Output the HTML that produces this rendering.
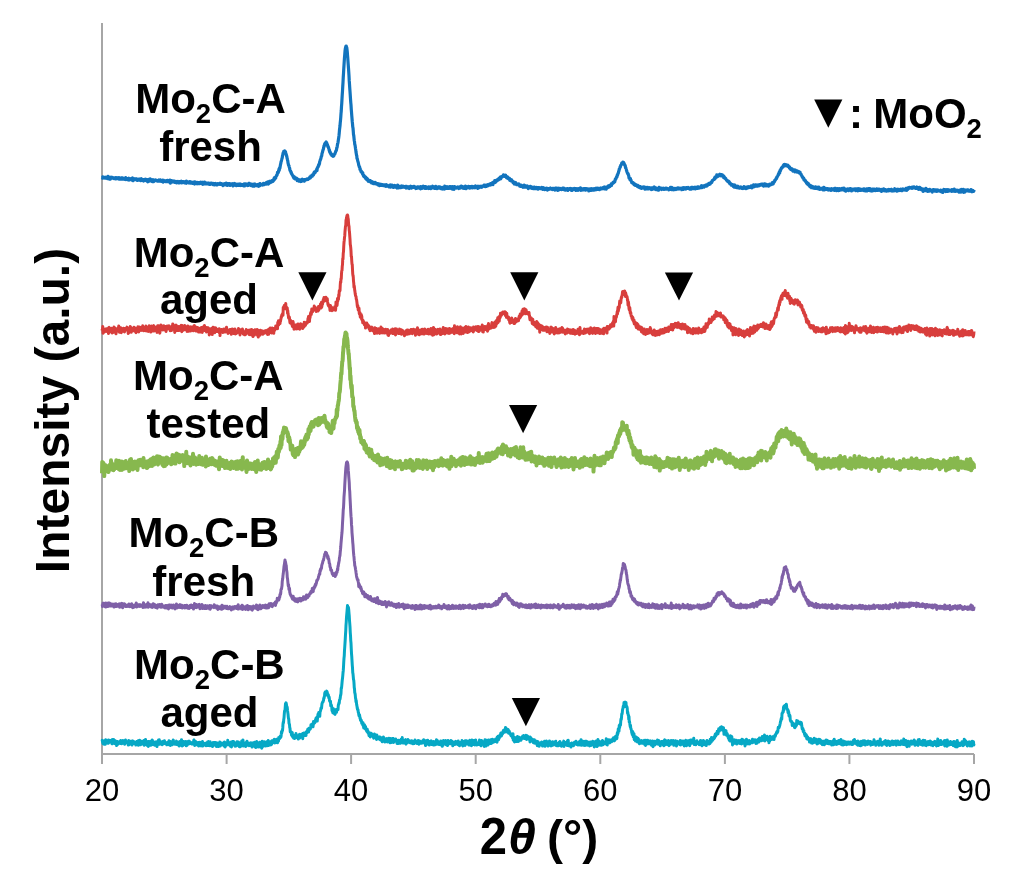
<!DOCTYPE html>
<html><head><meta charset="utf-8"><style>html,body{margin:0;padding:0;background:#fff;width:1024px;height:876px;overflow:hidden}svg text{font-family:'Liberation Sans',sans-serif;fill:#000} svg{will-change:transform}</style></head>
<body><svg width="1024" height="876" viewBox="0 0 1024 876" style="display:block;font-family:'Liberation Sans',sans-serif"><path d="M102,23 V754 H974" fill="none" stroke="#a6a6a6" stroke-width="2"/><line x1="102.0" y1="754" x2="102.0" y2="764" stroke="#a6a6a6" stroke-width="2"/><text x="102.0" y="801" text-anchor="middle" font-size="31">20</text><line x1="226.6" y1="754" x2="226.6" y2="764" stroke="#a6a6a6" stroke-width="2"/><text x="226.6" y="801" text-anchor="middle" font-size="31">30</text><line x1="351.1" y1="754" x2="351.1" y2="764" stroke="#a6a6a6" stroke-width="2"/><text x="351.1" y="801" text-anchor="middle" font-size="31">40</text><line x1="475.7" y1="754" x2="475.7" y2="764" stroke="#a6a6a6" stroke-width="2"/><text x="475.7" y="801" text-anchor="middle" font-size="31">50</text><line x1="600.3" y1="754" x2="600.3" y2="764" stroke="#a6a6a6" stroke-width="2"/><text x="600.3" y="801" text-anchor="middle" font-size="31">60</text><line x1="724.9" y1="754" x2="724.9" y2="764" stroke="#a6a6a6" stroke-width="2"/><text x="724.9" y="801" text-anchor="middle" font-size="31">70</text><line x1="849.4" y1="754" x2="849.4" y2="764" stroke="#a6a6a6" stroke-width="2"/><text x="849.4" y="801" text-anchor="middle" font-size="31">80</text><line x1="974.0" y1="754" x2="974.0" y2="764" stroke="#a6a6a6" stroke-width="2"/><text x="974.0" y="801" text-anchor="middle" font-size="31">90</text><polyline points="102.00,177.7 102.25,178.0 102.50,177.7 102.75,176.9 103.00,178.1 103.25,177.8 103.50,177.3 103.75,177.9 104.00,177.8 104.25,177.8 104.50,177.7 104.75,178.0 105.00,177.3 105.25,177.6 105.50,177.5 105.75,178.1 106.00,177.8 106.25,177.6 106.50,177.4 106.75,177.7 107.00,177.8 107.25,177.7 107.50,178.6 107.75,178.4 108.00,176.4 108.25,176.9 108.50,177.8 108.75,177.7 109.00,178.1 109.25,178.1 109.50,179.1 109.75,177.4 110.00,177.8 110.25,179.1 110.50,178.4 110.75,178.4 111.00,177.8 111.25,177.2 111.50,178.2 111.75,178.2 112.00,177.4 112.25,177.8 112.50,178.1 112.75,177.6 113.00,178.1 113.25,178.2 113.50,178.2 113.75,177.9 114.00,178.6 114.25,178.7 114.50,178.4 114.75,177.8 115.00,178.7 115.25,178.0 115.50,178.8 115.75,177.7 116.00,178.9 116.25,178.4 116.50,177.7 116.75,178.2 117.00,178.4 117.25,178.6 117.50,177.9 117.75,177.8 118.00,178.6 118.25,178.2 118.50,178.6 118.75,178.9 119.00,177.6 119.25,178.7 119.50,179.2 119.75,178.4 120.00,178.1 120.25,179.0 120.50,178.8 120.75,179.1 121.00,178.5 121.25,177.8 121.50,178.6 121.75,178.4 122.00,179.1 122.25,178.8 122.50,177.8 122.75,178.1 123.00,179.2 123.25,179.2 123.50,178.4 123.75,178.8 124.00,179.1 124.25,179.1 124.50,179.3 124.75,179.0 125.00,178.8 125.25,178.8 125.50,179.5 125.75,177.7 126.00,178.9 126.25,179.0 126.50,178.2 126.75,179.2 127.00,178.6 127.25,179.5 127.50,179.0 127.75,179.4 128.00,179.7 128.25,179.3 128.50,178.6 128.75,178.3 129.00,180.1 129.25,179.1 129.50,178.8 129.75,179.2 130.00,179.1 130.25,179.7 130.50,179.2 130.75,179.2 131.00,178.8 131.25,179.5 131.50,178.7 131.75,179.6 132.00,180.1 132.25,178.5 132.50,178.0 132.75,179.7 133.00,180.7 133.25,178.8 133.50,178.7 133.75,179.7 134.00,178.9 134.25,179.1 134.50,179.2 134.75,179.7 135.00,179.2 135.25,179.6 135.50,179.4 135.75,179.0 136.00,179.3 136.25,179.0 136.50,179.6 136.75,179.0 137.00,179.0 137.25,180.4 137.50,179.6 137.75,179.6 138.00,179.9 138.25,179.4 138.50,179.5 138.75,179.9 139.00,179.9 139.25,179.1 139.50,180.2 139.75,179.4 140.00,179.2 140.25,179.3 140.50,179.6 140.75,180.7 141.00,179.2 141.25,179.9 141.50,178.7 141.75,179.9 142.00,180.4 142.25,179.8 142.50,179.6 142.75,180.0 143.00,180.3 143.25,180.3 143.50,181.0 143.75,180.1 144.00,179.7 144.25,179.9 144.50,180.0 144.75,180.1 145.00,180.0 145.25,180.2 145.50,179.2 145.75,180.5 146.00,179.8 146.25,179.5 146.50,180.5 146.75,180.9 147.00,180.4 147.25,180.3 147.50,179.7 147.75,181.8 148.00,180.7 148.25,179.6 148.50,179.8 148.75,180.3 149.00,179.4 149.25,180.4 149.50,180.1 149.75,181.0 150.00,180.9 150.25,178.9 150.50,180.4 150.75,179.5 151.00,181.0 151.25,180.5 151.50,180.7 151.75,179.9 152.00,181.5 152.25,181.6 152.50,179.9 152.75,180.7 153.00,180.1 153.25,180.5 153.50,179.8 153.75,181.6 154.00,180.0 154.25,180.4 154.50,180.9 154.75,180.3 155.00,180.5 155.25,180.3 155.50,180.6 155.75,180.0 156.00,180.4 156.25,180.6 156.50,180.5 156.75,180.8 157.00,180.6 157.25,181.2 157.50,180.6 157.75,180.7 158.00,180.4 158.25,180.5 158.50,180.1 158.75,181.1 159.00,180.2 159.25,180.5 159.50,181.1 159.75,181.1 160.00,180.7 160.25,179.8 160.50,181.2 160.75,181.1 161.00,180.2 161.25,181.4 161.50,180.6 161.75,180.4 162.00,181.1 162.25,180.9 162.50,181.2 162.75,180.2 163.00,182.1 163.25,180.8 163.50,180.3 163.75,181.5 164.00,181.0 164.25,181.3 164.50,181.0 164.75,181.2 165.00,181.3 165.25,180.8 165.50,181.6 165.75,181.0 166.00,180.8 166.25,181.3 166.50,181.5 166.75,181.2 167.00,180.8 167.25,181.7 167.50,180.4 167.75,180.8 168.00,181.4 168.25,180.6 168.50,181.4 168.75,181.4 169.00,181.9 169.25,180.9 169.50,181.1 169.75,181.7 170.00,180.1 170.25,183.2 170.50,181.1 170.75,181.1 171.00,182.0 171.25,181.5 171.50,180.6 171.75,181.9 172.00,182.1 172.25,181.4 172.50,181.5 172.75,181.9 173.00,181.2 173.25,181.9 173.50,181.8 173.75,181.3 174.00,181.0 174.25,181.6 174.50,181.3 174.75,182.3 175.00,181.9 175.25,182.2 175.50,181.9 175.75,182.0 176.00,181.4 176.25,182.2 176.50,182.8 176.75,181.7 177.00,181.6 177.25,181.8 177.50,181.6 177.75,181.5 178.00,182.0 178.25,181.8 178.50,182.8 178.75,182.0 179.00,182.2 179.25,182.5 179.50,181.9 179.75,182.8 180.00,181.7 180.25,181.6 180.50,181.9 180.75,182.0 181.00,181.3 181.25,182.1 181.50,181.2 181.75,182.9 182.00,182.1 182.25,181.8 182.50,181.7 182.75,182.0 183.00,182.1 183.25,181.7 183.50,181.7 183.75,182.1 184.00,182.0 184.25,182.8 184.50,182.9 184.75,182.3 185.00,182.6 185.25,181.6 185.50,182.7 185.75,182.3 186.00,182.6 186.25,183.3 186.50,181.1 186.75,182.5 187.00,181.8 187.25,182.8 187.50,181.7 187.75,182.2 188.00,182.6 188.25,182.8 188.50,182.5 188.75,182.1 189.00,182.2 189.25,183.0 189.50,182.5 189.75,181.6 190.00,183.0 190.25,182.8 190.50,183.1 190.75,182.4 191.00,183.1 191.25,182.1 191.50,183.0 191.75,182.4 192.00,183.0 192.25,183.2 192.50,182.3 192.75,182.7 193.00,182.7 193.25,183.4 193.50,183.1 193.75,182.1 194.00,183.0 194.25,183.2 194.50,184.0 194.75,181.9 195.00,182.5 195.25,183.6 195.50,182.1 195.75,182.2 196.00,183.2 196.25,183.5 196.50,182.5 196.75,183.2 197.00,183.0 197.25,183.8 197.50,183.0 197.75,183.5 198.00,182.5 198.25,182.9 198.50,183.0 198.75,183.6 199.00,183.4 199.25,182.6 199.50,183.4 199.75,183.5 200.00,183.0 200.25,183.0 200.50,183.0 200.75,182.2 201.00,183.2 201.25,183.3 201.50,182.7 201.75,183.6 202.00,182.4 202.25,182.9 202.50,182.9 202.75,184.3 203.00,182.4 203.25,183.6 203.50,183.8 203.75,183.5 204.00,183.9 204.25,182.7 204.50,182.1 204.75,183.7 205.00,182.7 205.25,183.2 205.50,182.7 205.75,183.9 206.00,183.9 206.25,183.0 206.50,183.9 206.75,183.5 207.00,183.4 207.25,183.5 207.50,183.3 207.75,183.8 208.00,183.6 208.25,183.3 208.50,184.1 208.75,183.2 209.00,183.7 209.25,183.8 209.50,184.4 209.75,183.3 210.00,184.5 210.25,183.7 210.50,183.5 210.75,183.2 211.00,183.9 211.25,183.7 211.50,183.0 211.75,183.0 212.00,183.4 212.25,183.3 212.50,184.3 212.75,184.5 213.00,184.2 213.25,183.9 213.50,183.5 213.75,183.8 214.00,184.2 214.25,184.9 214.50,184.3 214.75,183.6 215.00,183.8 215.25,183.6 215.50,183.4 215.75,183.7 216.00,184.0 216.25,184.9 216.50,183.9 216.75,184.6 217.00,184.9 217.25,184.0 217.50,184.8 217.75,184.3 218.00,183.7 218.25,184.1 218.50,184.0 218.75,183.9 219.00,183.9 219.25,184.1 219.50,184.3 219.75,183.5 220.00,184.0 220.25,183.2 220.50,184.2 220.75,184.4 221.00,184.2 221.25,184.2 221.50,184.4 221.75,183.7 222.00,184.0 222.25,184.4 222.50,184.7 222.75,184.4 223.00,185.6 223.25,184.1 223.50,184.7 223.75,184.9 224.00,184.1 224.25,183.8 224.50,183.6 224.75,184.3 225.00,184.9 225.25,184.4 225.50,184.4 225.75,184.1 226.00,184.6 226.25,183.1 226.50,184.4 226.75,184.3 227.00,183.6 227.25,185.5 227.50,183.6 227.75,183.8 228.00,183.7 228.25,185.0 228.50,183.9 228.75,184.8 229.00,184.7 229.25,184.6 229.50,183.7 229.75,184.1 230.00,185.4 230.25,183.8 230.50,184.0 230.75,184.4 231.00,184.9 231.25,184.6 231.50,184.9 231.75,183.9 232.00,185.0 232.25,184.9 232.50,183.7 232.75,185.4 233.00,185.8 233.25,184.2 233.50,184.6 233.75,185.4 234.00,183.8 234.25,183.5 234.50,183.9 234.75,184.3 235.00,184.3 235.25,185.0 235.50,184.8 235.75,184.0 236.00,185.0 236.25,185.7 236.50,185.3 236.75,185.2 237.00,184.7 237.25,185.3 237.50,184.2 237.75,185.1 238.00,184.7 238.25,185.4 238.50,185.0 238.75,184.2 239.00,184.8 239.25,185.4 239.50,184.2 239.75,184.5 240.00,184.4 240.25,184.0 240.50,185.3 240.75,185.5 241.00,185.3 241.25,185.0 241.50,184.8 241.75,185.0 242.00,184.4 242.25,185.3 242.50,185.4 242.75,185.4 243.00,184.6 243.25,184.9 243.50,184.8 243.75,185.9 244.00,185.0 244.25,183.9 244.50,185.1 244.75,185.9 245.00,185.3 245.25,185.4 245.50,184.9 245.75,183.8 246.00,183.9 246.25,184.3 246.50,184.9 246.75,185.1 247.00,185.3 247.25,184.8 247.50,185.5 247.75,184.8 248.00,184.6 248.25,185.4 248.50,184.5 248.75,183.5 249.00,184.4 249.25,185.0 249.50,183.3 249.75,184.8 250.00,184.8 250.25,184.2 250.50,184.2 250.75,184.7 251.00,184.7 251.25,185.7 251.50,185.2 251.75,184.1 252.00,184.5 252.25,185.4 252.50,186.0 252.75,185.2 253.00,185.1 253.25,186.0 253.50,184.9 253.75,184.8 254.00,184.2 254.25,184.7 254.50,186.1 254.75,184.2 255.00,184.9 255.25,184.2 255.50,185.0 255.75,185.4 256.00,184.8 256.25,185.3 256.50,185.3 256.75,185.1 257.00,185.8 257.25,185.3 257.50,184.7 257.75,184.5 258.00,184.4 258.25,185.1 258.50,184.6 258.75,186.3 259.00,185.8 259.25,184.7 259.50,184.6 259.75,185.7 260.00,183.7 260.25,184.4 260.50,185.2 260.75,184.1 261.00,184.3 261.25,184.4 261.50,184.9 261.75,184.6 262.00,184.7 262.25,184.8 262.50,184.4 262.75,185.0 263.00,183.9 263.25,183.5 263.50,183.3 263.75,183.3 264.00,183.8 264.25,184.7 264.50,184.1 264.75,183.7 265.00,183.4 265.25,183.6 265.50,183.6 265.75,183.5 266.00,182.9 266.25,183.4 266.50,184.1 266.75,182.3 267.00,183.3 267.25,182.2 267.50,183.4 267.75,182.8 268.00,182.0 268.25,183.1 268.50,184.0 268.75,182.9 269.00,183.4 269.25,182.6 269.50,181.4 269.75,182.7 270.00,182.1 270.25,181.5 270.50,182.5 270.75,182.1 271.00,181.6 271.25,182.2 271.50,181.1 271.75,181.8 272.00,180.7 272.25,181.4 272.50,180.3 272.75,181.5 273.00,180.6 273.25,181.1 273.50,179.6 273.75,179.6 274.00,180.1 274.25,177.9 274.50,178.5 274.75,179.3 275.00,178.7 275.25,178.7 275.50,177.7 275.75,177.8 276.00,176.7 276.25,176.0 276.50,175.4 276.75,175.5 277.00,175.0 277.25,174.5 277.50,172.4 277.75,172.6 278.00,172.8 278.25,172.6 278.50,171.4 278.75,170.5 279.00,169.1 279.25,170.4 279.50,168.0 279.75,168.5 280.00,167.5 280.25,165.9 280.50,164.4 280.75,163.7 281.00,162.0 281.25,161.5 281.50,160.3 281.75,159.4 282.00,158.4 282.25,157.7 282.50,155.6 282.75,155.3 283.00,153.5 283.25,152.6 283.50,152.0 283.75,151.3 284.00,151.8 284.25,151.5 284.50,151.5 284.75,151.0 285.00,151.4 285.25,151.5 285.50,151.8 285.75,153.2 286.00,154.0 286.25,154.3 286.50,156.1 286.75,156.0 287.00,157.8 287.25,158.7 287.50,159.9 287.75,160.7 288.00,162.8 288.25,163.7 288.50,165.0 288.75,165.5 289.00,165.8 289.25,167.1 289.50,167.6 289.75,169.2 290.00,170.4 290.25,170.7 290.50,170.9 290.75,171.6 291.00,172.6 291.25,172.3 291.50,173.6 291.75,174.2 292.00,174.3 292.25,174.8 292.50,175.5 292.75,175.4 293.00,175.7 293.25,176.9 293.50,176.9 293.75,178.0 294.00,176.9 294.25,176.7 294.50,178.4 294.75,178.7 295.00,178.0 295.25,177.8 295.50,178.7 295.75,178.0 296.00,178.9 296.25,178.1 296.50,179.3 296.75,178.4 297.00,179.5 297.25,180.6 297.50,179.7 297.75,180.4 298.00,179.7 298.25,179.7 298.50,179.4 298.75,180.8 299.00,180.3 299.25,181.2 299.50,179.8 299.75,180.3 300.00,180.5 300.25,181.3 300.50,181.5 300.75,180.2 301.00,180.0 301.25,179.7 301.50,181.3 301.75,180.5 302.00,180.2 302.25,180.5 302.50,179.2 302.75,179.6 303.00,181.0 303.25,180.7 303.50,180.5 303.75,179.8 304.00,180.6 304.25,181.2 304.50,179.6 304.75,180.2 305.00,179.8 305.25,180.2 305.50,179.9 305.75,179.8 306.00,179.3 306.25,179.6 306.50,179.2 306.75,179.4 307.00,179.3 307.25,179.6 307.50,178.8 307.75,178.8 308.00,179.4 308.25,178.6 308.50,178.4 308.75,178.9 309.00,178.4 309.25,178.1 309.50,178.0 309.75,177.1 310.00,177.8 310.25,178.1 310.50,177.5 310.75,176.2 311.00,176.9 311.25,176.1 311.50,176.2 311.75,176.2 312.00,175.2 312.25,176.3 312.50,175.3 312.75,175.5 313.00,175.1 313.25,175.2 313.50,174.8 313.75,173.2 314.00,173.6 314.25,172.2 314.50,172.7 314.75,172.9 315.00,172.7 315.25,172.5 315.50,171.3 315.75,171.2 316.00,170.7 316.25,170.8 316.50,170.6 316.75,169.1 317.00,170.7 317.25,168.3 317.50,167.6 317.75,167.5 318.00,167.1 318.25,166.4 318.50,165.2 318.75,165.6 319.00,164.2 319.25,164.3 319.50,163.5 319.75,161.4 320.00,160.8 320.25,160.0 320.50,159.7 320.75,158.8 321.00,158.0 321.25,156.5 321.50,156.2 321.75,155.7 322.00,153.4 322.25,152.9 322.50,152.1 322.75,150.9 323.00,149.8 323.25,149.7 323.50,148.5 323.75,147.4 324.00,145.8 324.25,146.3 324.50,144.8 324.75,143.7 325.00,143.4 325.25,142.9 325.50,143.8 325.75,142.9 326.00,142.8 326.25,142.0 326.50,143.5 326.75,143.1 327.00,143.5 327.25,144.9 327.50,144.8 327.75,146.3 328.00,147.1 328.25,146.5 328.50,148.0 328.75,148.1 329.00,149.5 329.25,150.6 329.50,150.2 329.75,152.3 330.00,151.9 330.25,152.1 330.50,153.1 330.75,154.0 331.00,153.4 331.25,154.4 331.50,154.1 331.75,155.5 332.00,155.3 332.25,155.1 332.50,155.9 332.75,154.9 333.00,155.3 333.25,156.3 333.50,155.3 333.75,155.9 334.00,155.1 334.25,154.4 334.50,154.3 334.75,154.1 335.00,153.4 335.25,152.7 335.50,152.1 335.75,151.1 336.00,151.1 336.25,150.5 336.50,149.7 336.75,147.6 337.00,147.7 337.25,146.2 337.50,144.3 337.75,143.6 338.00,142.5 338.25,140.8 338.50,139.1 338.75,137.4 339.00,135.4 339.25,132.9 339.50,129.8 339.75,127.9 340.00,125.8 340.25,122.7 340.50,120.3 340.75,117.3 341.00,113.7 341.25,111.0 341.50,106.3 341.75,103.3 342.00,98.8 342.25,94.7 342.50,91.0 342.75,86.3 343.00,82.5 343.25,77.4 343.50,73.5 343.75,69.0 344.00,65.1 344.25,61.2 344.50,57.4 344.75,54.7 345.00,51.3 345.25,49.1 345.50,47.9 345.75,46.8 346.00,46.1 346.25,46.1 346.50,47.4 346.75,47.5 347.00,49.5 347.25,51.7 347.50,55.0 347.75,57.9 348.00,61.5 348.25,65.0 348.50,68.4 348.75,72.0 349.00,75.8 349.25,80.9 349.50,84.3 349.75,88.1 350.00,91.5 350.25,95.2 350.50,98.8 350.75,102.3 351.00,104.9 351.25,109.1 351.50,112.2 351.75,115.5 352.00,118.4 352.25,121.5 352.50,123.9 352.75,126.9 353.00,128.0 353.25,131.0 353.50,134.5 353.75,135.5 354.00,138.0 354.25,140.5 354.50,141.7 354.75,144.3 355.00,145.1 355.25,146.6 355.50,148.5 355.75,149.9 356.00,152.1 356.25,153.4 356.50,155.1 356.75,155.7 357.00,158.7 357.25,158.6 357.50,159.7 357.75,161.0 358.00,161.7 358.25,162.5 358.50,163.8 358.75,165.1 359.00,165.8 359.25,166.7 359.50,166.8 359.75,167.4 360.00,169.5 360.25,169.0 360.50,170.0 360.75,170.7 361.00,171.7 361.25,170.8 361.50,171.8 361.75,172.3 362.00,172.9 362.25,172.2 362.50,173.9 362.75,172.8 363.00,174.9 363.25,175.4 363.50,175.8 363.75,175.2 364.00,176.6 364.25,176.0 364.50,176.1 364.75,176.6 365.00,176.9 365.25,177.7 365.50,178.3 365.75,177.0 366.00,178.1 366.25,179.1 366.50,178.9 366.75,179.3 367.00,178.4 367.25,179.9 367.50,178.8 367.75,179.9 368.00,180.7 368.25,181.2 368.50,180.6 368.75,181.0 369.00,180.3 369.25,180.5 369.50,181.6 369.75,181.1 370.00,181.2 370.25,180.6 370.50,181.6 370.75,181.9 371.00,181.3 371.25,181.6 371.50,182.8 371.75,182.2 372.00,182.0 372.25,181.7 372.50,182.1 372.75,182.4 373.00,183.3 373.25,182.4 373.50,183.7 373.75,182.4 374.00,182.8 374.25,183.5 374.50,183.0 374.75,182.8 375.00,183.2 375.25,183.6 375.50,182.5 375.75,183.4 376.00,183.5 376.25,183.4 376.50,184.1 376.75,183.5 377.00,183.7 377.25,183.9 377.50,184.4 377.75,183.9 378.00,184.9 378.25,183.7 378.50,184.9 378.75,183.8 379.00,184.3 379.25,184.6 379.50,185.6 379.75,185.0 380.00,184.3 380.25,185.3 380.50,184.5 380.75,184.3 381.00,185.0 381.25,184.9 381.50,185.4 381.75,184.6 382.00,185.1 382.25,185.3 382.50,185.2 382.75,185.0 383.00,184.7 383.25,185.6 383.50,185.3 383.75,185.5 384.00,185.1 384.25,185.3 384.50,184.8 384.75,185.4 385.00,185.8 385.25,185.5 385.50,185.9 385.75,185.7 386.00,186.3 386.25,185.5 386.50,184.7 386.75,185.9 387.00,185.6 387.25,185.2 387.50,186.1 387.75,185.9 388.00,186.0 388.25,185.6 388.50,185.9 388.75,186.0 389.00,186.9 389.25,185.6 389.50,185.9 389.75,186.2 390.00,185.1 390.25,185.2 390.50,187.2 390.75,185.1 391.00,186.4 391.25,185.7 391.50,185.7 391.75,185.1 392.00,185.7 392.25,186.6 392.50,185.5 392.75,186.6 393.00,186.5 393.25,187.4 393.50,186.1 393.75,187.0 394.00,186.8 394.25,186.2 394.50,185.5 394.75,187.2 395.00,185.7 395.25,186.2 395.50,187.0 395.75,187.1 396.00,186.1 396.25,186.5 396.50,186.4 396.75,187.2 397.00,188.0 397.25,185.6 397.50,187.1 397.75,185.1 398.00,186.7 398.25,186.1 398.50,187.8 398.75,186.8 399.00,186.3 399.25,186.5 399.50,186.4 399.75,186.9 400.00,186.7 400.25,187.2 400.50,187.7 400.75,187.2 401.00,186.2 401.25,186.0 401.50,186.4 401.75,187.4 402.00,186.7 402.25,186.5 402.50,187.0 402.75,186.1 403.00,186.3 403.25,187.2 403.50,186.8 403.75,186.7 404.00,187.1 404.25,186.7 404.50,186.6 404.75,186.8 405.00,187.3 405.25,187.1 405.50,186.4 405.75,186.9 406.00,187.4 406.25,188.1 406.50,186.4 406.75,187.3 407.00,186.9 407.25,187.5 407.50,187.4 407.75,187.9 408.00,187.4 408.25,186.8 408.50,186.8 408.75,187.4 409.00,187.4 409.25,188.5 409.50,188.1 409.75,186.5 410.00,187.4 410.25,186.5 410.50,186.3 410.75,187.6 411.00,187.5 411.25,186.7 411.50,188.1 411.75,186.7 412.00,186.6 412.25,187.6 412.50,187.4 412.75,187.2 413.00,187.2 413.25,187.4 413.50,187.2 413.75,187.2 414.00,186.3 414.25,186.6 414.50,187.7 414.75,186.9 415.00,187.6 415.25,188.0 415.50,187.1 415.75,187.5 416.00,188.5 416.25,187.7 416.50,188.4 416.75,188.2 417.00,187.8 417.25,187.3 417.50,186.9 417.75,186.8 418.00,187.7 418.25,187.7 418.50,187.3 418.75,187.9 419.00,187.1 419.25,188.0 419.50,187.5 419.75,187.4 420.00,187.4 420.25,187.4 420.50,188.8 420.75,186.6 421.00,187.6 421.25,188.1 421.50,187.9 421.75,187.3 422.00,188.4 422.25,186.9 422.50,186.8 422.75,187.8 423.00,186.7 423.25,186.2 423.50,188.0 423.75,187.9 424.00,187.9 424.25,187.2 424.50,187.6 424.75,187.0 425.00,188.5 425.25,188.0 425.50,187.9 425.75,186.5 426.00,188.0 426.25,188.4 426.50,188.2 426.75,188.0 427.00,187.6 427.25,187.4 427.50,187.9 427.75,187.8 428.00,187.7 428.25,187.4 428.50,188.5 428.75,186.9 429.00,187.6 429.25,187.3 429.50,188.2 429.75,188.4 430.00,188.3 430.25,188.0 430.50,186.8 430.75,188.7 431.00,187.9 431.25,187.5 431.50,187.6 431.75,187.4 432.00,187.8 432.25,187.8 432.50,187.4 432.75,186.2 433.00,187.6 433.25,187.9 433.50,187.9 433.75,187.5 434.00,187.9 434.25,188.2 434.50,187.4 434.75,188.4 435.00,186.6 435.25,187.0 435.50,187.1 435.75,186.3 436.00,187.1 436.25,188.3 436.50,188.3 436.75,187.7 437.00,188.6 437.25,187.8 437.50,187.4 437.75,187.8 438.00,187.6 438.25,188.1 438.50,186.8 438.75,188.2 439.00,187.4 439.25,188.1 439.50,186.8 439.75,187.4 440.00,187.7 440.25,188.2 440.50,187.0 440.75,188.6 441.00,187.9 441.25,187.4 441.50,188.3 441.75,187.7 442.00,188.3 442.25,189.0 442.50,188.1 442.75,187.4 443.00,187.4 443.25,188.0 443.50,187.8 443.75,187.2 444.00,187.3 444.25,188.0 444.50,189.0 444.75,186.2 445.00,188.1 445.25,187.6 445.50,188.1 445.75,188.2 446.00,187.7 446.25,187.1 446.50,186.9 446.75,186.7 447.00,188.4 447.25,187.6 447.50,187.4 447.75,187.5 448.00,187.0 448.25,187.9 448.50,188.4 448.75,188.3 449.00,186.8 449.25,188.4 449.50,187.3 449.75,186.6 450.00,187.0 450.25,187.1 450.50,187.7 450.75,187.1 451.00,186.8 451.25,187.5 451.50,188.7 451.75,187.3 452.00,187.9 452.25,187.7 452.50,189.1 452.75,186.6 453.00,188.3 453.25,187.0 453.50,187.3 453.75,187.6 454.00,189.4 454.25,187.2 454.50,186.6 454.75,188.4 455.00,187.2 455.25,187.5 455.50,187.6 455.75,187.7 456.00,187.5 456.25,187.8 456.50,187.8 456.75,188.1 457.00,187.4 457.25,187.2 457.50,187.0 457.75,187.9 458.00,187.6 458.25,187.9 458.50,187.9 458.75,188.5 459.00,187.7 459.25,188.0 459.50,186.9 459.75,187.0 460.00,187.4 460.25,186.9 460.50,188.0 460.75,186.8 461.00,187.6 461.25,186.2 461.50,187.0 461.75,187.4 462.00,187.4 462.25,186.6 462.50,187.6 462.75,188.1 463.00,187.9 463.25,187.2 463.50,187.2 463.75,186.9 464.00,187.9 464.25,188.3 464.50,187.2 464.75,186.6 465.00,187.6 465.25,187.9 465.50,186.0 465.75,187.5 466.00,188.6 466.25,187.9 466.50,187.7 466.75,187.7 467.00,188.0 467.25,186.9 467.50,187.0 467.75,187.6 468.00,187.0 468.25,187.5 468.50,186.3 468.75,187.8 469.00,187.8 469.25,187.4 469.50,187.4 469.75,188.2 470.00,186.7 470.25,186.8 470.50,186.7 470.75,187.1 471.00,186.7 471.25,187.3 471.50,186.9 471.75,186.4 472.00,186.4 472.25,187.9 472.50,187.2 472.75,187.1 473.00,187.2 473.25,187.1 473.50,187.6 473.75,187.4 474.00,186.8 474.25,186.6 474.50,186.5 474.75,186.4 475.00,187.8 475.25,186.5 475.50,185.9 475.75,186.5 476.00,186.5 476.25,187.1 476.50,186.5 476.75,187.2 477.00,187.1 477.25,187.6 477.50,188.0 477.75,188.4 478.00,187.5 478.25,186.2 478.50,186.5 478.75,186.9 479.00,187.8 479.25,187.1 479.50,187.3 479.75,186.5 480.00,186.9 480.25,187.0 480.50,186.3 480.75,186.9 481.00,187.1 481.25,186.4 481.50,187.0 481.75,187.3 482.00,186.4 482.25,186.3 482.50,186.1 482.75,185.9 483.00,186.3 483.25,185.9 483.50,185.9 483.75,185.7 484.00,185.2 484.25,185.5 484.50,186.1 484.75,185.2 485.00,185.5 485.25,186.7 485.50,186.3 485.75,185.3 486.00,186.0 486.25,185.2 486.50,186.4 486.75,185.1 487.00,185.4 487.25,186.1 487.50,184.8 487.75,185.9 488.00,184.7 488.25,185.2 488.50,184.8 488.75,184.8 489.00,184.9 489.25,184.7 489.50,184.1 489.75,185.0 490.00,184.9 490.25,185.1 490.50,185.0 490.75,183.5 491.00,184.8 491.25,184.7 491.50,183.6 491.75,184.3 492.00,184.4 492.25,183.2 492.50,182.6 492.75,183.1 493.00,184.6 493.25,183.1 493.50,182.2 493.75,182.6 494.00,182.0 494.25,182.2 494.50,182.3 494.75,180.7 495.00,182.1 495.25,182.5 495.50,181.5 495.75,181.2 496.00,181.8 496.25,180.4 496.50,180.2 496.75,179.9 497.00,180.4 497.25,180.5 497.50,180.0 497.75,180.2 498.00,180.1 498.25,179.7 498.50,178.8 498.75,178.9 499.00,179.5 499.25,178.1 499.50,178.3 499.75,178.0 500.00,177.9 500.25,177.3 500.50,176.9 500.75,178.8 501.00,177.8 501.25,176.7 501.50,176.9 501.75,177.1 502.00,176.5 502.25,176.9 502.50,176.1 502.75,176.1 503.00,176.2 503.25,175.9 503.50,174.8 503.75,176.1 504.00,176.2 504.25,176.3 504.50,175.6 504.75,176.3 505.00,176.3 505.25,175.3 505.50,175.1 505.75,176.6 506.00,176.0 506.25,177.1 506.50,177.8 506.75,176.6 507.00,176.7 507.25,177.2 507.50,177.7 507.75,177.0 508.00,178.4 508.25,178.5 508.50,178.5 508.75,178.1 509.00,179.1 509.25,179.2 509.50,178.4 509.75,180.3 510.00,179.3 510.25,179.8 510.50,179.6 510.75,180.3 511.00,180.9 511.25,180.1 511.50,179.8 511.75,180.7 512.00,180.4 512.25,180.9 512.50,181.4 512.75,181.6 513.00,182.5 513.25,181.5 513.50,182.4 513.75,182.1 514.00,183.3 514.25,184.0 514.50,183.0 514.75,183.9 515.00,182.9 515.25,182.5 515.50,182.8 515.75,182.7 516.00,183.2 516.25,183.7 516.50,184.6 516.75,184.5 517.00,184.5 517.25,184.1 517.50,184.1 517.75,184.6 518.00,184.7 518.25,184.9 518.50,185.1 518.75,184.9 519.00,184.0 519.25,184.5 519.50,184.8 519.75,186.2 520.00,185.2 520.25,185.8 520.50,186.4 520.75,185.8 521.00,185.5 521.25,185.6 521.50,185.3 521.75,186.1 522.00,186.6 522.25,186.4 522.50,186.5 522.75,186.6 523.00,187.3 523.25,186.0 523.50,186.4 523.75,186.8 524.00,187.1 524.25,185.2 524.50,186.3 524.75,186.5 525.00,186.1 525.25,187.2 525.50,186.9 525.75,186.6 526.00,186.0 526.25,186.2 526.50,186.4 526.75,187.2 527.00,186.4 527.25,185.9 527.50,186.3 527.75,186.8 528.00,188.1 528.25,188.6 528.50,187.0 528.75,187.8 529.00,188.1 529.25,188.0 529.50,187.3 529.75,186.7 530.00,187.2 530.25,186.4 530.50,187.6 530.75,187.9 531.00,186.5 531.25,187.5 531.50,187.8 531.75,188.3 532.00,188.4 532.25,188.1 532.50,187.3 532.75,187.5 533.00,188.4 533.25,187.4 533.50,187.8 533.75,188.7 534.00,187.9 534.25,187.1 534.50,187.7 534.75,188.3 535.00,187.8 535.25,188.6 535.50,188.7 535.75,187.6 536.00,187.7 536.25,188.0 536.50,187.4 536.75,188.3 537.00,188.0 537.25,188.5 537.50,187.8 537.75,187.7 538.00,189.2 538.25,187.7 538.50,187.9 538.75,187.8 539.00,188.1 539.25,187.7 539.50,188.2 539.75,187.9 540.00,188.1 540.25,188.5 540.50,188.7 540.75,188.6 541.00,187.9 541.25,188.6 541.50,188.3 541.75,188.3 542.00,187.5 542.25,188.8 542.50,188.4 542.75,189.4 543.00,188.8 543.25,187.9 543.50,187.7 543.75,189.1 544.00,188.0 544.25,188.9 544.50,188.4 544.75,189.7 545.00,188.6 545.25,189.4 545.50,189.3 545.75,188.3 546.00,188.4 546.25,189.4 546.50,188.6 546.75,188.2 547.00,189.3 547.25,190.1 547.50,188.6 547.75,189.4 548.00,188.6 548.25,189.4 548.50,188.6 548.75,189.5 549.00,189.0 549.25,188.6 549.50,188.9 549.75,188.5 550.00,188.2 550.25,188.2 550.50,188.8 550.75,188.2 551.00,189.1 551.25,189.1 551.50,189.1 551.75,188.6 552.00,188.9 552.25,188.9 552.50,189.6 552.75,188.4 553.00,188.7 553.25,188.8 553.50,188.8 553.75,188.5 554.00,188.6 554.25,189.5 554.50,188.6 554.75,189.5 555.00,190.1 555.25,189.7 555.50,188.0 555.75,189.4 556.00,189.3 556.25,189.3 556.50,188.1 556.75,189.4 557.00,188.4 557.25,189.7 557.50,189.6 557.75,190.4 558.00,188.8 558.25,188.2 558.50,189.6 558.75,189.5 559.00,188.9 559.25,189.8 559.50,189.5 559.75,188.4 560.00,188.9 560.25,188.9 560.50,189.0 560.75,189.2 561.00,188.7 561.25,189.0 561.50,189.5 561.75,189.1 562.00,189.0 562.25,189.0 562.50,189.1 562.75,188.1 563.00,189.3 563.25,188.6 563.50,189.2 563.75,188.4 564.00,189.7 564.25,189.3 564.50,188.5 564.75,189.3 565.00,188.8 565.25,190.2 565.50,189.5 565.75,188.8 566.00,189.3 566.25,189.2 566.50,189.9 566.75,189.4 567.00,189.5 567.25,188.6 567.50,189.7 567.75,190.4 568.00,189.6 568.25,189.2 568.50,189.4 568.75,188.8 569.00,189.4 569.25,188.7 569.50,189.3 569.75,189.1 570.00,188.8 570.25,189.6 570.50,188.5 570.75,189.3 571.00,188.6 571.25,190.3 571.50,190.4 571.75,189.8 572.00,190.4 572.25,189.7 572.50,189.6 572.75,189.1 573.00,188.8 573.25,189.4 573.50,189.1 573.75,189.1 574.00,189.7 574.25,189.3 574.50,188.5 574.75,189.2 575.00,188.9 575.25,189.2 575.50,188.8 575.75,190.0 576.00,190.4 576.25,188.8 576.50,189.7 576.75,189.7 577.00,188.8 577.25,189.4 577.50,190.2 577.75,189.8 578.00,190.3 578.25,188.7 578.50,189.0 578.75,189.5 579.00,189.6 579.25,189.4 579.50,189.2 579.75,189.2 580.00,189.1 580.25,189.6 580.50,187.9 580.75,190.3 581.00,189.1 581.25,188.6 581.50,189.7 581.75,188.6 582.00,189.6 582.25,189.2 582.50,189.7 582.75,189.8 583.00,190.1 583.25,189.1 583.50,189.2 583.75,189.4 584.00,188.6 584.25,189.7 584.50,189.4 584.75,188.6 585.00,190.0 585.25,190.1 585.50,188.6 585.75,189.7 586.00,190.0 586.25,189.8 586.50,188.8 586.75,188.6 587.00,189.3 587.25,189.1 587.50,189.3 587.75,189.3 588.00,189.6 588.25,189.0 588.50,189.2 588.75,190.9 589.00,189.2 589.25,189.7 589.50,189.5 589.75,189.4 590.00,188.8 590.25,189.6 590.50,189.2 590.75,189.7 591.00,190.4 591.25,189.4 591.50,189.7 591.75,188.7 592.00,189.3 592.25,190.1 592.50,189.2 592.75,188.9 593.00,189.3 593.25,189.1 593.50,189.0 593.75,189.0 594.00,190.2 594.25,188.7 594.50,188.9 594.75,188.8 595.00,189.8 595.25,188.9 595.50,189.8 595.75,189.2 596.00,189.0 596.25,188.2 596.50,189.7 596.75,189.3 597.00,189.2 597.25,188.9 597.50,188.7 597.75,188.2 598.00,189.4 598.25,189.0 598.50,188.7 598.75,188.5 599.00,188.9 599.25,188.7 599.50,189.7 599.75,189.2 600.00,188.4 600.25,188.1 600.50,188.5 600.75,188.1 601.00,188.6 601.25,188.8 601.50,188.8 601.75,188.7 602.00,188.3 602.25,188.7 602.50,187.8 602.75,188.2 603.00,188.7 603.25,188.3 603.50,187.4 603.75,187.4 604.00,187.1 604.25,188.9 604.50,187.1 604.75,187.8 605.00,188.8 605.25,188.3 605.50,188.4 605.75,187.3 606.00,187.9 606.25,189.1 606.50,187.3 606.75,187.5 607.00,187.0 607.25,187.1 607.50,187.2 607.75,187.6 608.00,186.3 608.25,185.9 608.50,186.6 608.75,186.5 609.00,187.1 609.25,186.6 609.50,185.7 609.75,186.2 610.00,186.4 610.25,185.8 610.50,185.2 610.75,185.6 611.00,184.9 611.25,183.9 611.50,185.4 611.75,183.8 612.00,184.1 612.25,183.8 612.50,183.6 612.75,183.3 613.00,182.5 613.25,183.2 613.50,182.6 613.75,182.3 614.00,182.5 614.25,182.2 614.50,181.9 614.75,181.8 615.00,180.7 615.25,179.2 615.50,179.6 615.75,179.1 616.00,178.6 616.25,177.7 616.50,177.0 616.75,177.3 617.00,176.8 617.25,175.1 617.50,175.3 617.75,174.3 618.00,173.5 618.25,173.3 618.50,172.2 618.75,171.2 619.00,170.8 619.25,169.0 619.50,168.9 619.75,168.2 620.00,167.0 620.25,167.1 620.50,166.4 620.75,165.3 621.00,164.9 621.25,164.7 621.50,164.4 621.75,163.1 622.00,163.2 622.25,163.3 622.50,162.6 622.75,162.1 623.00,162.1 623.25,162.4 623.50,162.3 623.75,164.0 624.00,163.1 624.25,164.0 624.50,164.4 624.75,165.2 625.00,165.4 625.25,165.6 625.50,167.7 625.75,167.6 626.00,168.5 626.25,169.2 626.50,170.5 626.75,171.0 627.00,172.0 627.25,172.6 627.50,172.9 627.75,173.7 628.00,173.9 628.25,173.9 628.50,175.4 628.75,175.6 629.00,178.1 629.25,178.1 629.50,178.5 629.75,178.1 630.00,179.9 630.25,178.4 630.50,179.2 630.75,179.8 631.00,180.1 631.25,181.1 631.50,181.5 631.75,182.7 632.00,182.6 632.25,183.0 632.50,182.9 632.75,182.9 633.00,182.9 633.25,182.7 633.50,183.3 633.75,183.7 634.00,184.6 634.25,183.5 634.50,183.8 634.75,184.9 635.00,184.4 635.25,185.3 635.50,185.0 635.75,185.0 636.00,184.8 636.25,185.6 636.50,185.4 636.75,185.6 637.00,185.7 637.25,186.3 637.50,186.3 637.75,185.4 638.00,186.4 638.25,186.8 638.50,187.2 638.75,187.1 639.00,186.9 639.25,186.3 639.50,186.5 639.75,187.5 640.00,186.7 640.25,187.7 640.50,187.9 640.75,186.7 641.00,187.6 641.25,187.3 641.50,188.5 641.75,187.9 642.00,187.3 642.25,187.8 642.50,187.1 642.75,187.6 643.00,187.8 643.25,187.8 643.50,188.0 643.75,187.3 644.00,186.9 644.25,187.7 644.50,187.5 644.75,187.6 645.00,189.2 645.25,188.7 645.50,188.0 645.75,187.3 646.00,187.4 646.25,188.3 646.50,188.8 646.75,188.0 647.00,188.3 647.25,188.4 647.50,188.9 647.75,187.3 648.00,188.4 648.25,188.6 648.50,188.9 648.75,188.6 649.00,187.8 649.25,188.1 649.50,187.6 649.75,188.5 650.00,188.6 650.25,188.7 650.50,188.0 650.75,187.9 651.00,189.3 651.25,188.6 651.50,189.5 651.75,188.8 652.00,187.8 652.25,189.0 652.50,189.3 652.75,188.4 653.00,187.6 653.25,189.0 653.50,188.6 653.75,188.8 654.00,187.2 654.25,188.9 654.50,187.2 654.75,188.2 655.00,189.2 655.25,187.7 655.50,187.7 655.75,188.5 656.00,189.6 656.25,189.6 656.50,188.4 656.75,189.3 657.00,189.1 657.25,188.9 657.50,188.9 657.75,188.4 658.00,189.2 658.25,189.3 658.50,190.2 658.75,189.3 659.00,187.4 659.25,188.1 659.50,189.0 659.75,188.8 660.00,187.8 660.25,188.7 660.50,188.6 660.75,188.8 661.00,188.7 661.25,189.3 661.50,189.6 661.75,189.2 662.00,188.2 662.25,188.3 662.50,188.4 662.75,188.8 663.00,188.6 663.25,188.6 663.50,188.3 663.75,189.3 664.00,189.3 664.25,189.3 664.50,188.8 664.75,189.1 665.00,188.3 665.25,188.3 665.50,188.5 665.75,189.1 666.00,188.7 666.25,188.2 666.50,188.9 666.75,189.1 667.00,188.9 667.25,188.5 667.50,188.9 667.75,188.6 668.00,188.6 668.25,188.8 668.50,189.2 668.75,189.8 669.00,189.7 669.25,189.2 669.50,188.6 669.75,188.6 670.00,188.7 670.25,189.4 670.50,187.3 670.75,188.9 671.00,187.7 671.25,188.8 671.50,189.5 671.75,188.3 672.00,187.5 672.25,189.5 672.50,189.6 672.75,189.1 673.00,189.5 673.25,188.3 673.50,189.4 673.75,189.7 674.00,189.1 674.25,188.9 674.50,189.5 674.75,189.4 675.00,188.3 675.25,189.5 675.50,189.2 675.75,188.8 676.00,189.5 676.25,189.2 676.50,189.1 676.75,188.4 677.00,189.2 677.25,188.1 677.50,188.6 677.75,187.8 678.00,187.8 678.25,188.9 678.50,188.6 678.75,188.7 679.00,189.0 679.25,188.9 679.50,188.2 679.75,188.7 680.00,188.6 680.25,188.4 680.50,188.6 680.75,188.4 681.00,188.3 681.25,188.4 681.50,188.8 681.75,189.7 682.00,188.2 682.25,188.9 682.50,187.8 682.75,189.5 683.00,188.4 683.25,188.7 683.50,189.3 683.75,189.1 684.00,187.7 684.25,188.9 684.50,188.4 684.75,188.9 685.00,188.6 685.25,188.9 685.50,188.7 685.75,188.4 686.00,189.1 686.25,187.6 686.50,188.2 686.75,187.9 687.00,188.4 687.25,188.2 687.50,188.3 687.75,188.2 688.00,188.2 688.25,187.5 688.50,188.4 688.75,188.5 689.00,188.0 689.25,188.0 689.50,188.0 689.75,189.2 690.00,188.4 690.25,188.5 690.50,188.1 690.75,188.0 691.00,187.8 691.25,189.1 691.50,187.3 691.75,188.4 692.00,188.2 692.25,188.1 692.50,187.3 692.75,187.5 693.00,188.7 693.25,187.8 693.50,188.6 693.75,188.5 694.00,188.4 694.25,188.5 694.50,187.4 694.75,187.8 695.00,188.4 695.25,187.3 695.50,188.9 695.75,187.6 696.00,187.9 696.25,187.3 696.50,188.1 696.75,187.4 697.00,187.7 697.25,187.2 697.50,188.4 697.75,186.8 698.00,187.9 698.25,187.8 698.50,187.9 698.75,187.0 699.00,188.1 699.25,188.0 699.50,187.6 699.75,187.6 700.00,187.3 700.25,187.7 700.50,186.9 700.75,187.6 701.00,187.5 701.25,186.4 701.50,185.7 701.75,187.0 702.00,186.9 702.25,187.6 702.50,186.9 702.75,186.6 703.00,186.0 703.25,186.7 703.50,186.3 703.75,186.0 704.00,186.4 704.25,187.0 704.50,186.4 704.75,185.7 705.00,186.3 705.25,185.4 705.50,185.1 705.75,186.1 706.00,185.4 706.25,186.2 706.50,185.6 706.75,184.9 707.00,185.3 707.25,185.8 707.50,184.8 707.75,184.2 708.00,184.3 708.25,184.0 708.50,183.7 708.75,183.4 709.00,184.2 709.25,184.4 709.50,183.4 709.75,183.8 710.00,183.7 710.25,183.9 710.50,182.7 710.75,182.4 711.00,182.6 711.25,182.2 711.50,182.1 711.75,182.4 712.00,181.2 712.25,181.3 712.50,180.4 712.75,180.6 713.00,180.1 713.25,179.8 713.50,179.8 713.75,179.4 714.00,179.6 714.25,179.5 714.50,178.1 714.75,179.1 715.00,177.2 715.25,178.2 715.50,178.2 715.75,177.2 716.00,177.2 716.25,176.6 716.50,177.3 716.75,174.9 717.00,175.9 717.25,175.2 717.50,176.1 717.75,176.4 718.00,176.2 718.25,175.8 718.50,175.4 718.75,174.8 719.00,175.7 719.25,175.3 719.50,174.5 719.75,174.3 720.00,174.6 720.25,175.5 720.50,175.6 720.75,175.8 721.00,174.6 721.25,174.9 721.50,175.9 721.75,175.4 722.00,175.9 722.25,174.9 722.50,175.6 722.75,176.0 723.00,176.0 723.25,176.2 723.50,175.8 723.75,177.7 724.00,177.1 724.25,176.6 724.50,178.1 724.75,177.9 725.00,178.5 725.25,178.2 725.50,178.2 725.75,178.5 726.00,179.3 726.25,179.8 726.50,179.9 726.75,180.3 727.00,180.9 727.25,180.6 727.50,181.3 727.75,181.6 728.00,181.4 728.25,181.5 728.50,181.5 728.75,181.3 729.00,181.4 729.25,183.1 729.50,182.7 729.75,182.6 730.00,183.9 730.25,183.8 730.50,183.5 730.75,184.2 731.00,183.8 731.25,184.3 731.50,185.2 731.75,185.0 732.00,184.4 732.25,185.1 732.50,185.5 732.75,185.0 733.00,185.0 733.25,186.4 733.50,185.3 733.75,184.9 734.00,185.8 734.25,187.1 734.50,186.3 734.75,186.6 735.00,185.0 735.25,186.0 735.50,187.1 735.75,186.3 736.00,187.3 736.25,186.9 736.50,187.0 736.75,187.7 737.00,186.6 737.25,186.7 737.50,187.1 737.75,187.2 738.00,186.2 738.25,187.9 738.50,187.4 738.75,187.2 739.00,187.7 739.25,187.2 739.50,188.1 739.75,187.5 740.00,187.9 740.25,187.1 740.50,187.5 740.75,187.8 741.00,187.1 741.25,187.3 741.50,187.7 741.75,188.3 742.00,188.2 742.25,188.3 742.50,187.9 742.75,188.3 743.00,188.6 743.25,187.9 743.50,188.0 743.75,188.1 744.00,186.7 744.25,187.8 744.50,188.0 744.75,188.2 745.00,187.6 745.25,188.3 745.50,187.4 745.75,187.7 746.00,188.7 746.25,187.0 746.50,187.7 746.75,187.6 747.00,187.6 747.25,187.4 747.50,188.0 747.75,187.0 748.00,186.8 748.25,187.8 748.50,186.8 748.75,187.6 749.00,187.4 749.25,187.0 749.50,187.1 749.75,187.2 750.00,187.4 750.25,186.8 750.50,187.0 750.75,186.3 751.00,186.8 751.25,185.9 751.50,186.8 751.75,186.6 752.00,187.9 752.25,187.4 752.50,186.5 752.75,187.1 753.00,186.6 753.25,185.8 753.50,185.0 753.75,186.9 754.00,186.4 754.25,185.1 754.50,186.4 754.75,186.5 755.00,185.6 755.25,186.3 755.50,184.9 755.75,185.6 756.00,185.7 756.25,186.0 756.50,185.7 756.75,185.6 757.00,185.7 757.25,185.0 757.50,186.1 757.75,185.1 758.00,185.6 758.25,185.2 758.50,185.0 758.75,185.4 759.00,185.3 759.25,185.7 759.50,185.5 759.75,184.6 760.00,185.2 760.25,184.9 760.50,184.4 760.75,184.3 761.00,185.0 761.25,184.5 761.50,184.1 761.75,184.8 762.00,184.9 762.25,184.9 762.50,184.2 762.75,184.5 763.00,185.6 763.25,184.4 763.50,184.7 763.75,186.1 764.00,185.1 764.25,184.7 764.50,183.9 764.75,185.2 765.00,184.3 765.25,185.0 765.50,184.6 765.75,184.2 766.00,186.0 766.25,185.1 766.50,185.6 766.75,185.6 767.00,184.8 767.25,185.2 767.50,185.0 767.75,185.7 768.00,185.4 768.25,185.0 768.50,186.1 768.75,185.4 769.00,185.4 769.25,184.6 769.50,185.2 769.75,184.2 770.00,185.1 770.25,184.3 770.50,184.8 770.75,184.5 771.00,184.6 771.25,184.6 771.50,184.2 771.75,184.1 772.00,183.1 772.25,182.7 772.50,184.2 772.75,183.6 773.00,182.3 773.25,183.8 773.50,182.2 773.75,182.5 774.00,182.2 774.25,181.7 774.50,181.6 774.75,180.3 775.00,180.6 775.25,180.1 775.50,179.9 775.75,179.3 776.00,178.7 776.25,178.2 776.50,178.6 776.75,177.2 777.00,177.4 777.25,176.9 777.50,176.2 777.75,175.9 778.00,175.5 778.25,174.4 778.50,174.4 778.75,174.6 779.00,172.6 779.25,172.5 779.50,171.8 779.75,172.7 780.00,170.5 780.25,170.7 780.50,170.7 780.75,169.3 781.00,169.2 781.25,168.5 781.50,167.8 781.75,168.0 782.00,167.9 782.25,167.1 782.50,167.1 782.75,167.0 783.00,167.0 783.25,165.5 783.50,166.2 783.75,165.4 784.00,164.6 784.25,165.0 784.50,165.6 784.75,165.3 785.00,164.5 785.25,165.8 785.50,165.2 785.75,165.0 786.00,164.8 786.25,165.3 786.50,165.0 786.75,165.9 787.00,165.6 787.25,165.9 787.50,165.6 787.75,165.2 788.00,166.4 788.25,165.8 788.50,166.5 788.75,166.7 789.00,166.6 789.25,167.7 789.50,166.8 789.75,168.5 790.00,167.7 790.25,168.7 790.50,169.1 790.75,168.3 791.00,168.6 791.25,169.6 791.50,169.4 791.75,169.6 792.00,168.8 792.25,169.1 792.50,170.4 792.75,171.0 793.00,170.1 793.25,170.1 793.50,170.8 793.75,171.0 794.00,171.1 794.25,170.7 794.50,170.0 794.75,171.8 795.00,170.8 795.25,171.8 795.50,170.2 795.75,171.4 796.00,171.0 796.25,170.7 796.50,171.8 796.75,172.0 797.00,171.1 797.25,171.8 797.50,171.0 797.75,171.3 798.00,171.6 798.25,171.7 798.50,172.3 798.75,171.6 799.00,172.8 799.25,173.1 799.50,172.7 799.75,172.5 800.00,172.1 800.25,173.6 800.50,173.6 800.75,174.3 801.00,174.1 801.25,175.0 801.50,175.3 801.75,175.7 802.00,176.3 802.25,176.7 802.50,177.4 802.75,176.9 803.00,178.1 803.25,178.2 803.50,178.3 803.75,178.3 804.00,180.0 804.25,179.7 804.50,179.7 804.75,180.4 805.00,180.7 805.25,180.8 805.50,180.7 805.75,181.8 806.00,181.9 806.25,182.2 806.50,183.1 806.75,182.2 807.00,182.7 807.25,183.5 807.50,184.2 807.75,184.3 808.00,184.6 808.25,183.3 808.50,184.9 808.75,185.1 809.00,185.4 809.25,184.9 809.50,185.7 809.75,186.2 810.00,186.7 810.25,186.1 810.50,185.4 810.75,186.3 811.00,186.7 811.25,186.8 811.50,187.7 811.75,186.7 812.00,186.3 812.25,186.6 812.50,187.4 812.75,186.8 813.00,186.7 813.25,186.9 813.50,188.1 813.75,187.6 814.00,187.4 814.25,188.1 814.50,188.1 814.75,187.3 815.00,188.3 815.25,188.0 815.50,186.8 815.75,187.4 816.00,188.2 816.25,188.4 816.50,188.0 816.75,187.7 817.00,188.4 817.25,187.3 817.50,188.6 817.75,188.3 818.00,188.4 818.25,188.0 818.50,188.9 818.75,187.2 819.00,188.0 819.25,188.8 819.50,188.2 819.75,189.4 820.00,188.8 820.25,188.2 820.50,189.2 820.75,188.6 821.00,189.0 821.25,188.4 821.50,188.4 821.75,189.1 822.00,188.8 822.25,188.4 822.50,188.3 822.75,189.2 823.00,189.8 823.25,188.4 823.50,189.2 823.75,187.3 824.00,188.1 824.25,189.3 824.50,189.8 824.75,189.0 825.00,189.3 825.25,189.1 825.50,189.5 825.75,188.4 826.00,189.4 826.25,188.8 826.50,188.8 826.75,189.0 827.00,188.9 827.25,188.6 827.50,188.9 827.75,188.6 828.00,189.9 828.25,189.5 828.50,188.9 828.75,190.0 829.00,189.8 829.25,189.4 829.50,188.9 829.75,189.3 830.00,189.5 830.25,189.9 830.50,189.1 830.75,188.9 831.00,190.4 831.25,190.0 831.50,189.4 831.75,188.7 832.00,189.5 832.25,189.8 832.50,189.7 832.75,189.7 833.00,189.3 833.25,189.9 833.50,188.9 833.75,189.0 834.00,189.0 834.25,188.9 834.50,190.4 834.75,188.4 835.00,189.4 835.25,188.8 835.50,188.6 835.75,189.4 836.00,188.5 836.25,189.3 836.50,190.6 836.75,189.3 837.00,189.6 837.25,188.9 837.50,189.6 837.75,188.6 838.00,189.5 838.25,189.3 838.50,190.6 838.75,189.3 839.00,189.2 839.25,189.1 839.50,188.7 839.75,189.8 840.00,190.2 840.25,189.2 840.50,189.8 840.75,189.2 841.00,189.6 841.25,189.7 841.50,188.6 841.75,189.0 842.00,189.9 842.25,188.4 842.50,189.4 842.75,189.3 843.00,188.9 843.25,189.5 843.50,189.6 843.75,189.8 844.00,188.0 844.25,190.4 844.50,189.2 844.75,190.0 845.00,189.4 845.25,189.2 845.50,189.5 845.75,191.2 846.00,190.4 846.25,189.3 846.50,189.6 846.75,190.1 847.00,189.8 847.25,189.6 847.50,189.4 847.75,188.9 848.00,189.9 848.25,190.1 848.50,190.7 848.75,189.2 849.00,189.9 849.25,189.5 849.50,190.2 849.75,189.5 850.00,189.2 850.25,188.6 850.50,189.9 850.75,189.6 851.00,190.2 851.25,189.3 851.50,191.0 851.75,189.2 852.00,189.9 852.25,189.8 852.50,190.2 852.75,189.5 853.00,189.1 853.25,189.1 853.50,190.0 853.75,189.7 854.00,189.8 854.25,189.2 854.50,189.7 854.75,189.7 855.00,190.0 855.25,188.8 855.50,189.2 855.75,190.6 856.00,189.4 856.25,189.6 856.50,189.4 856.75,188.8 857.00,189.1 857.25,189.9 857.50,189.3 857.75,190.8 858.00,188.8 858.25,188.6 858.50,189.5 858.75,189.0 859.00,190.4 859.25,189.4 859.50,190.0 859.75,188.9 860.00,190.1 860.25,190.0 860.50,190.4 860.75,189.8 861.00,190.0 861.25,189.8 861.50,190.2 861.75,189.5 862.00,190.0 862.25,189.4 862.50,190.1 862.75,189.6 863.00,189.4 863.25,189.4 863.50,190.5 863.75,188.9 864.00,188.9 864.25,190.1 864.50,189.2 864.75,189.5 865.00,189.5 865.25,191.0 865.50,189.4 865.75,189.4 866.00,189.6 866.25,189.9 866.50,190.0 866.75,189.0 867.00,190.0 867.25,190.9 867.50,188.8 867.75,190.1 868.00,190.2 868.25,189.9 868.50,189.7 868.75,188.5 869.00,190.5 869.25,189.6 869.50,189.7 869.75,190.5 870.00,188.5 870.25,189.8 870.50,190.2 870.75,190.2 871.00,190.2 871.25,191.0 871.50,190.0 871.75,190.4 872.00,190.3 872.25,189.0 872.50,189.4 872.75,191.0 873.00,189.7 873.25,189.8 873.50,189.1 873.75,189.7 874.00,189.1 874.25,189.5 874.50,190.2 874.75,189.4 875.00,189.5 875.25,190.6 875.50,190.1 875.75,190.2 876.00,190.4 876.25,189.6 876.50,189.7 876.75,188.8 877.00,190.3 877.25,189.8 877.50,189.9 877.75,189.3 878.00,190.3 878.25,190.3 878.50,190.0 878.75,189.1 879.00,189.5 879.25,189.9 879.50,189.5 879.75,190.1 880.00,190.5 880.25,189.5 880.50,189.8 880.75,189.6 881.00,190.5 881.25,190.4 881.50,191.4 881.75,190.0 882.00,189.4 882.25,190.2 882.50,189.8 882.75,190.1 883.00,190.7 883.25,189.8 883.50,190.4 883.75,188.8 884.00,190.6 884.25,190.1 884.50,189.9 884.75,189.7 885.00,190.8 885.25,189.7 885.50,190.7 885.75,189.7 886.00,190.0 886.25,190.2 886.50,191.1 886.75,190.2 887.00,190.2 887.25,190.0 887.50,189.9 887.75,189.7 888.00,191.0 888.25,190.8 888.50,189.7 888.75,190.1 889.00,189.4 889.25,190.6 889.50,190.4 889.75,190.1 890.00,189.6 890.25,190.5 890.50,190.4 890.75,190.0 891.00,190.5 891.25,189.3 891.50,189.7 891.75,189.5 892.00,190.1 892.25,191.0 892.50,190.1 892.75,190.7 893.00,190.1 893.25,189.9 893.50,190.6 893.75,190.4 894.00,190.9 894.25,190.6 894.50,189.6 894.75,188.7 895.00,190.2 895.25,189.4 895.50,189.3 895.75,189.3 896.00,189.7 896.25,190.0 896.50,190.1 896.75,191.2 897.00,189.4 897.25,190.0 897.50,189.4 897.75,189.5 898.00,190.1 898.25,190.2 898.50,189.3 898.75,190.6 899.00,189.5 899.25,190.5 899.50,189.9 899.75,190.4 900.00,190.2 900.25,189.7 900.50,190.1 900.75,189.1 901.00,189.1 901.25,189.6 901.50,190.5 901.75,189.3 902.00,189.4 902.25,190.6 902.50,189.7 902.75,189.6 903.00,189.0 903.25,189.6 903.50,189.8 903.75,189.4 904.00,189.8 904.25,189.6 904.50,189.9 904.75,189.7 905.00,189.2 905.25,189.7 905.50,190.1 905.75,189.2 906.00,188.4 906.25,189.1 906.50,188.8 906.75,190.3 907.00,189.2 907.25,188.1 907.50,188.6 907.75,189.4 908.00,187.9 908.25,188.2 908.50,188.4 908.75,188.3 909.00,188.0 909.25,188.3 909.50,187.4 909.75,187.8 910.00,187.8 910.25,187.9 910.50,187.8 910.75,188.0 911.00,187.7 911.25,187.7 911.50,188.0 911.75,188.3 912.00,188.3 912.25,187.1 912.50,187.9 912.75,188.1 913.00,187.6 913.25,187.9 913.50,187.6 913.75,187.9 914.00,186.9 914.25,187.9 914.50,187.4 914.75,187.3 915.00,187.6 915.25,188.3 915.50,188.3 915.75,187.9 916.00,188.3 916.25,187.6 916.50,187.2 916.75,186.9 917.00,188.0 917.25,187.9 917.50,188.1 917.75,188.2 918.00,188.8 918.25,187.7 918.50,187.9 918.75,189.4 919.00,188.8 919.25,188.3 919.50,187.4 919.75,188.1 920.00,188.5 920.25,188.7 920.50,188.9 920.75,188.7 921.00,189.5 921.25,188.3 921.50,188.9 921.75,188.7 922.00,189.6 922.25,189.3 922.50,189.7 922.75,189.4 923.00,191.4 923.25,189.8 923.50,189.1 923.75,189.5 924.00,189.4 924.25,190.1 924.50,190.2 924.75,190.0 925.00,189.7 925.25,189.5 925.50,190.7 925.75,190.5 926.00,188.3 926.25,190.0 926.50,189.6 926.75,189.8 927.00,191.0 927.25,189.5 927.50,189.6 927.75,191.5 928.00,189.9 928.25,190.1 928.50,190.9 928.75,190.0 929.00,190.3 929.25,190.4 929.50,191.1 929.75,189.4 930.00,189.9 930.25,190.3 930.50,190.9 930.75,190.0 931.00,190.6 931.25,190.1 931.50,190.2 931.75,191.1 932.00,190.3 932.25,192.1 932.50,190.6 932.75,191.1 933.00,190.9 933.25,189.6 933.50,189.6 933.75,190.7 934.00,189.9 934.25,190.2 934.50,190.3 934.75,190.0 935.00,191.1 935.25,190.9 935.50,190.6 935.75,190.8 936.00,190.0 936.25,191.0 936.50,190.0 936.75,191.4 937.00,190.1 937.25,190.2 937.50,191.2 937.75,190.9 938.00,190.0 938.25,190.9 938.50,190.5 938.75,190.5 939.00,190.9 939.25,190.9 939.50,191.1 939.75,190.8 940.00,190.7 940.25,190.5 940.50,191.4 940.75,190.1 941.00,191.6 941.25,191.8 941.50,191.8 941.75,190.5 942.00,191.7 942.25,191.2 942.50,191.2 942.75,192.4 943.00,190.7 943.25,190.9 943.50,189.9 943.75,189.4 944.00,190.8 944.25,190.8 944.50,191.0 944.75,190.8 945.00,189.5 945.25,190.8 945.50,191.2 945.75,191.5 946.00,190.1 946.25,190.1 946.50,190.2 946.75,190.3 947.00,189.7 947.25,190.2 947.50,191.5 947.75,190.0 948.00,189.6 948.25,190.5 948.50,190.4 948.75,191.0 949.00,190.2 949.25,190.5 949.50,190.2 949.75,190.1 950.00,190.8 950.25,190.7 950.50,190.6 950.75,190.9 951.00,190.2 951.25,190.7 951.50,190.8 951.75,191.3 952.00,189.6 952.25,190.5 952.50,190.9 952.75,190.4 953.00,190.7 953.25,191.1 953.50,190.9 953.75,189.7 954.00,190.0 954.25,189.1 954.50,191.0 954.75,190.8 955.00,191.4 955.25,190.7 955.50,190.1 955.75,191.3 956.00,190.0 956.25,190.7 956.50,190.6 956.75,191.1 957.00,191.2 957.25,190.5 957.50,190.3 957.75,190.7 958.00,190.4 958.25,191.2 958.50,190.9 958.75,191.5 959.00,192.2 959.25,190.3 959.50,190.4 959.75,191.0 960.00,191.0 960.25,190.5 960.50,189.8 960.75,192.1 961.00,190.8 961.25,190.1 961.50,189.4 961.75,191.5 962.00,190.9 962.25,190.8 962.50,190.2 962.75,190.7 963.00,190.6 963.25,189.4 963.50,192.3 963.75,191.0 964.00,190.6 964.25,190.2 964.50,190.4 964.75,192.1 965.00,191.0 965.25,190.0 965.50,191.3 965.75,191.1 966.00,191.1 966.25,190.7 966.50,190.7 966.75,190.9 967.00,190.7 967.25,190.0 967.50,190.3 967.75,190.8 968.00,189.9 968.25,190.7 968.50,190.6 968.75,191.2 969.00,190.9 969.25,190.7 969.50,190.7 969.75,191.1 970.00,191.3 970.25,190.2 970.50,190.0 970.75,190.4 971.00,189.6 971.25,190.4 971.50,191.3 971.75,191.4 972.00,191.7 972.25,190.9 972.50,190.9 972.75,190.5 973.00,190.6 973.25,191.0 973.50,191.4 973.75,191.1 974.00,189.7" fill="none" stroke="#1274be" stroke-width="3.2" stroke-linejoin="round"/><polyline points="102.00,330.7 102.25,329.6 102.50,329.7 102.75,326.5 103.00,333.3 103.25,332.2 103.50,329.8 103.75,331.6 104.00,330.8 104.25,329.5 104.50,331.9 104.75,329.8 105.00,329.8 105.25,329.0 105.50,331.0 105.75,330.1 106.00,331.2 106.25,329.3 106.50,330.5 106.75,328.8 107.00,331.6 107.25,330.6 107.50,330.8 107.75,330.9 108.00,328.6 108.25,331.5 108.50,333.5 108.75,327.6 109.00,327.4 109.25,327.8 109.50,331.5 109.75,330.4 110.00,331.9 110.25,331.3 110.50,330.5 110.75,330.6 111.00,329.9 111.25,331.5 111.50,328.3 111.75,329.4 112.00,330.5 112.25,333.0 112.50,328.9 112.75,328.4 113.00,329.2 113.25,331.6 113.50,329.7 113.75,332.2 114.00,327.1 114.25,331.8 114.50,331.7 114.75,327.8 115.00,330.3 115.25,332.0 115.50,330.1 115.75,331.6 116.00,333.8 116.25,330.4 116.50,329.5 116.75,328.7 117.00,331.0 117.25,329.6 117.50,329.7 117.75,329.8 118.00,331.0 118.25,328.2 118.50,327.5 118.75,326.0 119.00,331.8 119.25,330.0 119.50,332.3 119.75,329.9 120.00,328.7 120.25,330.6 120.50,329.7 120.75,327.8 121.00,328.4 121.25,332.7 121.50,330.4 121.75,330.5 122.00,329.4 122.25,328.7 122.50,331.2 122.75,329.6 123.00,328.6 123.25,329.6 123.50,328.3 123.75,330.1 124.00,331.6 124.25,328.4 124.50,332.0 124.75,328.7 125.00,330.0 125.25,328.4 125.50,329.3 125.75,329.8 126.00,329.0 126.25,328.6 126.50,328.6 126.75,328.3 127.00,327.1 127.25,329.2 127.50,330.3 127.75,331.1 128.00,330.7 128.25,333.5 128.50,330.1 128.75,328.9 129.00,332.6 129.25,327.9 129.50,331.1 129.75,328.0 130.00,330.1 130.25,326.4 130.50,331.0 130.75,329.3 131.00,328.0 131.25,332.2 131.50,330.7 131.75,329.6 132.00,328.3 132.25,329.4 132.50,329.2 132.75,330.6 133.00,330.7 133.25,328.4 133.50,328.6 133.75,328.6 134.00,327.3 134.25,328.5 134.50,329.3 134.75,330.5 135.00,331.5 135.25,328.1 135.50,330.3 135.75,328.7 136.00,332.7 136.25,329.3 136.50,330.2 136.75,327.9 137.00,328.1 137.25,329.7 137.50,328.7 137.75,329.9 138.00,326.8 138.25,330.4 138.50,327.9 138.75,332.0 139.00,328.8 139.25,331.0 139.50,327.0 139.75,330.0 140.00,327.8 140.25,328.5 140.50,329.3 140.75,328.7 141.00,329.6 141.25,330.4 141.50,330.3 141.75,329.1 142.00,327.0 142.25,327.9 142.50,328.9 142.75,325.8 143.00,330.4 143.25,328.8 143.50,328.7 143.75,330.7 144.00,330.2 144.25,329.5 144.50,327.5 144.75,329.6 145.00,329.7 145.25,327.7 145.50,330.8 145.75,329.9 146.00,325.9 146.25,329.3 146.50,327.0 146.75,330.9 147.00,330.3 147.25,327.3 147.50,327.6 147.75,329.2 148.00,328.6 148.25,331.4 148.50,330.2 148.75,328.5 149.00,329.9 149.25,325.7 149.50,329.5 149.75,330.3 150.00,328.7 150.25,327.8 150.50,329.8 150.75,332.1 151.00,329.2 151.25,327.1 151.50,331.2 151.75,325.9 152.00,329.7 152.25,327.9 152.50,330.4 152.75,327.5 153.00,331.0 153.25,329.3 153.50,326.1 153.75,325.7 154.00,328.3 154.25,330.9 154.50,329.0 154.75,328.9 155.00,328.4 155.25,330.0 155.50,329.4 155.75,329.2 156.00,327.2 156.25,330.7 156.50,330.9 156.75,326.7 157.00,332.4 157.25,329.9 157.50,327.9 157.75,325.7 158.00,329.7 158.25,329.6 158.50,327.7 158.75,325.8 159.00,330.5 159.25,327.7 159.50,327.9 159.75,333.2 160.00,332.0 160.25,330.2 160.50,327.9 160.75,329.7 161.00,325.0 161.25,328.8 161.50,327.4 161.75,326.5 162.00,326.0 162.25,329.4 162.50,328.7 162.75,328.8 163.00,329.9 163.25,327.2 163.50,326.6 163.75,325.7 164.00,328.0 164.25,329.7 164.50,328.3 164.75,329.5 165.00,326.6 165.25,327.7 165.50,327.2 165.75,326.5 166.00,331.4 166.25,329.8 166.50,327.2 166.75,327.2 167.00,328.3 167.25,326.1 167.50,329.1 167.75,326.3 168.00,327.8 168.25,326.7 168.50,327.6 168.75,326.2 169.00,325.8 169.25,326.8 169.50,327.3 169.75,327.9 170.00,328.4 170.25,330.8 170.50,329.6 170.75,327.9 171.00,329.4 171.25,327.2 171.50,330.6 171.75,329.1 172.00,326.1 172.25,329.5 172.50,329.5 172.75,323.9 173.00,327.0 173.25,327.5 173.50,325.1 173.75,326.5 174.00,326.7 174.25,329.0 174.50,328.7 174.75,332.4 175.00,327.5 175.25,330.0 175.50,328.3 175.75,328.6 176.00,326.3 176.25,325.1 176.50,326.9 176.75,329.3 177.00,330.6 177.25,329.1 177.50,328.9 177.75,326.7 178.00,330.5 178.25,330.2 178.50,327.2 178.75,328.0 179.00,326.4 179.25,330.4 179.50,328.7 179.75,327.9 180.00,328.7 180.25,328.7 180.50,327.4 180.75,326.1 181.00,326.0 181.25,325.3 181.50,328.8 181.75,331.7 182.00,325.4 182.25,328.4 182.50,328.8 182.75,326.6 183.00,328.5 183.25,326.5 183.50,330.2 183.75,327.3 184.00,328.4 184.25,329.4 184.50,327.6 184.75,325.5 185.00,327.5 185.25,329.6 185.50,328.2 185.75,328.8 186.00,326.7 186.25,328.7 186.50,329.6 186.75,328.5 187.00,331.5 187.25,328.2 187.50,326.9 187.75,326.0 188.00,330.4 188.25,328.5 188.50,330.2 188.75,329.3 189.00,331.2 189.25,330.7 189.50,328.1 189.75,329.1 190.00,330.4 190.25,326.7 190.50,331.0 190.75,330.7 191.00,330.3 191.25,328.5 191.50,329.3 191.75,327.0 192.00,328.9 192.25,327.9 192.50,329.0 192.75,328.1 193.00,329.4 193.25,330.8 193.50,326.8 193.75,330.4 194.00,325.8 194.25,325.5 194.50,328.8 194.75,329.0 195.00,329.7 195.25,326.4 195.50,329.0 195.75,329.3 196.00,331.1 196.25,329.0 196.50,330.0 196.75,327.6 197.00,328.9 197.25,328.5 197.50,330.3 197.75,327.6 198.00,327.9 198.25,330.2 198.50,332.1 198.75,329.9 199.00,329.8 199.25,328.8 199.50,331.1 199.75,330.2 200.00,332.1 200.25,329.9 200.50,327.9 200.75,328.5 201.00,327.9 201.25,327.5 201.50,331.5 201.75,330.8 202.00,327.5 202.25,332.4 202.50,329.9 202.75,328.0 203.00,330.2 203.25,329.5 203.50,328.4 203.75,326.5 204.00,329.7 204.25,330.1 204.50,325.6 204.75,330.6 205.00,330.7 205.25,329.0 205.50,329.9 205.75,329.3 206.00,328.4 206.25,329.2 206.50,332.0 206.75,327.5 207.00,330.2 207.25,330.2 207.50,328.7 207.75,329.2 208.00,327.7 208.25,328.6 208.50,330.0 208.75,330.5 209.00,328.5 209.25,334.9 209.50,329.1 209.75,330.2 210.00,329.7 210.25,329.4 210.50,332.2 210.75,329.3 211.00,332.2 211.25,332.0 211.50,328.5 211.75,331.8 212.00,329.1 212.25,334.6 212.50,329.6 212.75,328.7 213.00,327.2 213.25,328.2 213.50,329.3 213.75,328.7 214.00,328.3 214.25,329.2 214.50,330.0 214.75,332.7 215.00,327.7 215.25,329.5 215.50,328.9 215.75,328.0 216.00,328.4 216.25,329.0 216.50,331.6 216.75,330.2 217.00,329.6 217.25,331.5 217.50,331.0 217.75,330.2 218.00,331.2 218.25,329.3 218.50,331.6 218.75,331.4 219.00,330.0 219.25,328.7 219.50,333.1 219.75,330.8 220.00,335.6 220.25,329.7 220.50,332.1 220.75,330.1 221.00,331.2 221.25,332.1 221.50,329.5 221.75,330.6 222.00,331.1 222.25,331.0 222.50,331.8 222.75,332.5 223.00,332.2 223.25,331.3 223.50,330.4 223.75,329.1 224.00,329.8 224.25,330.1 224.50,332.1 224.75,330.4 225.00,329.0 225.25,332.0 225.50,329.8 225.75,329.8 226.00,330.7 226.25,331.8 226.50,327.3 226.75,329.3 227.00,331.4 227.25,330.6 227.50,329.8 227.75,330.3 228.00,333.4 228.25,330.5 228.50,332.4 228.75,332.5 229.00,330.5 229.25,332.0 229.50,330.6 229.75,330.3 230.00,329.5 230.25,332.7 230.50,330.7 230.75,330.5 231.00,329.6 231.25,334.3 231.50,332.6 231.75,331.2 232.00,330.3 232.25,329.0 232.50,331.9 232.75,331.9 233.00,329.2 233.25,333.4 233.50,332.8 233.75,330.0 234.00,330.7 234.25,330.9 234.50,331.8 234.75,331.4 235.00,329.0 235.25,334.0 235.50,332.1 235.75,333.7 236.00,333.7 236.25,331.3 236.50,332.2 236.75,332.9 237.00,332.9 237.25,331.5 237.50,330.8 237.75,331.8 238.00,330.5 238.25,330.9 238.50,328.6 238.75,332.0 239.00,330.2 239.25,331.0 239.50,331.8 239.75,332.4 240.00,334.9 240.25,332.2 240.50,329.7 240.75,332.1 241.00,331.0 241.25,332.6 241.50,330.9 241.75,330.8 242.00,331.2 242.25,331.0 242.50,329.1 242.75,331.0 243.00,332.0 243.25,334.0 243.50,331.6 243.75,331.5 244.00,333.0 244.25,333.0 244.50,334.7 244.75,333.1 245.00,332.1 245.25,334.3 245.50,334.6 245.75,331.4 246.00,332.4 246.25,329.5 246.50,331.6 246.75,330.8 247.00,331.9 247.25,331.5 247.50,332.0 247.75,332.1 248.00,333.0 248.25,332.6 248.50,331.4 248.75,330.2 249.00,334.3 249.25,334.6 249.50,331.6 249.75,333.2 250.00,329.9 250.25,329.9 250.50,331.9 250.75,334.7 251.00,330.7 251.25,331.1 251.50,335.0 251.75,329.4 252.00,333.4 252.25,333.2 252.50,332.1 252.75,332.7 253.00,336.6 253.25,330.7 253.50,332.0 253.75,332.1 254.00,331.4 254.25,330.3 254.50,335.0 254.75,332.8 255.00,329.7 255.25,331.4 255.50,333.1 255.75,333.1 256.00,330.2 256.25,332.4 256.50,332.9 256.75,333.1 257.00,333.2 257.25,329.6 257.50,335.5 257.75,332.9 258.00,335.4 258.25,337.1 258.50,332.3 258.75,330.6 259.00,333.9 259.25,332.3 259.50,331.8 259.75,330.9 260.00,335.2 260.25,331.8 260.50,330.3 260.75,331.8 261.00,330.6 261.25,332.7 261.50,331.7 261.75,330.7 262.00,333.3 262.25,331.3 262.50,333.5 262.75,334.3 263.00,331.7 263.25,331.2 263.50,332.5 263.75,333.6 264.00,332.1 264.25,332.3 264.50,332.0 264.75,332.5 265.00,333.0 265.25,330.8 265.50,331.2 265.75,332.0 266.00,330.8 266.25,332.0 266.50,332.6 266.75,331.7 267.00,330.7 267.25,330.4 267.50,334.4 267.75,332.9 268.00,329.7 268.25,330.1 268.50,334.3 268.75,333.7 269.00,331.5 269.25,333.0 269.50,328.8 269.75,331.1 270.00,332.2 270.25,328.0 270.50,329.6 270.75,332.0 271.00,332.5 271.25,329.7 271.50,331.0 271.75,333.0 272.00,329.7 272.25,328.1 272.50,330.0 272.75,329.4 273.00,331.9 273.25,330.0 273.50,328.4 273.75,333.3 274.00,328.6 274.25,330.0 274.50,330.1 274.75,330.1 275.00,329.0 275.25,329.4 275.50,328.2 275.75,325.9 276.00,327.6 276.25,327.4 276.50,327.1 276.75,327.4 277.00,325.9 277.25,328.6 277.50,328.7 277.75,322.5 278.00,325.6 278.25,324.1 278.50,320.7 278.75,324.9 279.00,322.9 279.25,322.7 279.50,321.8 279.75,323.8 280.00,323.5 280.25,321.4 280.50,321.3 280.75,319.3 281.00,318.9 281.25,316.8 281.50,317.1 281.75,315.1 282.00,315.8 282.25,315.5 282.50,313.8 282.75,314.1 283.00,315.3 283.25,307.4 283.50,309.6 283.75,307.9 284.00,307.4 284.25,305.5 284.50,307.0 284.75,306.2 285.00,305.5 285.25,306.0 285.50,305.6 285.75,303.5 286.00,308.8 286.25,307.4 286.50,307.2 286.75,309.7 287.00,309.2 287.25,307.9 287.50,313.2 287.75,310.4 288.00,313.5 288.25,314.9 288.50,317.6 288.75,318.2 289.00,317.5 289.25,316.9 289.50,318.1 289.75,321.0 290.00,322.7 290.25,321.5 290.50,320.2 290.75,323.3 291.00,321.7 291.25,322.1 291.50,322.7 291.75,324.4 292.00,324.3 292.25,325.7 292.50,326.5 292.75,325.6 293.00,321.5 293.25,322.7 293.50,325.7 293.75,325.6 294.00,329.2 294.25,326.0 294.50,326.0 294.75,327.8 295.00,328.1 295.25,326.2 295.50,327.4 295.75,325.1 296.00,325.4 296.25,328.9 296.50,324.9 296.75,328.5 297.00,328.2 297.25,328.4 297.50,328.6 297.75,328.1 298.00,323.9 298.25,325.7 298.50,326.3 298.75,328.7 299.00,325.5 299.25,326.1 299.50,326.6 299.75,329.2 300.00,324.9 300.25,325.0 300.50,328.0 300.75,323.7 301.00,327.4 301.25,326.1 301.50,324.3 301.75,326.0 302.00,325.0 302.25,326.7 302.50,326.8 302.75,328.4 303.00,326.0 303.25,326.0 303.50,324.8 303.75,325.5 304.00,327.0 304.25,322.2 304.50,326.0 304.75,323.9 305.00,324.6 305.25,324.8 305.50,325.3 305.75,324.1 306.00,322.9 306.25,323.6 306.50,322.8 306.75,322.1 307.00,322.4 307.25,323.0 307.50,321.5 307.75,321.1 308.00,318.4 308.25,319.7 308.50,316.6 308.75,319.9 309.00,316.9 309.25,319.6 309.50,321.5 309.75,315.9 310.00,317.8 310.25,315.7 310.50,313.7 310.75,312.6 311.00,314.0 311.25,314.5 311.50,312.4 311.75,309.1 312.00,309.2 312.25,309.9 312.50,311.7 312.75,309.8 313.00,309.6 313.25,310.6 313.50,308.4 313.75,308.5 314.00,308.3 314.25,306.0 314.50,309.3 314.75,309.3 315.00,310.2 315.25,307.3 315.50,308.0 315.75,310.6 316.00,309.9 316.25,311.5 316.50,308.4 316.75,310.0 317.00,308.7 317.25,310.1 317.50,309.0 317.75,310.3 318.00,311.0 318.25,310.2 318.50,306.5 318.75,310.2 319.00,309.2 319.25,306.8 319.50,306.6 319.75,307.5 320.00,307.9 320.25,306.0 320.50,303.9 320.75,306.1 321.00,305.4 321.25,308.0 321.50,302.3 321.75,307.1 322.00,305.5 322.25,302.9 322.50,304.3 322.75,301.7 323.00,302.4 323.25,299.7 323.50,300.4 323.75,298.6 324.00,297.5 324.25,299.1 324.50,298.4 324.75,300.0 325.00,300.9 325.25,298.9 325.50,299.3 325.75,299.7 326.00,297.3 326.25,300.2 326.50,300.2 326.75,300.5 327.00,299.4 327.25,298.6 327.50,301.5 327.75,302.7 328.00,304.7 328.25,304.9 328.50,305.8 328.75,304.8 329.00,306.4 329.25,305.0 329.50,306.6 329.75,307.5 330.00,310.4 330.25,307.3 330.50,305.5 330.75,309.6 331.00,306.8 331.25,308.1 331.50,308.1 331.75,307.4 332.00,310.7 332.25,309.8 332.50,308.2 332.75,309.2 333.00,308.5 333.25,310.0 333.50,308.5 333.75,307.9 334.00,307.9 334.25,308.0 334.50,308.8 334.75,306.8 335.00,307.7 335.25,308.1 335.50,310.3 335.75,307.8 336.00,301.9 336.25,304.8 336.50,304.3 336.75,304.6 337.00,305.6 337.25,303.6 337.50,298.5 337.75,301.1 338.00,299.8 338.25,299.0 338.50,299.1 338.75,294.5 339.00,296.0 339.25,290.8 339.50,291.5 339.75,290.2 340.00,290.8 340.25,285.0 340.50,281.7 340.75,282.6 341.00,278.6 341.25,279.0 341.50,273.7 341.75,270.8 342.00,270.7 342.25,266.4 342.50,264.5 342.75,258.6 343.00,259.1 343.25,253.3 343.50,251.6 343.75,246.2 344.00,242.3 344.25,240.4 344.50,237.6 344.75,235.9 345.00,231.5 345.25,228.9 345.50,226.1 345.75,226.2 346.00,220.0 346.25,220.3 346.50,217.5 346.75,216.9 347.00,215.5 347.25,217.1 347.50,215.1 347.75,215.8 348.00,218.2 348.25,218.9 348.50,222.8 348.75,225.3 349.00,226.2 349.25,230.6 349.50,232.1 349.75,235.8 350.00,239.1 350.25,244.4 350.50,245.6 350.75,247.9 351.00,251.1 351.25,256.7 351.50,256.5 351.75,261.0 352.00,264.1 352.25,264.4 352.50,269.6 352.75,274.1 353.00,275.7 353.25,276.8 353.50,281.1 353.75,283.2 354.00,287.3 354.25,285.8 354.50,288.2 354.75,290.6 355.00,292.1 355.25,294.1 355.50,295.5 355.75,296.2 356.00,296.4 356.25,299.2 356.50,299.3 356.75,301.0 357.00,302.9 357.25,305.5 357.50,307.0 357.75,305.4 358.00,308.3 358.25,309.9 358.50,309.6 358.75,308.1 359.00,308.2 359.25,313.2 359.50,314.2 359.75,314.0 360.00,312.7 360.25,317.0 360.50,317.3 360.75,316.1 361.00,316.4 361.25,314.4 361.50,319.0 361.75,316.0 362.00,319.9 362.25,320.5 362.50,320.1 362.75,322.8 363.00,320.3 363.25,322.2 363.50,322.9 363.75,322.5 364.00,321.9 364.25,324.7 364.50,323.9 364.75,323.3 365.00,323.7 365.25,324.4 365.50,328.1 365.75,325.0 366.00,324.8 366.25,323.8 366.50,323.8 366.75,323.0 367.00,326.6 367.25,326.5 367.50,325.1 367.75,324.6 368.00,326.6 368.25,326.5 368.50,325.4 368.75,328.2 369.00,328.1 369.25,328.0 369.50,329.4 369.75,327.4 370.00,330.7 370.25,327.1 370.50,329.6 370.75,329.9 371.00,328.7 371.25,329.7 371.50,327.3 371.75,327.1 372.00,329.2 372.25,328.5 372.50,330.7 372.75,329.9 373.00,330.9 373.25,330.5 373.50,330.4 373.75,330.3 374.00,329.6 374.25,329.6 374.50,333.6 374.75,327.7 375.00,330.2 375.25,332.1 375.50,331.3 375.75,332.9 376.00,331.6 376.25,328.8 376.50,330.3 376.75,328.7 377.00,332.5 377.25,333.2 377.50,330.3 377.75,331.9 378.00,330.4 378.25,328.9 378.50,330.5 378.75,328.7 379.00,330.3 379.25,331.6 379.50,332.4 379.75,333.4 380.00,330.8 380.25,331.8 380.50,332.1 380.75,332.3 381.00,327.0 381.25,330.3 381.50,332.8 381.75,329.8 382.00,332.0 382.25,332.9 382.50,328.6 382.75,331.3 383.00,332.0 383.25,331.7 383.50,329.3 383.75,332.3 384.00,330.8 384.25,333.0 384.50,332.4 384.75,330.9 385.00,332.1 385.25,330.7 385.50,330.7 385.75,329.3 386.00,331.5 386.25,333.1 386.50,332.1 386.75,331.9 387.00,330.9 387.25,331.1 387.50,333.1 387.75,329.6 388.00,335.2 388.25,331.9 388.50,335.4 388.75,333.8 389.00,331.3 389.25,333.2 389.50,332.4 389.75,332.8 390.00,333.3 390.25,331.2 390.50,331.1 390.75,331.4 391.00,329.9 391.25,331.7 391.50,332.4 391.75,332.5 392.00,332.4 392.25,331.5 392.50,333.4 392.75,328.9 393.00,331.5 393.25,331.6 393.50,333.6 393.75,333.2 394.00,333.4 394.25,332.2 394.50,333.7 394.75,330.6 395.00,332.3 395.25,328.8 395.50,334.9 395.75,334.7 396.00,331.2 396.25,330.8 396.50,328.9 396.75,329.8 397.00,332.4 397.25,332.0 397.50,329.9 397.75,331.4 398.00,331.2 398.25,333.0 398.50,333.4 398.75,331.9 399.00,332.5 399.25,332.3 399.50,329.0 399.75,332.6 400.00,332.2 400.25,333.5 400.50,329.4 400.75,333.5 401.00,331.3 401.25,332.7 401.50,334.2 401.75,329.9 402.00,330.2 402.25,333.9 402.50,330.5 402.75,330.7 403.00,333.2 403.25,331.9 403.50,333.5 403.75,332.7 404.00,332.2 404.25,333.8 404.50,335.7 404.75,332.1 405.00,334.6 405.25,334.0 405.50,332.4 405.75,333.0 406.00,330.7 406.25,331.2 406.50,332.7 406.75,332.1 407.00,334.3 407.25,330.1 407.50,331.7 407.75,331.2 408.00,331.9 408.25,334.0 408.50,330.3 408.75,333.5 409.00,331.2 409.25,331.6 409.50,333.8 409.75,331.7 410.00,333.2 410.25,332.3 410.50,331.9 410.75,331.6 411.00,329.4 411.25,330.9 411.50,332.4 411.75,332.4 412.00,329.7 412.25,333.7 412.50,333.0 412.75,330.0 413.00,330.4 413.25,332.9 413.50,329.3 413.75,330.9 414.00,332.0 414.25,331.9 414.50,332.0 414.75,332.7 415.00,330.8 415.25,331.3 415.50,335.3 415.75,329.8 416.00,331.3 416.25,332.2 416.50,331.0 416.75,334.0 417.00,332.1 417.25,333.2 417.50,327.8 417.75,333.9 418.00,333.8 418.25,330.8 418.50,334.1 418.75,332.4 419.00,333.4 419.25,334.8 419.50,332.1 419.75,330.3 420.00,331.9 420.25,329.9 420.50,330.6 420.75,330.7 421.00,330.8 421.25,333.8 421.50,333.2 421.75,330.5 422.00,333.7 422.25,329.2 422.50,330.8 422.75,331.7 423.00,333.8 423.25,333.0 423.50,332.6 423.75,333.9 424.00,333.0 424.25,334.0 424.50,330.6 424.75,329.1 425.00,331.2 425.25,333.1 425.50,332.2 425.75,333.2 426.00,332.9 426.25,332.6 426.50,333.1 426.75,330.6 427.00,333.5 427.25,330.2 427.50,331.6 427.75,329.5 428.00,332.5 428.25,329.2 428.50,334.0 428.75,329.6 429.00,332.1 429.25,331.5 429.50,330.3 429.75,333.7 430.00,331.0 430.25,334.0 430.50,330.0 430.75,330.4 431.00,328.4 431.25,332.5 431.50,333.1 431.75,332.0 432.00,331.3 432.25,330.1 432.50,335.3 432.75,332.8 433.00,328.6 433.25,331.1 433.50,327.4 433.75,334.1 434.00,334.7 434.25,333.8 434.50,331.4 434.75,330.6 435.00,329.2 435.25,332.3 435.50,330.3 435.75,330.9 436.00,330.4 436.25,330.9 436.50,332.9 436.75,334.1 437.00,331.7 437.25,331.4 437.50,329.6 437.75,329.4 438.00,329.7 438.25,332.8 438.50,331.8 438.75,332.9 439.00,332.0 439.25,330.7 439.50,329.3 439.75,330.7 440.00,329.0 440.25,334.5 440.50,331.7 440.75,330.7 441.00,334.5 441.25,330.6 441.50,332.1 441.75,331.0 442.00,331.8 442.25,330.6 442.50,332.0 442.75,333.5 443.00,329.2 443.25,327.6 443.50,333.3 443.75,331.4 444.00,332.6 444.25,330.7 444.50,333.6 444.75,334.0 445.00,329.2 445.25,332.2 445.50,330.1 445.75,328.5 446.00,330.6 446.25,332.0 446.50,328.8 446.75,329.0 447.00,333.0 447.25,331.0 447.50,331.6 447.75,329.1 448.00,329.9 448.25,331.1 448.50,331.2 448.75,331.1 449.00,333.4 449.25,331.1 449.50,328.4 449.75,329.4 450.00,330.7 450.25,332.9 450.50,329.7 450.75,330.1 451.00,330.7 451.25,329.6 451.50,329.4 451.75,330.3 452.00,332.3 452.25,331.5 452.50,330.2 452.75,331.3 453.00,328.6 453.25,332.2 453.50,331.8 453.75,331.1 454.00,327.9 454.25,333.8 454.50,325.8 454.75,328.9 455.00,329.0 455.25,331.6 455.50,328.1 455.75,330.9 456.00,330.2 456.25,330.0 456.50,331.8 456.75,332.7 457.00,331.1 457.25,330.0 457.50,326.7 457.75,332.8 458.00,329.9 458.25,327.4 458.50,330.6 458.75,332.7 459.00,330.1 459.25,328.4 459.50,333.9 459.75,331.3 460.00,330.8 460.25,331.9 460.50,326.8 460.75,330.1 461.00,330.0 461.25,333.9 461.50,329.3 461.75,329.3 462.00,327.9 462.25,328.8 462.50,329.8 462.75,330.6 463.00,329.8 463.25,333.4 463.50,330.9 463.75,331.1 464.00,332.3 464.25,331.1 464.50,329.2 464.75,327.5 465.00,330.6 465.25,328.7 465.50,332.1 465.75,328.7 466.00,326.4 466.25,330.0 466.50,331.7 466.75,329.6 467.00,330.2 467.25,330.1 467.50,332.6 467.75,330.3 468.00,329.8 468.25,328.8 468.50,327.1 468.75,332.0 469.00,331.6 469.25,328.2 469.50,330.7 469.75,330.2 470.00,329.1 470.25,329.2 470.50,330.9 470.75,327.7 471.00,328.8 471.25,329.5 471.50,329.6 471.75,329.2 472.00,329.9 472.25,330.4 472.50,328.0 472.75,329.6 473.00,328.6 473.25,331.9 473.50,327.1 473.75,329.0 474.00,330.5 474.25,328.9 474.50,328.8 474.75,328.4 475.00,329.8 475.25,327.4 475.50,329.1 475.75,329.0 476.00,326.8 476.25,329.6 476.50,328.4 476.75,329.6 477.00,330.5 477.25,329.6 477.50,327.1 477.75,329.5 478.00,326.4 478.25,327.7 478.50,331.6 478.75,328.9 479.00,331.4 479.25,328.6 479.50,328.8 479.75,327.0 480.00,330.3 480.25,328.4 480.50,329.7 480.75,329.4 481.00,329.5 481.25,329.1 481.50,328.5 481.75,328.6 482.00,327.4 482.25,325.1 482.50,329.2 482.75,331.8 483.00,330.1 483.25,332.1 483.50,329.1 483.75,326.7 484.00,326.7 484.25,329.4 484.50,328.7 484.75,327.8 485.00,329.2 485.25,326.6 485.50,328.8 485.75,327.5 486.00,328.1 486.25,329.7 486.50,327.5 486.75,329.9 487.00,329.8 487.25,326.4 487.50,331.2 487.75,325.5 488.00,327.2 488.25,328.5 488.50,323.6 488.75,328.8 489.00,328.9 489.25,326.8 489.50,327.3 489.75,327.2 490.00,326.4 490.25,328.3 490.50,325.9 490.75,326.3 491.00,326.9 491.25,327.5 491.50,327.8 491.75,323.6 492.00,322.6 492.25,325.5 492.50,325.5 492.75,323.7 493.00,325.7 493.25,326.1 493.50,325.5 493.75,327.4 494.00,323.0 494.25,324.4 494.50,327.2 494.75,325.1 495.00,322.0 495.25,323.9 495.50,325.2 495.75,326.3 496.00,323.9 496.25,324.4 496.50,320.5 496.75,321.6 497.00,323.5 497.25,319.8 497.50,320.9 497.75,317.8 498.00,322.6 498.25,319.7 498.50,320.4 498.75,316.8 499.00,316.7 499.25,321.1 499.50,317.3 499.75,316.6 500.00,317.8 500.25,317.4 500.50,313.2 500.75,314.3 501.00,315.4 501.25,315.0 501.50,315.1 501.75,313.6 502.00,313.5 502.25,314.0 502.50,312.4 502.75,312.0 503.00,312.3 503.25,313.0 503.50,312.8 503.75,312.3 504.00,312.7 504.25,313.1 504.50,313.8 504.75,314.1 505.00,311.8 505.25,315.5 505.50,311.9 505.75,315.5 506.00,313.9 506.25,316.2 506.50,317.3 506.75,313.2 507.00,317.3 507.25,317.2 507.50,316.4 507.75,318.1 508.00,317.1 508.25,318.3 508.50,316.9 508.75,320.0 509.00,320.0 509.25,320.5 509.50,318.6 509.75,322.6 510.00,323.1 510.25,320.1 510.50,319.8 510.75,320.0 511.00,321.8 511.25,322.5 511.50,319.9 511.75,318.0 512.00,322.0 512.25,321.3 512.50,321.7 512.75,322.3 513.00,319.8 513.25,321.6 513.50,321.1 513.75,322.1 514.00,323.4 514.25,321.5 514.50,320.2 514.75,323.4 515.00,322.5 515.25,321.0 515.50,318.4 515.75,319.8 516.00,321.2 516.25,321.7 516.50,319.9 516.75,321.2 517.00,319.4 517.25,319.5 517.50,320.8 517.75,319.4 518.00,319.7 518.25,320.6 518.50,320.7 518.75,317.8 519.00,318.1 519.25,316.1 519.50,315.8 519.75,317.9 520.00,316.3 520.25,314.0 520.50,317.2 520.75,314.7 521.00,315.1 521.25,315.8 521.50,315.4 521.75,314.3 522.00,311.0 522.25,314.4 522.50,312.3 522.75,310.7 523.00,309.2 523.25,314.0 523.50,312.0 523.75,311.7 524.00,312.2 524.25,311.0 524.50,308.8 524.75,311.8 525.00,312.2 525.25,311.5 525.50,313.0 525.75,313.6 526.00,309.8 526.25,310.5 526.50,312.7 526.75,312.0 527.00,312.3 527.25,313.7 527.50,313.8 527.75,312.5 528.00,313.8 528.25,313.0 528.50,314.2 528.75,313.3 529.00,312.5 529.25,315.2 529.50,315.5 529.75,318.2 530.00,319.7 530.25,317.8 530.50,319.0 530.75,317.7 531.00,317.7 531.25,319.1 531.50,319.5 531.75,320.8 532.00,320.9 532.25,323.6 532.50,321.1 532.75,319.2 533.00,322.3 533.25,321.4 533.50,323.0 533.75,324.7 534.00,322.3 534.25,323.4 534.50,324.6 534.75,322.6 535.00,324.6 535.25,325.3 535.50,326.0 535.75,326.6 536.00,326.0 536.25,325.9 536.50,323.3 536.75,321.5 537.00,324.3 537.25,328.2 537.50,326.3 537.75,322.8 538.00,325.8 538.25,327.2 538.50,323.8 538.75,327.8 539.00,325.2 539.25,328.7 539.50,327.3 539.75,332.2 540.00,325.4 540.25,328.0 540.50,325.3 540.75,329.6 541.00,328.0 541.25,329.4 541.50,328.2 541.75,326.3 542.00,327.2 542.25,326.3 542.50,326.7 542.75,328.7 543.00,330.2 543.25,329.9 543.50,329.4 543.75,327.8 544.00,329.6 544.25,327.5 544.50,329.2 544.75,330.3 545.00,328.7 545.25,328.3 545.50,328.4 545.75,330.1 546.00,328.7 546.25,327.0 546.50,328.7 546.75,327.7 547.00,331.8 547.25,329.5 547.50,327.2 547.75,330.0 548.00,330.7 548.25,330.2 548.50,329.1 548.75,330.0 549.00,330.2 549.25,331.4 549.50,330.4 549.75,333.5 550.00,329.6 550.25,332.4 550.50,330.0 550.75,327.3 551.00,328.2 551.25,327.2 551.50,327.4 551.75,332.0 552.00,329.1 552.25,331.2 552.50,328.8 552.75,330.2 553.00,328.6 553.25,331.7 553.50,329.9 553.75,329.7 554.00,330.1 554.25,333.9 554.50,331.2 554.75,331.8 555.00,328.5 555.25,329.5 555.50,331.0 555.75,327.6 556.00,332.7 556.25,331.0 556.50,330.6 556.75,330.3 557.00,330.3 557.25,329.9 557.50,332.9 557.75,331.8 558.00,332.7 558.25,330.3 558.50,329.4 558.75,333.0 559.00,328.9 559.25,329.9 559.50,332.0 559.75,332.6 560.00,328.8 560.25,330.5 560.50,331.0 560.75,330.8 561.00,329.6 561.25,332.1 561.50,330.2 561.75,330.7 562.00,327.5 562.25,330.9 562.50,328.0 562.75,332.2 563.00,331.9 563.25,330.3 563.50,331.4 563.75,331.3 564.00,330.9 564.25,331.8 564.50,331.0 564.75,330.5 565.00,330.0 565.25,333.9 565.50,331.6 565.75,331.2 566.00,332.4 566.25,330.7 566.50,330.7 566.75,332.4 567.00,333.0 567.25,332.4 567.50,329.0 567.75,331.5 568.00,331.4 568.25,332.1 568.50,330.0 568.75,329.8 569.00,331.3 569.25,330.0 569.50,329.8 569.75,331.4 570.00,332.9 570.25,331.7 570.50,333.3 570.75,329.9 571.00,332.6 571.25,331.5 571.50,330.2 571.75,330.9 572.00,330.2 572.25,331.2 572.50,330.4 572.75,333.6 573.00,331.0 573.25,329.4 573.50,331.3 573.75,332.2 574.00,331.1 574.25,333.0 574.50,330.2 574.75,330.3 575.00,334.2 575.25,331.7 575.50,332.5 575.75,332.5 576.00,332.6 576.25,331.8 576.50,331.4 576.75,333.4 577.00,330.9 577.25,331.9 577.50,332.8 577.75,331.1 578.00,329.3 578.25,332.5 578.50,333.4 578.75,332.1 579.00,329.1 579.25,332.8 579.50,334.8 579.75,329.4 580.00,327.5 580.25,331.4 580.50,331.9 580.75,333.0 581.00,333.1 581.25,331.9 581.50,332.6 581.75,332.3 582.00,332.0 582.25,331.7 582.50,331.6 582.75,332.9 583.00,332.4 583.25,331.1 583.50,333.5 583.75,330.7 584.00,331.5 584.25,332.0 584.50,328.9 584.75,331.2 585.00,333.1 585.25,333.1 585.50,330.0 585.75,330.5 586.00,330.1 586.25,331.4 586.50,331.7 586.75,329.3 587.00,332.3 587.25,331.9 587.50,331.7 587.75,330.7 588.00,331.5 588.25,329.0 588.50,332.1 588.75,332.1 589.00,331.6 589.25,329.9 589.50,333.7 589.75,333.5 590.00,328.8 590.25,332.4 590.50,331.9 590.75,327.7 591.00,332.5 591.25,332.7 591.50,332.8 591.75,331.9 592.00,330.6 592.25,330.8 592.50,332.4 592.75,333.4 593.00,330.8 593.25,331.2 593.50,332.6 593.75,328.2 594.00,332.2 594.25,331.2 594.50,328.1 594.75,332.7 595.00,330.1 595.25,332.7 595.50,333.5 595.75,329.5 596.00,329.5 596.25,331.3 596.50,328.6 596.75,332.4 597.00,331.6 597.25,332.8 597.50,328.4 597.75,331.5 598.00,331.9 598.25,328.4 598.50,332.5 598.75,329.0 599.00,331.3 599.25,329.0 599.50,332.2 599.75,333.5 600.00,331.0 600.25,330.9 600.50,332.8 600.75,330.1 601.00,330.8 601.25,331.9 601.50,331.3 601.75,333.0 602.00,332.4 602.25,333.4 602.50,330.4 602.75,332.1 603.00,329.1 603.25,331.6 603.50,332.9 603.75,333.7 604.00,328.2 604.25,329.7 604.50,331.0 604.75,328.5 605.00,330.6 605.25,330.5 605.50,328.8 605.75,328.7 606.00,328.0 606.25,329.7 606.50,331.1 606.75,329.5 607.00,333.1 607.25,326.5 607.50,327.8 607.75,329.5 608.00,326.6 608.25,328.7 608.50,329.3 608.75,328.1 609.00,327.4 609.25,328.9 609.50,327.9 609.75,328.2 610.00,327.7 610.25,325.7 610.50,324.8 610.75,325.6 611.00,326.2 611.25,325.4 611.50,326.8 611.75,325.4 612.00,326.2 612.25,324.6 612.50,323.0 612.75,324.9 613.00,324.0 613.25,321.6 613.50,321.9 613.75,326.1 614.00,316.6 614.25,322.7 614.50,320.6 614.75,319.9 615.00,319.0 615.25,318.1 615.50,321.7 615.75,317.0 616.00,316.5 616.25,317.4 616.50,316.1 616.75,314.6 617.00,313.7 617.25,311.4 617.50,314.0 617.75,310.1 618.00,307.3 618.25,311.3 618.50,309.9 618.75,308.4 619.00,306.3 619.25,307.6 619.50,303.5 619.75,301.0 620.00,303.2 620.25,303.1 620.50,301.8 620.75,302.8 621.00,300.2 621.25,297.8 621.50,296.9 621.75,297.5 622.00,295.5 622.25,294.6 622.50,291.8 622.75,293.2 623.00,291.4 623.25,293.0 623.50,292.6 623.75,293.1 624.00,294.5 624.25,291.9 624.50,294.2 624.75,291.1 625.00,293.1 625.25,294.6 625.50,296.5 625.75,293.1 626.00,294.9 626.25,296.2 626.50,296.7 626.75,296.4 627.00,296.5 627.25,298.0 627.50,300.5 627.75,299.8 628.00,305.0 628.25,305.3 628.50,302.0 628.75,305.0 629.00,308.5 629.25,309.7 629.50,310.2 629.75,307.5 630.00,310.0 630.25,313.2 630.50,312.4 630.75,312.5 631.00,314.7 631.25,316.2 631.50,315.7 631.75,316.6 632.00,318.5 632.25,316.8 632.50,317.0 632.75,320.1 633.00,317.8 633.25,320.8 633.50,319.6 633.75,322.4 634.00,319.9 634.25,323.9 634.50,323.1 634.75,322.7 635.00,322.2 635.25,323.7 635.50,322.9 635.75,322.9 636.00,326.7 636.25,326.3 636.50,327.6 636.75,324.0 637.00,323.3 637.25,324.2 637.50,327.8 637.75,328.3 638.00,324.5 638.25,329.1 638.50,327.1 638.75,326.2 639.00,328.1 639.25,329.3 639.50,328.2 639.75,328.5 640.00,327.6 640.25,326.9 640.50,328.6 640.75,326.9 641.00,330.4 641.25,328.3 641.50,331.8 641.75,327.4 642.00,332.2 642.25,328.8 642.50,328.9 642.75,330.8 643.00,331.8 643.25,330.5 643.50,330.1 643.75,333.8 644.00,331.6 644.25,329.0 644.50,330.6 644.75,333.7 645.00,331.6 645.25,332.5 645.50,334.4 645.75,330.4 646.00,332.0 646.25,330.4 646.50,331.5 646.75,332.4 647.00,329.5 647.25,331.9 647.50,331.9 647.75,333.4 648.00,330.8 648.25,329.8 648.50,332.5 648.75,330.1 649.00,332.2 649.25,332.9 649.50,330.6 649.75,331.8 650.00,330.4 650.25,327.6 650.50,329.8 650.75,328.8 651.00,332.2 651.25,330.5 651.50,331.9 651.75,332.1 652.00,333.9 652.25,331.7 652.50,331.6 652.75,333.0 653.00,334.8 653.25,332.1 653.50,332.8 653.75,332.0 654.00,331.2 654.25,329.9 654.50,332.2 654.75,331.9 655.00,331.9 655.25,335.4 655.50,331.7 655.75,332.8 656.00,331.7 656.25,334.1 656.50,331.8 656.75,335.1 657.00,331.8 657.25,333.4 657.50,333.8 657.75,331.8 658.00,333.5 658.25,332.2 658.50,330.9 658.75,331.0 659.00,332.6 659.25,334.8 659.50,331.2 659.75,332.8 660.00,330.7 660.25,332.3 660.50,329.8 660.75,330.6 661.00,331.7 661.25,330.5 661.50,331.2 661.75,333.2 662.00,331.4 662.25,330.4 662.50,329.5 662.75,330.6 663.00,333.1 663.25,331.2 663.50,331.0 663.75,332.3 664.00,332.4 664.25,332.6 664.50,330.4 664.75,329.4 665.00,328.2 665.25,329.6 665.50,330.1 665.75,331.7 666.00,331.0 666.25,329.5 666.50,331.6 666.75,328.2 667.00,328.5 667.25,328.2 667.50,328.2 667.75,329.4 668.00,328.3 668.25,328.4 668.50,331.5 668.75,327.1 669.00,327.6 669.25,328.7 669.50,329.6 669.75,329.6 670.00,328.3 670.25,328.0 670.50,328.0 670.75,329.4 671.00,326.8 671.25,324.4 671.50,328.2 671.75,326.0 672.00,327.5 672.25,329.6 672.50,327.5 672.75,330.0 673.00,324.6 673.25,327.3 673.50,327.4 673.75,327.9 674.00,325.4 674.25,326.6 674.50,326.4 674.75,326.3 675.00,323.9 675.25,323.3 675.50,326.6 675.75,326.2 676.00,325.6 676.25,326.5 676.50,327.0 676.75,323.6 677.00,326.4 677.25,327.4 677.50,326.7 677.75,326.0 678.00,326.1 678.25,322.8 678.50,324.2 678.75,326.5 679.00,327.2 679.25,325.7 679.50,324.3 679.75,324.8 680.00,326.3 680.25,328.1 680.50,326.3 680.75,324.4 681.00,326.2 681.25,326.0 681.50,329.0 681.75,326.4 682.00,325.7 682.25,325.6 682.50,324.0 682.75,324.4 683.00,325.3 683.25,325.0 683.50,326.6 683.75,326.6 684.00,328.0 684.25,329.0 684.50,327.1 684.75,326.7 685.00,324.4 685.25,327.9 685.50,328.5 685.75,326.5 686.00,327.2 686.25,326.9 686.50,329.7 686.75,329.2 687.00,330.2 687.25,326.7 687.50,332.7 687.75,327.5 688.00,327.4 688.25,329.4 688.50,328.4 688.75,332.2 689.00,328.9 689.25,328.6 689.50,331.3 689.75,331.8 690.00,328.7 690.25,329.4 690.50,329.7 690.75,330.1 691.00,333.1 691.25,332.5 691.50,332.3 691.75,332.7 692.00,330.9 692.25,332.3 692.50,330.9 692.75,329.9 693.00,333.8 693.25,328.5 693.50,331.3 693.75,330.5 694.00,328.9 694.25,330.9 694.50,331.7 694.75,332.3 695.00,330.4 695.25,332.8 695.50,332.2 695.75,333.0 696.00,328.8 696.25,331.1 696.50,330.8 696.75,332.7 697.00,330.6 697.25,331.0 697.50,330.0 697.75,329.9 698.00,330.3 698.25,333.2 698.50,330.0 698.75,327.9 699.00,332.0 699.25,330.8 699.50,332.3 699.75,332.2 700.00,330.9 700.25,330.6 700.50,330.3 700.75,331.0 701.00,329.7 701.25,331.1 701.50,332.7 701.75,329.5 702.00,329.4 702.25,329.2 702.50,330.9 702.75,330.8 703.00,331.9 703.25,330.6 703.50,329.5 703.75,329.8 704.00,326.9 704.25,329.5 704.50,328.7 704.75,331.4 705.00,330.1 705.25,326.5 705.50,326.6 705.75,328.6 706.00,323.8 706.25,325.3 706.50,327.0 706.75,327.1 707.00,326.1 707.25,327.3 707.50,324.8 707.75,325.1 708.00,324.3 708.25,322.7 708.50,324.1 708.75,322.8 709.00,323.5 709.25,319.1 709.50,322.8 709.75,321.5 710.00,321.1 710.25,321.7 710.50,320.6 710.75,322.3 711.00,322.4 711.25,321.6 711.50,321.3 711.75,320.1 712.00,319.3 712.25,317.0 712.50,318.0 712.75,320.0 713.00,319.0 713.25,316.9 713.50,317.5 713.75,318.5 714.00,316.5 714.25,318.8 714.50,315.1 714.75,317.0 715.00,316.7 715.25,315.7 715.50,315.7 715.75,315.8 716.00,311.6 716.25,315.4 716.50,316.2 716.75,315.0 717.00,315.9 717.25,312.5 717.50,314.0 717.75,314.6 718.00,313.7 718.25,315.8 718.50,314.8 718.75,313.4 719.00,315.3 719.25,315.4 719.50,313.7 719.75,315.4 720.00,315.1 720.25,315.3 720.50,313.1 720.75,316.9 721.00,316.2 721.25,315.5 721.50,316.3 721.75,316.5 722.00,315.8 722.25,315.7 722.50,317.0 722.75,316.3 723.00,316.7 723.25,316.0 723.50,317.6 723.75,319.8 724.00,319.0 724.25,319.1 724.50,318.9 724.75,319.1 725.00,317.8 725.25,322.8 725.50,319.7 725.75,318.9 726.00,322.0 726.25,322.1 726.50,321.3 726.75,320.2 727.00,320.7 727.25,325.4 727.50,323.3 727.75,322.8 728.00,326.9 728.25,323.6 728.50,323.3 728.75,325.9 729.00,325.9 729.25,328.0 729.50,323.6 729.75,326.7 730.00,323.9 730.25,327.5 730.50,326.1 730.75,326.6 731.00,326.5 731.25,329.1 731.50,330.6 731.75,328.2 732.00,328.2 732.25,328.0 732.50,329.8 732.75,327.6 733.00,334.9 733.25,329.3 733.50,332.5 733.75,330.2 734.00,328.1 734.25,327.9 734.50,329.9 734.75,329.6 735.00,330.5 735.25,329.2 735.50,334.8 735.75,334.6 736.00,328.6 736.25,332.3 736.50,333.5 736.75,331.3 737.00,331.5 737.25,333.7 737.50,333.0 737.75,330.3 738.00,334.2 738.25,331.6 738.50,335.4 738.75,331.0 739.00,329.0 739.25,332.8 739.50,334.7 739.75,333.6 740.00,333.1 740.25,331.5 740.50,334.4 740.75,330.1 741.00,334.3 741.25,331.2 741.50,332.2 741.75,331.1 742.00,331.7 742.25,335.6 742.50,331.4 742.75,333.6 743.00,332.0 743.25,334.9 743.50,331.1 743.75,333.3 744.00,334.7 744.25,336.9 744.50,331.4 744.75,331.9 745.00,333.2 745.25,335.6 745.50,331.6 745.75,334.5 746.00,332.2 746.25,331.5 746.50,330.6 746.75,333.3 747.00,334.6 747.25,332.8 747.50,329.5 747.75,331.9 748.00,334.3 748.25,334.1 748.50,333.0 748.75,334.9 749.00,330.4 749.25,330.3 749.50,336.0 749.75,333.2 750.00,331.6 750.25,331.1 750.50,327.6 750.75,332.9 751.00,328.1 751.25,328.2 751.50,331.1 751.75,333.4 752.00,330.2 752.25,331.2 752.50,329.8 752.75,330.9 753.00,327.5 753.25,333.2 753.50,328.2 753.75,330.4 754.00,326.1 754.25,331.9 754.50,329.6 754.75,331.9 755.00,327.5 755.25,330.0 755.50,327.9 755.75,327.9 756.00,329.8 756.25,326.2 756.50,328.6 756.75,330.3 757.00,329.8 757.25,328.6 757.50,327.3 757.75,325.1 758.00,328.7 758.25,325.3 758.50,328.1 758.75,325.6 759.00,326.0 759.25,325.9 759.50,326.8 759.75,325.1 760.00,326.0 760.25,324.9 760.50,326.5 760.75,326.0 761.00,326.3 761.25,324.3 761.50,326.1 761.75,325.7 762.00,326.5 762.25,325.7 762.50,324.2 762.75,326.9 763.00,324.8 763.25,326.3 763.50,322.7 763.75,326.8 764.00,327.1 764.25,324.7 764.50,327.2 764.75,325.8 765.00,328.6 765.25,327.6 765.50,324.6 765.75,326.4 766.00,324.0 766.25,326.3 766.50,327.7 766.75,328.2 767.00,326.8 767.25,326.6 767.50,327.3 767.75,326.1 768.00,327.5 768.25,328.7 768.50,327.3 768.75,328.2 769.00,325.6 769.25,326.0 769.50,327.1 769.75,329.6 770.00,327.9 770.25,328.8 770.50,326.0 770.75,327.7 771.00,322.9 771.25,326.0 771.50,321.7 771.75,326.5 772.00,324.9 772.25,325.6 772.50,324.0 772.75,322.2 773.00,321.3 773.25,322.3 773.50,323.7 773.75,321.9 774.00,319.5 774.25,318.9 774.50,318.0 774.75,318.1 775.00,317.6 775.25,316.3 775.50,316.3 775.75,313.2 776.00,317.1 776.25,314.4 776.50,315.4 776.75,312.8 777.00,311.2 777.25,310.8 777.50,310.1 777.75,308.0 778.00,307.6 778.25,310.0 778.50,307.7 778.75,304.8 779.00,305.4 779.25,302.6 779.50,304.9 779.75,300.7 780.00,302.5 780.25,300.5 780.50,299.8 780.75,297.9 781.00,298.0 781.25,296.6 781.50,295.8 781.75,297.1 782.00,299.3 782.25,294.9 782.50,296.3 782.75,294.5 783.00,293.2 783.25,295.7 783.50,294.5 783.75,295.0 784.00,293.5 784.25,293.5 784.50,292.2 784.75,292.9 785.00,295.6 785.25,290.4 785.50,294.2 785.75,295.8 786.00,295.1 786.25,295.5 786.50,294.3 786.75,296.4 787.00,296.8 787.25,295.5 787.50,298.2 787.75,295.6 788.00,293.3 788.25,297.0 788.50,297.3 788.75,296.6 789.00,297.5 789.25,297.7 789.50,296.3 789.75,300.8 790.00,299.4 790.25,303.4 790.50,299.9 790.75,300.7 791.00,298.3 791.25,302.0 791.50,299.3 791.75,301.7 792.00,302.4 792.25,302.3 792.50,300.2 792.75,300.3 793.00,302.6 793.25,303.2 793.50,303.7 793.75,301.6 794.00,301.6 794.25,304.2 794.50,300.9 794.75,302.8 795.00,301.3 795.25,299.8 795.50,300.3 795.75,302.5 796.00,302.2 796.25,302.6 796.50,301.4 796.75,301.3 797.00,302.5 797.25,301.9 797.50,300.0 797.75,301.8 798.00,304.9 798.25,301.6 798.50,303.7 798.75,303.0 799.00,304.4 799.25,302.4 799.50,302.1 799.75,304.8 800.00,303.6 800.25,304.9 800.50,304.9 800.75,307.1 801.00,306.5 801.25,306.8 801.50,305.7 801.75,305.4 802.00,306.9 802.25,309.8 802.50,310.2 802.75,310.6 803.00,309.8 803.25,309.4 803.50,313.2 803.75,312.4 804.00,313.5 804.25,312.0 804.50,313.0 804.75,315.5 805.00,316.3 805.25,314.4 805.50,316.9 805.75,315.3 806.00,319.5 806.25,319.2 806.50,322.2 806.75,321.7 807.00,319.0 807.25,320.8 807.50,320.3 807.75,321.8 808.00,323.3 808.25,322.6 808.50,323.1 808.75,321.5 809.00,324.8 809.25,324.3 809.50,325.7 809.75,326.8 810.00,325.6 810.25,327.0 810.50,325.3 810.75,328.0 811.00,326.8 811.25,326.2 811.50,327.0 811.75,325.4 812.00,326.9 812.25,327.5 812.50,328.4 812.75,328.4 813.00,327.7 813.25,328.6 813.50,325.7 813.75,329.3 814.00,330.2 814.25,330.7 814.50,331.3 814.75,329.3 815.00,329.6 815.25,329.1 815.50,329.2 815.75,330.2 816.00,332.2 816.25,327.4 816.50,329.4 816.75,330.7 817.00,328.7 817.25,331.0 817.50,328.2 817.75,329.8 818.00,327.8 818.25,330.8 818.50,329.2 818.75,331.5 819.00,330.0 819.25,328.9 819.50,329.8 819.75,330.7 820.00,330.5 820.25,330.1 820.50,329.9 820.75,330.5 821.00,331.8 821.25,329.6 821.50,331.2 821.75,328.4 822.00,331.9 822.25,331.0 822.50,329.9 822.75,329.9 823.00,327.8 823.25,330.6 823.50,330.0 823.75,328.2 824.00,329.7 824.25,331.3 824.50,330.7 824.75,330.8 825.00,329.5 825.25,331.7 825.50,330.3 825.75,331.7 826.00,333.8 826.25,327.2 826.50,329.5 826.75,330.3 827.00,329.1 827.25,331.9 827.50,329.7 827.75,332.9 828.00,331.5 828.25,330.9 828.50,330.2 828.75,331.6 829.00,331.0 829.25,332.5 829.50,330.9 829.75,331.8 830.00,330.8 830.25,330.7 830.50,327.7 830.75,330.2 831.00,330.8 831.25,328.3 831.50,327.9 831.75,329.6 832.00,330.6 832.25,327.4 832.50,330.6 832.75,331.6 833.00,329.7 833.25,330.4 833.50,330.8 833.75,329.0 834.00,331.0 834.25,330.7 834.50,328.0 834.75,330.8 835.00,331.3 835.25,328.2 835.50,331.3 835.75,329.5 836.00,327.8 836.25,328.2 836.50,328.5 836.75,330.7 837.00,329.1 837.25,329.2 837.50,327.8 837.75,329.8 838.00,327.8 838.25,328.7 838.50,330.7 838.75,330.8 839.00,328.9 839.25,329.6 839.50,330.5 839.75,329.7 840.00,331.6 840.25,331.8 840.50,329.5 840.75,327.7 841.00,329.4 841.25,331.7 841.50,331.4 841.75,331.5 842.00,331.3 842.25,328.7 842.50,330.0 842.75,331.2 843.00,329.9 843.25,330.9 843.50,327.9 843.75,327.5 844.00,332.7 844.25,330.7 844.50,330.4 844.75,331.8 845.00,333.0 845.25,334.0 845.50,325.6 845.75,330.0 846.00,331.0 846.25,326.3 846.50,326.5 846.75,329.0 847.00,332.3 847.25,330.8 847.50,332.7 847.75,329.7 848.00,331.0 848.25,331.7 848.50,330.0 848.75,329.2 849.00,329.4 849.25,323.3 849.50,329.7 849.75,326.2 850.00,327.8 850.25,330.3 850.50,329.8 850.75,326.0 851.00,330.0 851.25,330.4 851.50,329.5 851.75,330.3 852.00,330.1 852.25,326.5 852.50,328.9 852.75,328.7 853.00,327.3 853.25,329.1 853.50,327.9 853.75,329.1 854.00,327.9 854.25,330.9 854.50,332.8 854.75,328.4 855.00,329.3 855.25,329.4 855.50,330.0 855.75,329.0 856.00,325.7 856.25,329.9 856.50,329.1 856.75,327.6 857.00,329.0 857.25,328.5 857.50,329.7 857.75,328.9 858.00,328.9 858.25,329.5 858.50,329.8 858.75,329.4 859.00,331.3 859.25,329.8 859.50,328.2 859.75,332.2 860.00,329.6 860.25,331.9 860.50,327.7 860.75,330.4 861.00,332.2 861.25,331.5 861.50,329.6 861.75,328.6 862.00,328.5 862.25,329.2 862.50,328.0 862.75,328.3 863.00,327.9 863.25,327.9 863.50,329.9 863.75,326.7 864.00,329.8 864.25,330.7 864.50,328.1 864.75,328.1 865.00,329.6 865.25,329.5 865.50,331.1 865.75,326.4 866.00,329.5 866.25,331.9 866.50,329.8 866.75,332.5 867.00,333.2 867.25,328.8 867.50,332.1 867.75,330.5 868.00,329.7 868.25,329.3 868.50,329.4 868.75,328.3 869.00,329.5 869.25,331.3 869.50,331.8 869.75,329.2 870.00,330.6 870.25,330.5 870.50,326.0 870.75,330.9 871.00,327.8 871.25,328.0 871.50,331.2 871.75,332.5 872.00,328.1 872.25,328.4 872.50,328.3 872.75,329.0 873.00,329.2 873.25,328.5 873.50,327.3 873.75,332.7 874.00,329.1 874.25,328.7 874.50,331.3 874.75,329.3 875.00,331.6 875.25,331.2 875.50,331.5 875.75,329.3 876.00,331.0 876.25,327.5 876.50,327.8 876.75,330.1 877.00,329.5 877.25,332.1 877.50,329.5 877.75,327.2 878.00,330.1 878.25,329.5 878.50,330.3 878.75,328.2 879.00,328.8 879.25,330.1 879.50,331.2 879.75,330.7 880.00,331.3 880.25,327.7 880.50,329.7 880.75,330.4 881.00,331.6 881.25,330.5 881.50,329.7 881.75,329.9 882.00,330.0 882.25,327.8 882.50,330.2 882.75,331.4 883.00,331.3 883.25,327.2 883.50,330.2 883.75,327.8 884.00,331.9 884.25,331.0 884.50,331.3 884.75,329.1 885.00,327.1 885.25,328.5 885.50,329.6 885.75,327.8 886.00,328.6 886.25,333.0 886.50,328.1 886.75,331.1 887.00,327.3 887.25,330.6 887.50,331.6 887.75,331.0 888.00,332.2 888.25,333.1 888.50,328.1 888.75,330.7 889.00,331.1 889.25,331.0 889.50,332.8 889.75,330.7 890.00,332.2 890.25,332.1 890.50,330.5 890.75,331.2 891.00,329.1 891.25,330.8 891.50,330.6 891.75,330.1 892.00,329.6 892.25,331.9 892.50,330.2 892.75,334.0 893.00,332.4 893.25,331.6 893.50,329.4 893.75,331.8 894.00,330.6 894.25,330.5 894.50,328.6 894.75,331.3 895.00,330.7 895.25,329.6 895.50,329.3 895.75,329.9 896.00,328.2 896.25,329.4 896.50,332.5 896.75,329.3 897.00,334.0 897.25,328.2 897.50,332.0 897.75,332.0 898.00,332.1 898.25,331.2 898.50,327.7 898.75,332.1 899.00,331.9 899.25,330.3 899.50,326.4 899.75,331.9 900.00,328.7 900.25,329.7 900.50,332.1 900.75,332.2 901.00,330.7 901.25,329.2 901.50,332.7 901.75,331.8 902.00,329.7 902.25,328.4 902.50,330.3 902.75,327.7 903.00,332.6 903.25,330.6 903.50,329.2 903.75,330.3 904.00,327.0 904.25,329.5 904.50,328.5 904.75,327.0 905.00,328.4 905.25,329.9 905.50,327.0 905.75,328.9 906.00,326.8 906.25,329.4 906.50,326.2 906.75,330.0 907.00,329.9 907.25,330.1 907.50,331.5 907.75,328.8 908.00,328.6 908.25,329.3 908.50,327.5 908.75,325.1 909.00,326.1 909.25,326.0 909.50,328.1 909.75,326.7 910.00,327.0 910.25,328.4 910.50,327.7 910.75,330.4 911.00,327.1 911.25,325.6 911.50,329.0 911.75,326.3 912.00,326.7 912.25,328.4 912.50,327.0 912.75,327.8 913.00,325.8 913.25,326.3 913.50,327.8 913.75,325.9 914.00,326.2 914.25,326.8 914.50,329.5 914.75,329.4 915.00,327.5 915.25,327.4 915.50,326.3 915.75,329.6 916.00,328.3 916.25,329.2 916.50,325.7 916.75,329.3 917.00,328.4 917.25,329.5 917.50,330.0 917.75,328.5 918.00,328.1 918.25,329.9 918.50,327.0 918.75,331.3 919.00,329.7 919.25,327.5 919.50,331.4 919.75,331.0 920.00,332.0 920.25,331.2 920.50,330.5 920.75,329.8 921.00,328.3 921.25,331.2 921.50,331.0 921.75,329.5 922.00,331.2 922.25,328.9 922.50,332.1 922.75,330.7 923.00,330.9 923.25,329.4 923.50,332.1 923.75,330.9 924.00,329.8 924.25,331.4 924.50,330.5 924.75,332.5 925.00,328.5 925.25,329.1 925.50,334.2 925.75,330.2 926.00,331.8 926.25,330.4 926.50,331.5 926.75,335.3 927.00,328.0 927.25,332.1 927.50,331.3 927.75,331.3 928.00,330.0 928.25,329.8 928.50,333.5 928.75,332.2 929.00,329.5 929.25,331.4 929.50,329.3 929.75,336.1 930.00,332.1 930.25,328.6 930.50,333.0 930.75,332.6 931.00,332.1 931.25,331.9 931.50,330.7 931.75,331.3 932.00,328.4 932.25,333.8 932.50,334.9 932.75,332.5 933.00,332.7 933.25,329.6 933.50,331.1 933.75,329.5 934.00,329.7 934.25,332.7 934.50,334.1 934.75,331.7 935.00,335.8 935.25,333.2 935.50,328.3 935.75,331.3 936.00,334.0 936.25,332.2 936.50,333.6 936.75,329.3 937.00,334.0 937.25,330.1 937.50,332.5 937.75,335.4 938.00,332.1 938.25,331.7 938.50,333.3 938.75,330.7 939.00,330.5 939.25,333.7 939.50,329.7 939.75,330.1 940.00,334.9 940.25,330.1 940.50,332.9 940.75,333.9 941.00,332.1 941.25,330.5 941.50,333.5 941.75,330.7 942.00,335.6 942.25,335.8 942.50,330.6 942.75,333.2 943.00,331.1 943.25,332.9 943.50,331.9 943.75,330.7 944.00,333.1 944.25,329.7 944.50,332.8 944.75,332.1 945.00,331.1 945.25,333.8 945.50,332.4 945.75,331.8 946.00,332.1 946.25,332.0 946.50,333.9 946.75,331.9 947.00,327.8 947.25,327.4 947.50,330.7 947.75,330.4 948.00,332.0 948.25,330.3 948.50,331.2 948.75,334.6 949.00,330.3 949.25,333.9 949.50,332.3 949.75,334.6 950.00,334.0 950.25,332.6 950.50,334.3 950.75,332.9 951.00,330.8 951.25,333.4 951.50,333.4 951.75,332.4 952.00,333.1 952.25,332.0 952.50,333.2 952.75,332.2 953.00,330.2 953.25,332.3 953.50,335.3 953.75,334.1 954.00,335.2 954.25,332.8 954.50,332.1 954.75,331.1 955.00,333.0 955.25,334.4 955.50,334.1 955.75,334.0 956.00,332.0 956.25,333.0 956.50,331.6 956.75,334.2 957.00,333.8 957.25,331.8 957.50,333.1 957.75,329.2 958.00,334.0 958.25,331.6 958.50,332.3 958.75,333.9 959.00,334.0 959.25,331.8 959.50,335.5 959.75,336.2 960.00,335.3 960.25,335.1 960.50,333.1 960.75,335.2 961.00,331.6 961.25,331.2 961.50,333.3 961.75,333.4 962.00,331.6 962.25,335.9 962.50,330.7 962.75,329.7 963.00,332.4 963.25,335.7 963.50,334.3 963.75,333.6 964.00,333.3 964.25,334.0 964.50,333.6 964.75,333.3 965.00,332.9 965.25,330.6 965.50,334.7 965.75,332.4 966.00,333.8 966.25,333.9 966.50,334.8 966.75,331.9 967.00,334.5 967.25,334.6 967.50,333.0 967.75,333.1 968.00,333.4 968.25,331.6 968.50,332.5 968.75,331.4 969.00,335.1 969.25,332.0 969.50,331.5 969.75,333.5 970.00,334.1 970.25,332.7 970.50,331.8 970.75,334.0 971.00,334.7 971.25,330.7 971.50,334.8 971.75,330.5 972.00,334.4 972.25,332.6 972.50,332.9 972.75,334.5 973.00,335.7 973.25,336.7 973.50,335.6 973.75,334.5 974.00,331.3" fill="none" stroke="#d83e3c" stroke-width="3.0" stroke-linejoin="round"/><polyline points="102.00,473.2 102.25,461.9 102.50,469.2 102.75,466.7 103.00,467.0 103.25,467.5 103.50,463.1 103.75,467.4 104.00,465.8 104.25,476.1 104.50,468.4 104.75,467.0 105.00,467.1 105.25,466.2 105.50,465.2 105.75,466.8 106.00,468.9 106.25,467.1 106.50,470.0 106.75,467.1 107.00,467.6 107.25,471.3 107.50,468.9 107.75,466.3 108.00,467.0 108.25,468.8 108.50,472.1 108.75,466.7 109.00,466.7 109.25,469.8 109.50,465.1 109.75,466.5 110.00,469.4 110.25,468.6 110.50,467.4 110.75,468.8 111.00,460.2 111.25,469.6 111.50,464.7 111.75,462.9 112.00,467.6 112.25,468.7 112.50,465.8 112.75,464.2 113.00,466.9 113.25,466.7 113.50,470.2 113.75,468.6 114.00,467.2 114.25,469.4 114.50,466.2 114.75,464.4 115.00,468.0 115.25,468.0 115.50,466.0 115.75,464.6 116.00,467.0 116.25,460.3 116.50,468.1 116.75,467.6 117.00,462.3 117.25,466.5 117.50,463.9 117.75,468.1 118.00,461.3 118.25,464.0 118.50,467.9 118.75,469.0 119.00,460.8 119.25,464.9 119.50,466.9 119.75,464.5 120.00,469.9 120.25,463.0 120.50,466.8 120.75,463.3 121.00,469.3 121.25,465.8 121.50,464.9 121.75,461.6 122.00,469.9 122.25,467.6 122.50,467.5 122.75,468.4 123.00,466.5 123.25,464.0 123.50,463.6 123.75,463.6 124.00,468.8 124.25,461.9 124.50,464.0 124.75,464.6 125.00,465.9 125.25,466.7 125.50,462.3 125.75,461.0 126.00,465.2 126.25,468.2 126.50,467.0 126.75,465.7 127.00,464.3 127.25,465.8 127.50,464.5 127.75,467.0 128.00,463.1 128.25,465.3 128.50,464.7 128.75,466.2 129.00,465.4 129.25,471.1 129.50,468.5 129.75,468.4 130.00,459.8 130.25,463.9 130.50,463.2 130.75,466.0 131.00,459.1 131.25,467.5 131.50,467.2 131.75,461.4 132.00,462.1 132.25,462.5 132.50,464.6 132.75,466.0 133.00,469.4 133.25,463.9 133.50,466.2 133.75,464.7 134.00,468.6 134.25,466.0 134.50,467.5 134.75,461.5 135.00,463.7 135.25,462.1 135.50,467.8 135.75,465.7 136.00,463.3 136.25,462.9 136.50,465.1 136.75,462.2 137.00,461.6 137.25,465.0 137.50,469.9 137.75,463.2 138.00,462.4 138.25,460.9 138.50,460.4 138.75,465.0 139.00,465.7 139.25,463.6 139.50,464.4 139.75,463.8 140.00,463.9 140.25,459.8 140.50,462.3 140.75,463.7 141.00,461.5 141.25,462.2 141.50,461.3 141.75,462.5 142.00,465.4 142.25,462.2 142.50,462.8 142.75,465.2 143.00,464.7 143.25,467.3 143.50,458.0 143.75,465.1 144.00,461.8 144.25,463.3 144.50,465.0 144.75,465.6 145.00,465.4 145.25,463.2 145.50,466.8 145.75,462.1 146.00,462.4 146.25,464.7 146.50,461.4 146.75,468.0 147.00,465.1 147.25,467.9 147.50,462.5 147.75,461.6 148.00,462.9 148.25,464.3 148.50,461.0 148.75,463.4 149.00,462.4 149.25,466.3 149.50,460.7 149.75,464.9 150.00,460.7 150.25,459.9 150.50,460.5 150.75,459.3 151.00,462.5 151.25,464.6 151.50,462.5 151.75,463.6 152.00,466.0 152.25,462.7 152.50,462.4 152.75,461.3 153.00,458.0 153.25,463.7 153.50,457.5 153.75,463.4 154.00,461.7 154.25,464.5 154.50,461.6 154.75,459.7 155.00,462.5 155.25,460.3 155.50,461.1 155.75,461.7 156.00,461.2 156.25,461.0 156.50,459.4 156.75,461.0 157.00,456.2 157.25,461.0 157.50,458.4 157.75,464.1 158.00,464.4 158.25,456.5 158.50,461.6 158.75,460.9 159.00,458.6 159.25,462.4 159.50,460.0 159.75,456.7 160.00,460.4 160.25,460.6 160.50,461.2 160.75,457.9 161.00,462.4 161.25,462.7 161.50,458.0 161.75,459.2 162.00,460.6 162.25,459.4 162.50,465.0 162.75,461.2 163.00,458.2 163.25,458.7 163.50,460.5 163.75,466.2 164.00,460.1 164.25,460.8 164.50,461.7 164.75,460.3 165.00,466.0 165.25,459.1 165.50,462.2 165.75,460.7 166.00,461.8 166.25,457.4 166.50,464.5 166.75,459.9 167.00,460.2 167.25,457.8 167.50,458.3 167.75,461.4 168.00,462.4 168.25,461.8 168.50,462.9 168.75,461.7 169.00,460.0 169.25,461.9 169.50,461.3 169.75,459.6 170.00,461.5 170.25,462.9 170.50,460.3 170.75,458.8 171.00,461.4 171.25,464.3 171.50,459.1 171.75,459.3 172.00,459.2 172.25,462.5 172.50,455.0 172.75,460.3 173.00,462.3 173.25,457.4 173.50,463.0 173.75,460.6 174.00,457.9 174.25,459.7 174.50,455.5 174.75,457.8 175.00,463.6 175.25,456.9 175.50,463.6 175.75,458.8 176.00,461.4 176.25,459.1 176.50,453.5 176.75,457.5 177.00,459.4 177.25,456.0 177.50,455.5 177.75,459.7 178.00,457.2 178.25,454.6 178.50,457.0 178.75,460.8 179.00,457.5 179.25,460.9 179.50,462.3 179.75,458.6 180.00,455.7 180.25,455.4 180.50,458.5 180.75,460.8 181.00,459.3 181.25,460.0 181.50,457.6 181.75,459.5 182.00,457.6 182.25,458.0 182.50,455.6 182.75,455.0 183.00,457.7 183.25,456.2 183.50,456.6 183.75,460.6 184.00,458.7 184.25,466.1 184.50,461.3 184.75,457.5 185.00,461.0 185.25,460.0 185.50,457.5 185.75,461.9 186.00,457.3 186.25,451.8 186.50,461.2 186.75,457.8 187.00,463.0 187.25,457.8 187.50,456.5 187.75,463.2 188.00,456.8 188.25,460.0 188.50,463.1 188.75,459.8 189.00,459.4 189.25,459.9 189.50,461.7 189.75,457.7 190.00,461.2 190.25,461.1 190.50,465.5 190.75,459.0 191.00,457.6 191.25,461.6 191.50,458.9 191.75,460.6 192.00,460.3 192.25,462.8 192.50,458.4 192.75,459.8 193.00,453.8 193.25,457.9 193.50,463.9 193.75,458.5 194.00,458.4 194.25,457.2 194.50,461.6 194.75,460.7 195.00,457.4 195.25,461.9 195.50,461.0 195.75,462.2 196.00,458.8 196.25,464.7 196.50,461.5 196.75,460.2 197.00,459.2 197.25,459.9 197.50,462.7 197.75,459.9 198.00,463.3 198.25,462.1 198.50,464.0 198.75,462.7 199.00,460.6 199.25,456.1 199.50,461.5 199.75,462.8 200.00,461.3 200.25,462.2 200.50,459.8 200.75,460.0 201.00,458.7 201.25,464.3 201.50,461.4 201.75,459.9 202.00,457.8 202.25,460.7 202.50,464.7 202.75,462.3 203.00,459.4 203.25,464.7 203.50,464.7 203.75,463.7 204.00,463.2 204.25,464.2 204.50,462.7 204.75,463.3 205.00,459.5 205.25,465.1 205.50,462.1 205.75,466.5 206.00,456.6 206.25,463.3 206.50,464.0 206.75,460.8 207.00,462.8 207.25,463.5 207.50,463.1 207.75,460.4 208.00,461.4 208.25,464.3 208.50,464.9 208.75,462.1 209.00,462.1 209.25,462.4 209.50,464.5 209.75,459.4 210.00,458.8 210.25,462.3 210.50,459.4 210.75,460.6 211.00,462.3 211.25,463.3 211.50,459.5 211.75,464.2 212.00,457.9 212.25,463.6 212.50,458.4 212.75,459.2 213.00,463.9 213.25,461.4 213.50,460.4 213.75,461.3 214.00,463.6 214.25,462.3 214.50,462.4 214.75,465.1 215.00,460.8 215.25,461.4 215.50,461.3 215.75,465.5 216.00,465.1 216.25,465.8 216.50,462.6 216.75,462.4 217.00,464.9 217.25,461.8 217.50,464.9 217.75,464.6 218.00,461.2 218.25,462.7 218.50,462.6 218.75,467.2 219.00,469.3 219.25,462.8 219.50,463.1 219.75,457.5 220.00,463.6 220.25,463.1 220.50,460.5 220.75,465.1 221.00,459.4 221.25,462.7 221.50,463.6 221.75,460.2 222.00,465.4 222.25,465.9 222.50,460.0 222.75,460.0 223.00,464.9 223.25,463.4 223.50,460.5 223.75,462.8 224.00,463.3 224.25,463.2 224.50,465.6 224.75,464.5 225.00,468.0 225.25,467.0 225.50,465.3 225.75,466.3 226.00,467.0 226.25,465.5 226.50,460.8 226.75,465.9 227.00,464.0 227.25,467.8 227.50,464.1 227.75,465.2 228.00,464.8 228.25,468.1 228.50,464.4 228.75,463.4 229.00,464.8 229.25,463.0 229.50,464.5 229.75,464.1 230.00,464.8 230.25,468.9 230.50,463.2 230.75,464.3 231.00,463.8 231.25,465.9 231.50,461.4 231.75,462.6 232.00,464.3 232.25,465.7 232.50,464.3 232.75,463.2 233.00,462.3 233.25,465.7 233.50,468.0 233.75,465.3 234.00,465.0 234.25,465.7 234.50,462.3 234.75,463.9 235.00,464.0 235.25,465.4 235.50,464.6 235.75,461.8 236.00,467.5 236.25,468.9 236.50,464.1 236.75,465.8 237.00,465.5 237.25,466.8 237.50,461.3 237.75,468.8 238.00,463.8 238.25,468.0 238.50,465.2 238.75,464.0 239.00,464.7 239.25,467.2 239.50,463.0 239.75,464.2 240.00,463.9 240.25,461.0 240.50,468.3 240.75,466.6 241.00,465.1 241.25,468.0 241.50,462.9 241.75,465.1 242.00,469.5 242.25,467.7 242.50,459.9 242.75,457.2 243.00,462.8 243.25,468.0 243.50,464.3 243.75,464.9 244.00,466.9 244.25,463.3 244.50,466.0 244.75,467.4 245.00,466.7 245.25,466.5 245.50,464.1 245.75,466.8 246.00,464.6 246.25,468.8 246.50,471.9 246.75,463.9 247.00,460.4 247.25,464.7 247.50,466.6 247.75,468.3 248.00,468.4 248.25,463.9 248.50,463.9 248.75,468.9 249.00,463.2 249.25,468.5 249.50,465.3 249.75,467.7 250.00,467.6 250.25,467.8 250.50,467.9 250.75,463.5 251.00,466.7 251.25,466.0 251.50,466.7 251.75,469.0 252.00,465.3 252.25,464.3 252.50,464.3 252.75,465.3 253.00,467.9 253.25,464.1 253.50,468.9 253.75,466.8 254.00,465.5 254.25,462.9 254.50,466.7 254.75,467.8 255.00,461.9 255.25,469.0 255.50,470.1 255.75,467.0 256.00,467.4 256.25,472.0 256.50,469.2 256.75,464.0 257.00,466.1 257.25,465.8 257.50,465.8 257.75,460.5 258.00,468.0 258.25,464.7 258.50,466.6 258.75,465.9 259.00,468.3 259.25,465.5 259.50,464.3 259.75,467.5 260.00,469.6 260.25,465.4 260.50,469.5 260.75,466.7 261.00,464.8 261.25,469.7 261.50,464.0 261.75,468.4 262.00,464.7 262.25,466.9 262.50,462.8 262.75,463.8 263.00,468.3 263.25,466.1 263.50,465.7 263.75,464.5 264.00,466.6 264.25,462.1 264.50,462.7 264.75,465.0 265.00,463.3 265.25,463.6 265.50,465.0 265.75,464.8 266.00,464.5 266.25,469.0 266.50,467.4 266.75,467.8 267.00,464.7 267.25,463.5 267.50,461.1 267.75,463.7 268.00,459.5 268.25,463.0 268.50,466.1 268.75,468.1 269.00,466.4 269.25,462.0 269.50,465.1 269.75,461.9 270.00,465.7 270.25,463.3 270.50,465.5 270.75,469.5 271.00,465.4 271.25,468.6 271.50,463.3 271.75,462.0 272.00,465.7 272.25,466.5 272.50,460.9 272.75,462.2 273.00,458.4 273.25,461.1 273.50,463.5 273.75,460.9 274.00,459.5 274.25,457.3 274.50,461.2 274.75,461.9 275.00,461.1 275.25,459.9 275.50,456.0 275.75,462.7 276.00,458.0 276.25,457.3 276.50,458.9 276.75,451.7 277.00,456.0 277.25,455.3 277.50,455.9 277.75,457.5 278.00,454.8 278.25,448.9 278.50,451.5 278.75,452.0 279.00,451.0 279.25,447.0 279.50,445.2 279.75,449.2 280.00,447.8 280.25,446.0 280.50,441.2 280.75,447.8 281.00,436.5 281.25,440.9 281.50,445.1 281.75,439.1 282.00,438.8 282.25,434.7 282.50,438.9 282.75,432.2 283.00,434.4 283.25,433.2 283.50,429.8 283.75,433.0 284.00,427.5 284.25,428.4 284.50,429.3 284.75,428.2 285.00,429.8 285.25,430.7 285.50,428.3 285.75,428.0 286.00,428.5 286.25,429.3 286.50,432.3 286.75,430.9 287.00,433.0 287.25,432.9 287.50,432.2 287.75,436.8 288.00,433.8 288.25,437.0 288.50,441.1 288.75,436.7 289.00,439.9 289.25,437.5 289.50,440.8 289.75,439.6 290.00,442.9 290.25,443.3 290.50,445.6 290.75,449.5 291.00,447.4 291.25,448.9 291.50,448.0 291.75,448.1 292.00,447.3 292.25,445.7 292.50,450.3 292.75,454.2 293.00,452.0 293.25,450.1 293.50,455.3 293.75,450.8 294.00,450.6 294.25,449.5 294.50,450.2 294.75,452.0 295.00,457.1 295.25,452.2 295.50,450.4 295.75,451.3 296.00,452.2 296.25,448.8 296.50,452.9 296.75,454.1 297.00,453.1 297.25,453.6 297.50,449.2 297.75,448.1 298.00,454.6 298.25,454.0 298.50,447.8 298.75,451.5 299.00,450.8 299.25,451.7 299.50,450.6 299.75,448.7 300.00,449.9 300.25,449.5 300.50,448.6 300.75,444.3 301.00,441.3 301.25,445.8 301.50,443.5 301.75,447.3 302.00,447.9 302.25,446.4 302.50,444.5 302.75,445.0 303.00,446.9 303.25,442.3 303.50,445.4 303.75,444.4 304.00,442.9 304.25,444.9 304.50,439.7 304.75,442.7 305.00,438.2 305.25,438.0 305.50,436.8 305.75,439.4 306.00,435.9 306.25,437.4 306.50,434.4 306.75,438.4 307.00,439.5 307.25,435.5 307.50,437.9 307.75,435.1 308.00,437.8 308.25,433.0 308.50,428.9 308.75,434.7 309.00,430.8 309.25,428.4 309.50,428.7 309.75,426.2 310.00,428.7 310.25,426.3 310.50,431.0 310.75,428.9 311.00,423.7 311.25,423.6 311.50,425.1 311.75,422.0 312.00,425.3 312.25,425.0 312.50,423.2 312.75,423.4 313.00,425.2 313.25,426.7 313.50,426.6 313.75,423.5 314.00,424.9 314.25,421.6 314.50,423.7 314.75,420.8 315.00,424.1 315.25,420.1 315.50,420.5 315.75,422.4 316.00,423.5 316.25,419.5 316.50,421.3 316.75,422.6 317.00,422.8 317.25,420.7 317.50,422.6 317.75,421.8 318.00,425.2 318.25,423.5 318.50,419.7 318.75,417.9 319.00,422.4 319.25,424.5 319.50,422.4 319.75,423.7 320.00,420.8 320.25,418.9 320.50,422.9 320.75,421.4 321.00,422.3 321.25,418.0 321.50,420.8 321.75,419.0 322.00,421.6 322.25,418.6 322.50,418.3 322.75,418.2 323.00,421.7 323.25,419.1 323.50,417.5 323.75,417.0 324.00,417.0 324.25,422.0 324.50,415.8 324.75,417.9 325.00,421.2 325.25,422.6 325.50,420.4 325.75,422.7 326.00,423.2 326.25,424.2 326.50,422.9 326.75,426.7 327.00,424.5 327.25,427.7 327.50,423.0 327.75,427.7 328.00,423.8 328.25,423.8 328.50,428.3 328.75,426.1 329.00,429.0 329.25,426.2 329.50,432.0 329.75,428.9 330.00,426.7 330.25,429.5 330.50,430.9 330.75,427.5 331.00,430.0 331.25,433.0 331.50,430.4 331.75,428.3 332.00,426.9 332.25,428.9 332.50,424.2 332.75,420.7 333.00,425.0 333.25,423.6 333.50,428.7 333.75,424.8 334.00,421.8 334.25,420.8 334.50,423.3 334.75,419.8 335.00,419.4 335.25,419.4 335.50,418.8 335.75,417.7 336.00,416.6 336.25,417.7 336.50,417.2 336.75,409.5 337.00,416.2 337.25,410.0 337.50,410.6 337.75,405.3 338.00,405.5 338.25,403.6 338.50,401.5 338.75,400.9 339.00,398.4 339.25,393.3 339.50,392.7 339.75,391.8 340.00,389.3 340.25,385.0 340.50,382.4 340.75,379.9 341.00,375.5 341.25,372.3 341.50,374.1 341.75,367.9 342.00,365.6 342.25,361.2 342.50,361.4 342.75,359.0 343.00,352.9 343.25,351.1 343.50,346.4 343.75,347.6 344.00,343.8 344.25,338.9 344.50,340.1 344.75,337.1 345.00,335.8 345.25,334.7 345.50,332.6 345.75,332.6 346.00,334.4 346.25,334.0 346.50,333.6 346.75,339.3 347.00,337.6 347.25,339.0 347.50,340.9 347.75,345.5 348.00,348.5 348.25,350.2 348.50,354.1 348.75,353.4 349.00,358.3 349.25,361.2 349.50,365.1 349.75,369.0 350.00,367.9 350.25,379.5 350.50,375.7 350.75,380.7 351.00,384.3 351.25,387.1 351.50,388.6 351.75,385.6 352.00,391.3 352.25,396.9 352.50,396.1 352.75,398.0 353.00,397.7 353.25,406.3 353.50,406.9 353.75,406.1 354.00,409.3 354.25,411.0 354.50,410.7 354.75,413.8 355.00,416.4 355.25,418.4 355.50,421.1 355.75,420.0 356.00,420.3 356.25,423.2 356.50,422.3 356.75,422.2 357.00,428.1 357.25,426.0 357.50,428.1 357.75,430.1 358.00,427.4 358.25,431.9 358.50,432.4 358.75,432.1 359.00,433.9 359.25,432.3 359.50,430.0 359.75,434.8 360.00,434.2 360.25,438.6 360.50,438.0 360.75,437.0 361.00,438.9 361.25,442.3 361.50,442.4 361.75,441.3 362.00,442.0 362.25,441.1 362.50,441.9 362.75,444.0 363.00,442.9 363.25,444.4 363.50,441.7 363.75,441.0 364.00,441.4 364.25,444.6 364.50,448.9 364.75,449.0 365.00,444.6 365.25,443.8 365.50,449.4 365.75,449.0 366.00,445.3 366.25,451.1 366.50,449.5 366.75,452.4 367.00,450.6 367.25,452.2 367.50,451.2 367.75,448.7 368.00,450.6 368.25,449.9 368.50,453.6 368.75,449.8 369.00,448.8 369.25,454.1 369.50,455.5 369.75,456.4 370.00,455.9 370.25,450.2 370.50,452.3 370.75,452.9 371.00,454.4 371.25,449.7 371.50,454.9 371.75,455.8 372.00,453.1 372.25,455.8 372.50,458.5 372.75,456.1 373.00,458.6 373.25,458.7 373.50,457.5 373.75,457.7 374.00,456.1 374.25,460.0 374.50,456.2 374.75,455.9 375.00,459.3 375.25,456.2 375.50,459.0 375.75,460.7 376.00,458.5 376.25,458.8 376.50,460.8 376.75,460.6 377.00,455.4 377.25,456.0 377.50,462.4 377.75,460.3 378.00,454.6 378.25,456.5 378.50,459.8 378.75,457.6 379.00,461.1 379.25,460.4 379.50,461.4 379.75,457.6 380.00,462.0 380.25,465.3 380.50,458.9 380.75,464.0 381.00,463.3 381.25,462.6 381.50,461.0 381.75,458.5 382.00,459.3 382.25,463.3 382.50,463.9 382.75,464.5 383.00,464.0 383.25,463.9 383.50,460.8 383.75,459.1 384.00,462.5 384.25,463.3 384.50,462.4 384.75,458.6 385.00,461.1 385.25,458.9 385.50,462.8 385.75,460.0 386.00,462.2 386.25,463.5 386.50,463.1 386.75,466.1 387.00,460.2 387.25,457.7 387.50,465.3 387.75,466.4 388.00,466.5 388.25,463.8 388.50,464.5 388.75,463.6 389.00,460.2 389.25,462.0 389.50,464.6 389.75,462.1 390.00,468.1 390.25,459.9 390.50,462.6 390.75,466.3 391.00,462.2 391.25,461.0 391.50,460.5 391.75,462.1 392.00,467.5 392.25,464.9 392.50,465.2 392.75,462.7 393.00,466.1 393.25,464.3 393.50,461.9 393.75,463.0 394.00,464.7 394.25,467.0 394.50,464.1 394.75,465.5 395.00,469.2 395.25,462.4 395.50,461.4 395.75,466.8 396.00,465.5 396.25,464.2 396.50,465.1 396.75,463.7 397.00,465.8 397.25,463.7 397.50,466.5 397.75,461.8 398.00,462.7 398.25,464.9 398.50,463.5 398.75,466.4 399.00,464.6 399.25,463.4 399.50,465.3 399.75,463.5 400.00,461.1 400.25,462.1 400.50,462.9 400.75,463.7 401.00,465.1 401.25,467.0 401.50,466.2 401.75,469.2 402.00,467.9 402.25,464.4 402.50,468.9 402.75,467.7 403.00,463.8 403.25,465.6 403.50,467.5 403.75,465.5 404.00,467.4 404.25,465.9 404.50,466.6 404.75,464.1 405.00,465.8 405.25,464.0 405.50,466.5 405.75,460.8 406.00,465.7 406.25,467.9 406.50,466.3 406.75,464.8 407.00,466.2 407.25,462.9 407.50,462.9 407.75,464.0 408.00,464.5 408.25,467.2 408.50,462.7 408.75,467.3 409.00,461.1 409.25,463.0 409.50,464.8 409.75,467.7 410.00,463.4 410.25,459.7 410.50,465.9 410.75,464.8 411.00,462.2 411.25,462.3 411.50,463.2 411.75,465.1 412.00,466.4 412.25,461.2 412.50,470.4 412.75,464.7 413.00,463.9 413.25,466.4 413.50,465.1 413.75,470.5 414.00,467.4 414.25,463.9 414.50,463.8 414.75,463.6 415.00,463.9 415.25,466.4 415.50,463.2 415.75,468.6 416.00,464.5 416.25,464.4 416.50,467.0 416.75,459.9 417.00,462.4 417.25,466.1 417.50,464.7 417.75,464.6 418.00,465.6 418.25,463.2 418.50,464.2 418.75,461.3 419.00,460.1 419.25,467.7 419.50,462.3 419.75,462.9 420.00,468.0 420.25,467.1 420.50,463.3 420.75,463.3 421.00,464.3 421.25,462.2 421.50,465.9 421.75,464.9 422.00,464.8 422.25,466.3 422.50,466.2 422.75,468.9 423.00,468.1 423.25,460.3 423.50,466.6 423.75,461.7 424.00,460.9 424.25,466.1 424.50,462.7 424.75,463.6 425.00,467.0 425.25,462.7 425.50,462.2 425.75,465.1 426.00,467.3 426.25,465.6 426.50,460.5 426.75,462.7 427.00,463.9 427.25,469.0 427.50,466.4 427.75,466.3 428.00,467.2 428.25,463.5 428.50,465.4 428.75,465.4 429.00,461.8 429.25,464.1 429.50,465.5 429.75,461.5 430.00,466.1 430.25,466.0 430.50,466.6 430.75,462.2 431.00,464.3 431.25,467.6 431.50,466.0 431.75,462.1 432.00,464.6 432.25,467.5 432.50,463.8 432.75,464.9 433.00,470.2 433.25,463.9 433.50,463.7 433.75,461.5 434.00,462.3 434.25,467.5 434.50,463.5 434.75,461.0 435.00,461.6 435.25,463.8 435.50,465.7 435.75,462.0 436.00,465.5 436.25,462.6 436.50,464.6 436.75,465.0 437.00,465.2 437.25,462.6 437.50,463.3 437.75,464.9 438.00,460.5 438.25,464.0 438.50,464.9 438.75,466.1 439.00,463.5 439.25,463.1 439.50,463.9 439.75,461.7 440.00,463.0 440.25,464.5 440.50,464.1 440.75,460.9 441.00,462.6 441.25,458.3 441.50,465.3 441.75,462.1 442.00,463.9 442.25,460.6 442.50,463.1 442.75,464.4 443.00,465.6 443.25,459.9 443.50,465.3 443.75,462.8 444.00,461.3 444.25,464.3 444.50,462.4 444.75,462.4 445.00,461.4 445.25,463.6 445.50,463.2 445.75,462.6 446.00,460.7 446.25,461.8 446.50,464.0 446.75,466.1 447.00,462.9 447.25,466.4 447.50,462.9 447.75,460.2 448.00,464.4 448.25,460.5 448.50,463.8 448.75,465.4 449.00,462.1 449.25,462.6 449.50,468.8 449.75,463.3 450.00,463.4 450.25,464.6 450.50,462.5 450.75,462.5 451.00,463.6 451.25,456.8 451.50,466.1 451.75,460.0 452.00,460.0 452.25,463.9 452.50,462.6 452.75,459.5 453.00,463.0 453.25,459.7 453.50,460.8 453.75,458.8 454.00,460.4 454.25,463.4 454.50,462.7 454.75,463.1 455.00,464.6 455.25,462.2 455.50,460.7 455.75,461.6 456.00,466.2 456.25,462.3 456.50,463.0 456.75,461.9 457.00,462.8 457.25,463.2 457.50,462.1 457.75,461.7 458.00,460.2 458.25,460.0 458.50,463.0 458.75,463.8 459.00,464.2 459.25,462.1 459.50,459.9 459.75,463.4 460.00,463.4 460.25,458.2 460.50,463.8 460.75,463.2 461.00,465.8 461.25,459.0 461.50,458.6 461.75,463.6 462.00,457.3 462.25,459.9 462.50,459.0 462.75,459.2 463.00,457.0 463.25,461.0 463.50,463.9 463.75,462.6 464.00,462.6 464.25,460.6 464.50,464.9 464.75,462.7 465.00,463.9 465.25,457.6 465.50,462.2 465.75,458.5 466.00,462.1 466.25,461.7 466.50,458.5 466.75,461.6 467.00,464.0 467.25,462.4 467.50,462.5 467.75,459.0 468.00,459.4 468.25,458.3 468.50,461.3 468.75,463.8 469.00,462.0 469.25,460.9 469.50,458.2 469.75,461.9 470.00,460.2 470.25,456.2 470.50,456.6 470.75,459.9 471.00,458.5 471.25,464.6 471.50,460.7 471.75,458.1 472.00,459.4 472.25,464.3 472.50,458.2 472.75,462.3 473.00,461.5 473.25,463.9 473.50,461.6 473.75,459.3 474.00,461.5 474.25,460.4 474.50,462.5 474.75,460.0 475.00,464.9 475.25,459.8 475.50,461.1 475.75,458.4 476.00,460.2 476.25,460.0 476.50,460.3 476.75,462.0 477.00,458.5 477.25,457.7 477.50,462.3 477.75,458.9 478.00,458.0 478.25,462.3 478.50,461.4 478.75,453.1 479.00,458.5 479.25,461.2 479.50,461.3 479.75,458.0 480.00,463.0 480.25,457.2 480.50,458.5 480.75,459.3 481.00,459.0 481.25,460.9 481.50,461.3 481.75,458.7 482.00,462.1 482.25,457.1 482.50,458.1 482.75,462.7 483.00,458.8 483.25,461.0 483.50,457.4 483.75,457.7 484.00,458.0 484.25,458.6 484.50,457.3 484.75,458.1 485.00,459.6 485.25,460.8 485.50,458.1 485.75,459.3 486.00,459.9 486.25,455.1 486.50,453.8 486.75,461.3 487.00,460.5 487.25,457.4 487.50,458.1 487.75,454.9 488.00,453.8 488.25,457.7 488.50,453.3 488.75,459.0 489.00,455.1 489.25,457.3 489.50,461.1 489.75,460.9 490.00,455.7 490.25,458.7 490.50,453.7 490.75,454.6 491.00,456.8 491.25,459.1 491.50,454.3 491.75,456.8 492.00,455.7 492.25,452.4 492.50,454.9 492.75,458.7 493.00,454.8 493.25,456.1 493.50,456.7 493.75,452.9 494.00,457.4 494.25,457.9 494.50,458.0 494.75,457.2 495.00,452.9 495.25,452.5 495.50,451.9 495.75,451.5 496.00,451.6 496.25,455.7 496.50,456.6 496.75,451.5 497.00,454.8 497.25,449.8 497.50,451.9 497.75,450.2 498.00,448.6 498.25,452.4 498.50,452.3 498.75,451.0 499.00,450.6 499.25,449.4 499.50,451.2 499.75,450.0 500.00,451.9 500.25,448.4 500.50,451.6 500.75,452.2 501.00,453.8 501.25,453.3 501.50,451.2 501.75,449.1 502.00,446.3 502.25,450.5 502.50,453.7 502.75,454.2 503.00,444.4 503.25,448.5 503.50,449.4 503.75,447.8 504.00,450.6 504.25,450.2 504.50,448.9 504.75,450.0 505.00,446.3 505.25,447.8 505.50,447.9 505.75,452.1 506.00,446.3 506.25,449.5 506.50,451.9 506.75,450.0 507.00,452.0 507.25,448.6 507.50,451.2 507.75,452.3 508.00,455.4 508.25,452.0 508.50,453.7 508.75,450.5 509.00,450.7 509.25,454.2 509.50,452.0 509.75,454.0 510.00,452.4 510.25,455.8 510.50,456.5 510.75,449.1 511.00,455.4 511.25,452.2 511.50,452.3 511.75,451.0 512.00,453.1 512.25,448.9 512.50,449.9 512.75,449.8 513.00,452.4 513.25,453.9 513.50,453.6 513.75,452.8 514.00,450.6 514.25,447.9 514.50,453.0 514.75,452.5 515.00,453.1 515.25,455.6 515.50,451.9 515.75,451.9 516.00,447.0 516.25,453.8 516.50,452.4 516.75,450.8 517.00,453.5 517.25,450.2 517.50,451.4 517.75,457.3 518.00,454.5 518.25,454.9 518.50,454.5 518.75,454.3 519.00,453.3 519.25,458.2 519.50,452.8 519.75,454.7 520.00,452.5 520.25,452.2 520.50,447.3 520.75,448.6 521.00,456.8 521.25,456.7 521.50,452.2 521.75,453.2 522.00,454.8 522.25,451.1 522.50,457.6 522.75,451.1 523.00,451.9 523.25,447.2 523.50,457.3 523.75,453.9 524.00,457.7 524.25,451.6 524.50,454.9 524.75,454.3 525.00,454.7 525.25,459.2 525.50,459.8 525.75,457.8 526.00,453.7 526.25,456.9 526.50,458.1 526.75,456.4 527.00,456.5 527.25,456.4 527.50,453.3 527.75,456.1 528.00,459.5 528.25,453.5 528.50,456.1 528.75,458.1 529.00,453.0 529.25,456.0 529.50,452.5 529.75,455.2 530.00,453.4 530.25,454.8 530.50,455.9 530.75,456.5 531.00,456.8 531.25,451.7 531.50,461.4 531.75,457.1 532.00,455.2 532.25,456.5 532.50,458.8 532.75,455.8 533.00,457.3 533.25,457.3 533.50,459.9 533.75,456.9 534.00,459.9 534.25,459.7 534.50,458.6 534.75,462.1 535.00,459.2 535.25,456.4 535.50,460.1 535.75,459.8 536.00,459.4 536.25,460.2 536.50,465.4 536.75,460.3 537.00,461.0 537.25,459.3 537.50,463.2 537.75,459.9 538.00,458.2 538.25,457.2 538.50,461.5 538.75,462.1 539.00,456.5 539.25,458.7 539.50,462.0 539.75,463.0 540.00,457.4 540.25,459.6 540.50,462.7 540.75,459.4 541.00,459.7 541.25,459.5 541.50,457.7 541.75,461.0 542.00,461.6 542.25,457.5 542.50,461.2 542.75,463.7 543.00,461.5 543.25,463.4 543.50,459.8 543.75,464.5 544.00,459.3 544.25,465.8 544.50,460.1 544.75,459.5 545.00,459.1 545.25,460.3 545.50,460.1 545.75,459.7 546.00,460.6 546.25,463.0 546.50,463.6 546.75,460.6 547.00,464.5 547.25,459.1 547.50,459.0 547.75,458.8 548.00,463.0 548.25,457.8 548.50,458.2 548.75,464.7 549.00,465.8 549.25,464.9 549.50,458.1 549.75,461.7 550.00,463.7 550.25,462.0 550.50,457.8 550.75,461.0 551.00,457.7 551.25,458.8 551.50,467.1 551.75,463.5 552.00,458.3 552.25,458.3 552.50,463.0 552.75,460.4 553.00,463.4 553.25,460.4 553.50,461.5 553.75,462.6 554.00,459.5 554.25,457.4 554.50,459.1 554.75,460.4 555.00,461.6 555.25,462.0 555.50,461.9 555.75,463.4 556.00,460.0 556.25,465.5 556.50,467.0 556.75,463.1 557.00,462.7 557.25,465.2 557.50,463.8 557.75,462.7 558.00,461.9 558.25,460.5 558.50,459.4 558.75,463.9 559.00,465.2 559.25,459.8 559.50,462.2 559.75,462.9 560.00,461.3 560.25,460.5 560.50,461.4 560.75,457.6 561.00,462.3 561.25,461.7 561.50,467.6 561.75,464.7 562.00,461.6 562.25,462.5 562.50,466.7 562.75,466.4 563.00,463.0 563.25,462.2 563.50,459.0 563.75,461.8 564.00,462.2 564.25,460.8 564.50,466.8 564.75,458.0 565.00,462.3 565.25,463.6 565.50,463.7 565.75,466.7 566.00,459.3 566.25,460.8 566.50,462.9 566.75,463.0 567.00,461.8 567.25,460.8 567.50,465.3 567.75,460.2 568.00,461.3 568.25,466.2 568.50,467.0 568.75,464.9 569.00,460.7 569.25,460.7 569.50,460.6 569.75,460.0 570.00,461.8 570.25,465.9 570.50,463.3 570.75,461.0 571.00,460.9 571.25,460.0 571.50,465.8 571.75,457.9 572.00,463.5 572.25,459.3 572.50,460.3 572.75,459.2 573.00,465.2 573.25,462.7 573.50,469.5 573.75,460.3 574.00,460.2 574.25,464.3 574.50,464.2 574.75,462.2 575.00,458.0 575.25,466.4 575.50,464.3 575.75,463.8 576.00,461.4 576.25,464.4 576.50,461.5 576.75,463.0 577.00,462.4 577.25,465.9 577.50,461.7 577.75,462.0 578.00,465.6 578.25,463.4 578.50,462.8 578.75,462.3 579.00,465.2 579.25,461.3 579.50,464.0 579.75,467.8 580.00,463.8 580.25,461.0 580.50,459.9 580.75,463.2 581.00,459.9 581.25,459.0 581.50,461.0 581.75,460.2 582.00,464.9 582.25,459.3 582.50,466.6 582.75,461.0 583.00,463.1 583.25,464.4 583.50,463.3 583.75,464.5 584.00,460.4 584.25,457.3 584.50,462.3 584.75,458.7 585.00,461.3 585.25,465.0 585.50,462.2 585.75,461.3 586.00,459.9 586.25,462.0 586.50,462.2 586.75,458.8 587.00,463.3 587.25,460.0 587.50,463.1 587.75,461.5 588.00,465.0 588.25,464.6 588.50,462.6 588.75,462.3 589.00,463.6 589.25,465.8 589.50,465.1 589.75,462.9 590.00,463.2 590.25,466.3 590.50,458.5 590.75,463.7 591.00,460.2 591.25,465.7 591.50,461.2 591.75,462.1 592.00,459.7 592.25,462.4 592.50,464.2 592.75,466.3 593.00,459.2 593.25,461.2 593.50,471.6 593.75,464.5 594.00,462.1 594.25,463.4 594.50,455.7 594.75,466.0 595.00,462.4 595.25,458.6 595.50,464.8 595.75,460.4 596.00,459.4 596.25,463.1 596.50,462.8 596.75,460.7 597.00,461.5 597.25,458.4 597.50,458.1 597.75,463.7 598.00,464.7 598.25,462.5 598.50,462.3 598.75,460.4 599.00,460.9 599.25,459.0 599.50,465.3 599.75,459.7 600.00,462.0 600.25,460.9 600.50,457.5 600.75,465.3 601.00,459.7 601.25,458.7 601.50,460.7 601.75,458.2 602.00,460.3 602.25,457.8 602.50,461.3 602.75,460.0 603.00,456.5 603.25,462.1 603.50,459.9 603.75,456.7 604.00,460.1 604.25,460.1 604.50,463.3 604.75,456.7 605.00,460.7 605.25,458.2 605.50,459.8 605.75,457.5 606.00,457.8 606.25,459.0 606.50,454.8 606.75,452.5 607.00,457.2 607.25,456.0 607.50,457.0 607.75,458.1 608.00,455.9 608.25,458.9 608.50,455.8 608.75,455.9 609.00,457.4 609.25,456.5 609.50,454.7 609.75,454.9 610.00,452.6 610.25,452.6 610.50,454.0 610.75,455.3 611.00,452.1 611.25,454.7 611.50,456.8 611.75,456.9 612.00,451.7 612.25,453.6 612.50,452.2 612.75,452.2 613.00,451.9 613.25,450.7 613.50,450.9 613.75,449.0 614.00,447.5 614.25,448.2 614.50,448.2 614.75,449.3 615.00,446.8 615.25,447.0 615.50,448.0 615.75,442.1 616.00,443.0 616.25,444.1 616.50,442.3 616.75,439.4 617.00,443.1 617.25,440.1 617.50,437.4 617.75,442.9 618.00,435.3 618.25,437.3 618.50,435.2 618.75,436.1 619.00,436.4 619.25,432.7 619.50,433.5 619.75,432.7 620.00,430.2 620.25,434.1 620.50,431.4 620.75,429.8 621.00,428.4 621.25,428.5 621.50,429.0 621.75,427.3 622.00,430.4 622.25,422.2 622.50,422.7 622.75,426.3 623.00,422.8 623.25,426.3 623.50,425.1 623.75,427.6 624.00,427.3 624.25,429.2 624.50,428.6 624.75,429.5 625.00,428.4 625.25,429.8 625.50,429.1 625.75,427.3 626.00,426.4 626.25,427.0 626.50,431.1 626.75,425.7 627.00,431.7 627.25,430.4 627.50,434.2 627.75,433.8 628.00,432.5 628.25,434.9 628.50,430.7 628.75,436.9 629.00,438.0 629.25,433.8 629.50,440.3 629.75,438.9 630.00,440.2 630.25,437.5 630.50,442.6 630.75,443.2 631.00,442.5 631.25,441.0 631.50,445.5 631.75,447.2 632.00,445.9 632.25,447.9 632.50,444.9 632.75,447.1 633.00,448.1 633.25,448.1 633.50,454.7 633.75,449.7 634.00,448.0 634.25,451.6 634.50,447.7 634.75,451.4 635.00,452.8 635.25,450.3 635.50,451.1 635.75,450.0 636.00,452.8 636.25,451.3 636.50,457.2 636.75,455.0 637.00,453.3 637.25,450.9 637.50,459.2 637.75,457.8 638.00,456.1 638.25,455.8 638.50,456.0 638.75,454.7 639.00,460.4 639.25,456.7 639.50,453.1 639.75,455.2 640.00,450.9 640.25,458.7 640.50,459.1 640.75,461.7 641.00,462.6 641.25,456.0 641.50,459.1 641.75,460.6 642.00,460.2 642.25,457.3 642.50,460.6 642.75,460.0 643.00,462.2 643.25,459.0 643.50,458.7 643.75,458.1 644.00,458.6 644.25,457.8 644.50,458.9 644.75,461.0 645.00,461.0 645.25,463.2 645.50,462.8 645.75,461.7 646.00,457.6 646.25,461.8 646.50,463.3 646.75,457.5 647.00,458.0 647.25,458.5 647.50,458.4 647.75,460.2 648.00,458.8 648.25,462.0 648.50,458.2 648.75,460.9 649.00,460.1 649.25,459.0 649.50,463.9 649.75,461.6 650.00,462.9 650.25,460.8 650.50,463.4 650.75,463.2 651.00,461.4 651.25,457.6 651.50,463.9 651.75,463.6 652.00,462.5 652.25,462.7 652.50,462.4 652.75,462.6 653.00,459.8 653.25,462.1 653.50,463.1 653.75,460.9 654.00,460.1 654.25,466.9 654.50,463.9 654.75,461.8 655.00,461.4 655.25,456.2 655.50,459.2 655.75,462.1 656.00,465.8 656.25,457.8 656.50,461.1 656.75,467.4 657.00,464.5 657.25,463.9 657.50,465.8 657.75,462.7 658.00,462.5 658.25,464.7 658.50,465.1 658.75,460.5 659.00,466.8 659.25,458.9 659.50,461.5 659.75,470.6 660.00,462.0 660.25,464.8 660.50,460.8 660.75,462.5 661.00,461.6 661.25,462.4 661.50,464.9 661.75,467.6 662.00,465.5 662.25,467.2 662.50,462.2 662.75,467.0 663.00,464.8 663.25,466.8 663.50,462.5 663.75,463.0 664.00,466.9 664.25,465.0 664.50,463.8 664.75,461.9 665.00,463.4 665.25,464.8 665.50,465.4 665.75,462.3 666.00,462.8 666.25,464.7 666.50,461.0 666.75,465.9 667.00,463.7 667.25,463.3 667.50,457.8 667.75,459.8 668.00,461.2 668.25,462.3 668.50,461.0 668.75,464.6 669.00,464.0 669.25,463.1 669.50,458.8 669.75,467.1 670.00,463.1 670.25,465.2 670.50,462.1 670.75,463.8 671.00,465.5 671.25,464.3 671.50,466.1 671.75,463.4 672.00,468.6 672.25,459.2 672.50,462.5 672.75,466.2 673.00,463.2 673.25,462.8 673.50,459.5 673.75,466.8 674.00,459.2 674.25,465.1 674.50,464.3 674.75,466.0 675.00,467.4 675.25,462.2 675.50,461.9 675.75,463.1 676.00,459.7 676.25,465.9 676.50,462.9 676.75,464.3 677.00,461.1 677.25,463.9 677.50,462.4 677.75,463.7 678.00,461.2 678.25,466.4 678.50,462.3 678.75,457.7 679.00,465.5 679.25,463.2 679.50,461.8 679.75,470.0 680.00,463.8 680.25,460.6 680.50,462.4 680.75,464.8 681.00,463.4 681.25,466.9 681.50,466.5 681.75,462.0 682.00,464.0 682.25,465.5 682.50,462.9 682.75,462.8 683.00,466.1 683.25,465.0 683.50,460.5 683.75,462.6 684.00,462.9 684.25,463.6 684.50,462.2 684.75,467.2 685.00,461.6 685.25,461.3 685.50,464.4 685.75,458.4 686.00,461.4 686.25,465.4 686.50,460.7 686.75,461.8 687.00,466.5 687.25,465.0 687.50,464.0 687.75,464.5 688.00,462.2 688.25,464.6 688.50,463.4 688.75,470.0 689.00,465.2 689.25,463.0 689.50,463.7 689.75,464.0 690.00,460.5 690.25,461.8 690.50,467.5 690.75,460.4 691.00,462.4 691.25,466.2 691.50,467.4 691.75,461.2 692.00,467.3 692.25,462.8 692.50,467.7 692.75,464.8 693.00,462.9 693.25,465.3 693.50,464.9 693.75,461.6 694.00,468.7 694.25,462.6 694.50,466.2 694.75,462.2 695.00,458.9 695.25,460.6 695.50,463.0 695.75,464.8 696.00,467.4 696.25,463.3 696.50,462.3 696.75,460.0 697.00,462.8 697.25,463.6 697.50,457.4 697.75,465.9 698.00,465.4 698.25,468.1 698.50,460.3 698.75,462.5 699.00,462.3 699.25,459.0 699.50,460.1 699.75,459.7 700.00,463.2 700.25,462.9 700.50,465.0 700.75,460.7 701.00,458.1 701.25,462.5 701.50,462.2 701.75,462.8 702.00,464.0 702.25,459.5 702.50,462.7 702.75,458.2 703.00,460.9 703.25,462.0 703.50,460.0 703.75,460.6 704.00,456.6 704.25,458.2 704.50,460.0 704.75,456.6 705.00,457.3 705.25,465.0 705.50,459.6 705.75,456.9 706.00,456.2 706.25,461.8 706.50,451.7 706.75,457.3 707.00,459.4 707.25,456.4 707.50,458.8 707.75,454.9 708.00,457.1 708.25,457.1 708.50,456.8 708.75,457.0 709.00,456.6 709.25,458.9 709.50,455.5 709.75,454.6 710.00,455.2 710.25,454.9 710.50,451.9 710.75,450.9 711.00,452.0 711.25,455.7 711.50,453.3 711.75,453.8 712.00,461.3 712.25,457.1 712.50,453.9 712.75,452.8 713.00,457.4 713.25,452.2 713.50,456.9 713.75,455.3 714.00,457.0 714.25,452.0 714.50,455.8 714.75,449.4 715.00,453.1 715.25,456.0 715.50,455.1 715.75,449.2 716.00,455.0 716.25,454.4 716.50,453.2 716.75,451.7 717.00,452.7 717.25,452.1 717.50,455.6 717.75,454.5 718.00,456.0 718.25,455.2 718.50,450.6 718.75,454.0 719.00,458.7 719.25,451.3 719.50,454.6 719.75,452.2 720.00,452.0 720.25,454.7 720.50,456.5 720.75,456.2 721.00,455.7 721.25,456.9 721.50,451.0 721.75,456.9 722.00,456.1 722.25,454.8 722.50,455.4 722.75,453.5 723.00,458.4 723.25,454.1 723.50,452.5 723.75,456.2 724.00,455.0 724.25,456.3 724.50,460.2 724.75,456.5 725.00,457.3 725.25,462.5 725.50,454.0 725.75,458.4 726.00,460.4 726.25,461.4 726.50,463.3 726.75,456.6 727.00,459.8 727.25,458.3 727.50,457.6 727.75,457.1 728.00,455.5 728.25,459.9 728.50,461.1 728.75,456.9 729.00,461.4 729.25,458.4 729.50,457.4 729.75,453.7 730.00,462.8 730.25,462.0 730.50,459.6 730.75,459.6 731.00,457.5 731.25,462.0 731.50,460.7 731.75,462.3 732.00,461.5 732.25,457.8 732.50,457.5 732.75,462.4 733.00,457.4 733.25,462.3 733.50,463.9 733.75,458.7 734.00,463.6 734.25,462.1 734.50,463.4 734.75,460.6 735.00,462.2 735.25,463.4 735.50,466.9 735.75,464.3 736.00,463.8 736.25,459.5 736.50,463.5 736.75,461.1 737.00,462.7 737.25,463.5 737.50,465.3 737.75,464.5 738.00,463.5 738.25,463.0 738.50,466.5 738.75,461.0 739.00,463.3 739.25,466.6 739.50,462.8 739.75,465.4 740.00,465.5 740.25,468.2 740.50,466.2 740.75,459.4 741.00,463.5 741.25,464.2 741.50,465.5 741.75,464.5 742.00,468.2 742.25,466.2 742.50,460.6 742.75,462.0 743.00,458.5 743.25,467.8 743.50,463.2 743.75,463.2 744.00,459.6 744.25,462.4 744.50,464.6 744.75,462.5 745.00,462.5 745.25,461.9 745.50,468.3 745.75,462.1 746.00,459.8 746.25,462.1 746.50,462.5 746.75,463.1 747.00,462.7 747.25,460.5 747.50,462.8 747.75,464.2 748.00,459.8 748.25,468.1 748.50,467.4 748.75,458.6 749.00,462.2 749.25,465.5 749.50,466.3 749.75,467.4 750.00,458.3 750.25,460.1 750.50,461.5 750.75,464.1 751.00,460.0 751.25,463.6 751.50,463.6 751.75,464.1 752.00,459.1 752.25,462.6 752.50,462.2 752.75,460.9 753.00,465.0 753.25,460.9 753.50,465.0 753.75,459.8 754.00,465.3 754.25,465.0 754.50,458.7 754.75,461.4 755.00,461.1 755.25,457.7 755.50,461.8 755.75,461.1 756.00,457.3 756.25,459.5 756.50,461.1 756.75,458.3 757.00,456.8 757.25,462.2 757.50,455.6 757.75,458.6 758.00,460.2 758.25,459.2 758.50,452.6 758.75,456.0 759.00,456.3 759.25,455.9 759.50,457.7 759.75,457.3 760.00,456.2 760.25,456.3 760.50,458.0 760.75,458.4 761.00,450.8 761.25,460.4 761.50,453.8 761.75,456.9 762.00,451.1 762.25,453.7 762.50,451.9 762.75,457.4 763.00,457.0 763.25,454.9 763.50,454.5 763.75,455.8 764.00,452.7 764.25,453.5 764.50,453.2 764.75,457.0 765.00,455.2 765.25,452.1 765.50,456.1 765.75,456.5 766.00,458.6 766.25,454.0 766.50,456.4 766.75,460.4 767.00,454.7 767.25,454.6 767.50,456.6 767.75,454.2 768.00,455.3 768.25,454.0 768.50,453.3 768.75,457.1 769.00,454.0 769.25,452.4 769.50,453.9 769.75,454.0 770.00,454.8 770.25,456.1 770.50,457.8 770.75,450.4 771.00,452.4 771.25,448.3 771.50,452.8 771.75,453.1 772.00,449.9 772.25,448.8 772.50,448.2 772.75,446.6 773.00,451.0 773.25,453.4 773.50,445.9 773.75,451.7 774.00,447.1 774.25,443.6 774.50,447.5 774.75,447.4 775.00,446.0 775.25,443.9 775.50,447.7 775.75,442.7 776.00,444.1 776.25,443.6 776.50,439.5 776.75,436.8 777.00,436.6 777.25,439.0 777.50,440.1 777.75,434.8 778.00,436.7 778.25,441.1 778.50,433.3 778.75,437.8 779.00,437.1 779.25,437.7 779.50,432.3 779.75,435.9 780.00,431.8 780.25,437.4 780.50,432.3 780.75,434.7 781.00,431.9 781.25,433.7 781.50,429.9 781.75,433.6 782.00,434.2 782.25,432.7 782.50,436.1 782.75,433.3 783.00,434.2 783.25,433.5 783.50,436.5 783.75,431.0 784.00,431.9 784.25,432.0 784.50,433.9 784.75,433.2 785.00,434.5 785.25,433.5 785.50,431.9 785.75,433.0 786.00,434.2 786.25,428.5 786.50,436.6 786.75,432.5 787.00,433.2 787.25,434.7 787.50,433.8 787.75,431.3 788.00,434.2 788.25,437.9 788.50,437.3 788.75,437.9 789.00,434.2 789.25,435.1 789.50,438.1 789.75,439.2 790.00,436.2 790.25,434.2 790.50,432.3 790.75,439.8 791.00,433.5 791.25,437.9 791.50,439.1 791.75,444.5 792.00,437.8 792.25,437.3 792.50,438.7 792.75,439.0 793.00,441.0 793.25,439.6 793.50,436.5 793.75,433.7 794.00,439.2 794.25,437.1 794.50,441.9 794.75,435.9 795.00,439.5 795.25,437.5 795.50,437.3 795.75,443.2 796.00,440.0 796.25,439.3 796.50,441.6 796.75,438.3 797.00,439.4 797.25,439.0 797.50,445.1 797.75,441.6 798.00,442.4 798.25,443.8 798.50,441.0 798.75,441.3 799.00,438.2 799.25,443.3 799.50,443.0 799.75,441.7 800.00,445.7 800.25,439.1 800.50,444.5 800.75,440.7 801.00,441.5 801.25,444.0 801.50,447.9 801.75,442.4 802.00,443.1 802.25,443.0 802.50,450.9 802.75,447.7 803.00,447.8 803.25,452.1 803.50,448.2 803.75,443.0 804.00,447.2 804.25,445.9 804.50,453.9 804.75,446.1 805.00,450.6 805.25,449.0 805.50,449.6 805.75,451.1 806.00,451.1 806.25,450.1 806.50,449.2 806.75,450.9 807.00,450.3 807.25,451.0 807.50,453.9 807.75,453.6 808.00,455.4 808.25,454.0 808.50,459.6 808.75,453.5 809.00,453.1 809.25,458.4 809.50,454.5 809.75,456.8 810.00,459.2 810.25,456.8 810.50,456.5 810.75,460.0 811.00,458.7 811.25,456.8 811.50,455.4 811.75,457.7 812.00,454.7 812.25,456.9 812.50,456.6 812.75,460.2 813.00,461.6 813.25,458.2 813.50,459.0 813.75,457.5 814.00,456.9 814.25,459.5 814.50,462.1 814.75,462.0 815.00,462.5 815.25,460.4 815.50,454.4 815.75,463.7 816.00,464.8 816.25,463.9 816.50,464.0 816.75,464.6 817.00,468.7 817.25,462.8 817.50,466.0 817.75,464.2 818.00,464.0 818.25,462.0 818.50,461.5 818.75,459.6 819.00,464.0 819.25,461.8 819.50,459.5 819.75,460.7 820.00,459.7 820.25,466.8 820.50,462.1 820.75,463.1 821.00,459.7 821.25,460.2 821.50,465.5 821.75,462.3 822.00,463.5 822.25,467.6 822.50,468.3 822.75,464.7 823.00,464.2 823.25,463.6 823.50,462.3 823.75,468.2 824.00,460.0 824.25,462.8 824.50,458.2 824.75,459.9 825.00,464.1 825.25,464.3 825.50,464.0 825.75,462.3 826.00,461.3 826.25,461.7 826.50,462.1 826.75,465.9 827.00,466.8 827.25,464.3 827.50,461.8 827.75,460.7 828.00,463.9 828.25,462.5 828.50,458.5 828.75,466.6 829.00,463.1 829.25,462.3 829.50,460.9 829.75,460.9 830.00,465.4 830.25,460.7 830.50,463.4 830.75,464.7 831.00,467.8 831.25,464.7 831.50,463.0 831.75,462.0 832.00,465.3 832.25,465.7 832.50,462.0 832.75,464.6 833.00,462.7 833.25,459.0 833.50,460.5 833.75,465.1 834.00,466.8 834.25,464.8 834.50,462.6 834.75,461.3 835.00,464.4 835.25,463.9 835.50,459.0 835.75,464.7 836.00,461.3 836.25,464.8 836.50,464.4 836.75,464.9 837.00,465.8 837.25,464.8 837.50,460.4 837.75,460.4 838.00,465.7 838.25,464.2 838.50,459.0 838.75,457.9 839.00,465.3 839.25,468.7 839.50,465.1 839.75,462.4 840.00,463.7 840.25,456.1 840.50,460.5 840.75,465.6 841.00,465.2 841.25,457.6 841.50,466.0 841.75,464.4 842.00,465.4 842.25,462.5 842.50,463.0 842.75,460.2 843.00,463.8 843.25,465.3 843.50,460.6 843.75,463.9 844.00,461.6 844.25,465.6 844.50,465.5 844.75,457.0 845.00,464.1 845.25,465.5 845.50,461.5 845.75,462.4 846.00,462.6 846.25,460.0 846.50,462.6 846.75,466.9 847.00,464.1 847.25,466.8 847.50,465.5 847.75,466.0 848.00,463.2 848.25,464.9 848.50,468.0 848.75,466.7 849.00,463.7 849.25,461.1 849.50,460.6 849.75,463.5 850.00,464.0 850.25,458.2 850.50,463.5 850.75,463.8 851.00,463.7 851.25,461.5 851.50,468.8 851.75,465.1 852.00,459.4 852.25,461.1 852.50,465.0 852.75,464.2 853.00,463.3 853.25,462.9 853.50,462.4 853.75,461.8 854.00,460.3 854.25,464.4 854.50,455.9 854.75,461.1 855.00,466.1 855.25,460.9 855.50,459.9 855.75,467.7 856.00,465.6 856.25,462.5 856.50,461.4 856.75,462.3 857.00,462.0 857.25,462.3 857.50,461.0 857.75,464.3 858.00,461.5 858.25,458.3 858.50,459.6 858.75,462.9 859.00,460.3 859.25,456.6 859.50,466.7 859.75,464.2 860.00,461.7 860.25,461.6 860.50,464.2 860.75,466.4 861.00,461.3 861.25,463.9 861.50,461.3 861.75,463.7 862.00,460.0 862.25,458.3 862.50,463.1 862.75,462.7 863.00,464.7 863.25,461.2 863.50,466.4 863.75,463.2 864.00,466.8 864.25,462.1 864.50,466.8 864.75,462.8 865.00,463.3 865.25,465.4 865.50,458.5 865.75,460.2 866.00,467.6 866.25,459.1 866.50,461.7 866.75,464.3 867.00,466.7 867.25,461.7 867.50,463.3 867.75,460.1 868.00,462.0 868.25,465.6 868.50,463.8 868.75,462.9 869.00,464.1 869.25,463.4 869.50,463.5 869.75,462.1 870.00,460.6 870.25,464.8 870.50,460.1 870.75,465.6 871.00,468.5 871.25,466.9 871.50,469.0 871.75,460.5 872.00,463.7 872.25,461.0 872.50,461.2 872.75,458.8 873.00,460.1 873.25,465.3 873.50,464.9 873.75,466.2 874.00,466.0 874.25,465.2 874.50,461.1 874.75,462.9 875.00,465.1 875.25,466.4 875.50,462.3 875.75,462.0 876.00,462.1 876.25,467.3 876.50,464.7 876.75,462.5 877.00,461.3 877.25,464.4 877.50,459.0 877.75,462.7 878.00,461.9 878.25,461.8 878.50,463.8 878.75,464.4 879.00,471.0 879.25,463.6 879.50,465.1 879.75,461.3 880.00,459.2 880.25,466.2 880.50,468.3 880.75,460.9 881.00,463.2 881.25,466.2 881.50,463.6 881.75,457.4 882.00,466.0 882.25,463.1 882.50,465.2 882.75,461.0 883.00,465.7 883.25,466.1 883.50,461.6 883.75,464.7 884.00,461.8 884.25,462.2 884.50,461.2 884.75,462.4 885.00,461.8 885.25,466.4 885.50,462.9 885.75,460.6 886.00,466.9 886.25,464.8 886.50,466.0 886.75,463.3 887.00,465.3 887.25,463.3 887.50,461.1 887.75,463.8 888.00,463.9 888.25,463.9 888.50,465.7 888.75,459.2 889.00,464.3 889.25,461.5 889.50,462.9 889.75,464.7 890.00,463.7 890.25,461.9 890.50,465.5 890.75,463.5 891.00,466.0 891.25,466.7 891.50,462.7 891.75,460.9 892.00,463.8 892.25,465.7 892.50,464.5 892.75,460.7 893.00,459.4 893.25,461.3 893.50,461.3 893.75,465.2 894.00,463.8 894.25,465.9 894.50,463.5 894.75,467.9 895.00,463.7 895.25,465.1 895.50,462.7 895.75,464.9 896.00,466.5 896.25,465.7 896.50,467.0 896.75,462.2 897.00,464.9 897.25,468.0 897.50,464.4 897.75,463.4 898.00,463.2 898.25,462.5 898.50,464.2 898.75,467.3 899.00,464.9 899.25,463.7 899.50,461.8 899.75,461.0 900.00,469.8 900.25,462.7 900.50,464.1 900.75,462.6 901.00,464.2 901.25,462.8 901.50,464.1 901.75,467.4 902.00,462.0 902.25,465.1 902.50,463.7 902.75,465.6 903.00,462.1 903.25,464.8 903.50,461.4 903.75,459.3 904.00,460.5 904.25,461.4 904.50,461.0 904.75,463.0 905.00,466.5 905.25,460.9 905.50,464.9 905.75,464.1 906.00,462.0 906.25,461.4 906.50,464.8 906.75,465.0 907.00,462.9 907.25,463.4 907.50,463.7 907.75,460.5 908.00,464.0 908.25,464.5 908.50,468.1 908.75,460.6 909.00,461.6 909.25,464.0 909.50,462.3 909.75,462.8 910.00,463.8 910.25,463.1 910.50,463.7 910.75,464.9 911.00,459.8 911.25,465.2 911.50,458.3 911.75,468.0 912.00,466.1 912.25,462.3 912.50,466.4 912.75,463.5 913.00,464.9 913.25,465.7 913.50,464.7 913.75,463.9 914.00,465.4 914.25,463.4 914.50,463.0 914.75,461.6 915.00,459.5 915.25,467.8 915.50,465.8 915.75,460.5 916.00,464.9 916.25,464.4 916.50,458.5 916.75,461.9 917.00,463.7 917.25,468.2 917.50,466.6 917.75,467.1 918.00,464.7 918.25,466.4 918.50,461.1 918.75,465.5 919.00,465.8 919.25,460.9 919.50,464.6 919.75,467.7 920.00,468.7 920.25,467.5 920.50,462.3 920.75,463.8 921.00,462.8 921.25,467.1 921.50,462.0 921.75,461.5 922.00,460.1 922.25,464.6 922.50,465.1 922.75,462.6 923.00,462.2 923.25,463.6 923.50,467.4 923.75,460.8 924.00,464.0 924.25,464.6 924.50,465.0 924.75,467.2 925.00,466.2 925.25,464.8 925.50,467.7 925.75,467.0 926.00,464.9 926.25,464.7 926.50,461.3 926.75,464.5 927.00,462.3 927.25,461.4 927.50,463.5 927.75,459.9 928.00,462.0 928.25,462.9 928.50,465.0 928.75,463.4 929.00,465.1 929.25,468.1 929.50,466.2 929.75,461.3 930.00,459.8 930.25,461.9 930.50,462.0 930.75,459.3 931.00,459.9 931.25,459.9 931.50,462.6 931.75,467.6 932.00,468.3 932.25,461.6 932.50,463.0 932.75,460.7 933.00,460.1 933.25,463.9 933.50,464.1 933.75,462.5 934.00,465.5 934.25,463.2 934.50,466.7 934.75,462.7 935.00,466.1 935.25,463.5 935.50,464.3 935.75,465.5 936.00,460.7 936.25,462.2 936.50,463.8 936.75,463.3 937.00,464.6 937.25,462.0 937.50,460.7 937.75,463.7 938.00,464.7 938.25,462.0 938.50,467.0 938.75,465.7 939.00,466.1 939.25,465.9 939.50,461.9 939.75,469.3 940.00,462.3 940.25,465.0 940.50,465.9 940.75,465.0 941.00,464.6 941.25,462.2 941.50,463.2 941.75,464.3 942.00,467.5 942.25,462.7 942.50,466.0 942.75,465.4 943.00,464.6 943.25,463.0 943.50,464.0 943.75,460.2 944.00,464.7 944.25,465.2 944.50,463.2 944.75,465.8 945.00,465.3 945.25,462.7 945.50,466.6 945.75,463.2 946.00,470.4 946.25,462.0 946.50,462.6 946.75,463.0 947.00,465.1 947.25,467.4 947.50,464.8 947.75,463.6 948.00,469.2 948.25,467.1 948.50,463.9 948.75,464.3 949.00,460.8 949.25,464.7 949.50,468.8 949.75,461.7 950.00,461.1 950.25,464.9 950.50,458.7 950.75,468.0 951.00,460.9 951.25,462.8 951.50,464.2 951.75,467.5 952.00,465.5 952.25,459.9 952.50,460.4 952.75,465.0 953.00,459.4 953.25,463.8 953.50,462.5 953.75,466.4 954.00,467.4 954.25,458.3 954.50,465.5 954.75,466.0 955.00,462.6 955.25,463.0 955.50,461.5 955.75,463.6 956.00,465.4 956.25,467.7 956.50,467.9 956.75,463.7 957.00,462.4 957.25,466.9 957.50,457.7 957.75,461.0 958.00,466.0 958.25,469.9 958.50,462.5 958.75,464.7 959.00,461.7 959.25,464.3 959.50,464.3 959.75,462.6 960.00,465.4 960.25,464.0 960.50,465.7 960.75,464.0 961.00,461.5 961.25,464.8 961.50,466.6 961.75,462.6 962.00,467.8 962.25,465.6 962.50,463.6 962.75,464.6 963.00,463.5 963.25,462.3 963.50,466.8 963.75,466.8 964.00,463.5 964.25,464.1 964.50,464.1 964.75,466.3 965.00,468.2 965.25,463.0 965.50,465.4 965.75,464.6 966.00,466.0 966.25,468.2 966.50,462.5 966.75,459.6 967.00,464.2 967.25,460.7 967.50,468.8 967.75,463.0 968.00,464.0 968.25,465.3 968.50,465.2 968.75,463.7 969.00,464.7 969.25,467.0 969.50,464.0 969.75,469.3 970.00,465.6 970.25,459.0 970.50,466.9 970.75,460.4 971.00,465.6 971.25,470.3 971.50,467.4 971.75,462.0 972.00,462.8 972.25,464.8 972.50,468.3 972.75,463.0 973.00,467.5 973.25,465.6 973.50,464.6 973.75,464.4 974.00,468.9" fill="none" stroke="#87b84e" stroke-width="4.0" stroke-linejoin="round"/><polyline points="102.00,604.2 102.25,604.7 102.50,606.5 102.75,605.5 103.00,603.2 103.25,604.8 103.50,604.2 103.75,605.0 104.00,603.3 104.25,605.1 104.50,605.1 104.75,606.5 105.00,605.2 105.25,605.4 105.50,603.4 105.75,607.1 106.00,603.0 106.25,606.0 106.50,604.6 106.75,604.0 107.00,604.3 107.25,604.3 107.50,605.3 107.75,604.8 108.00,606.4 108.25,603.1 108.50,604.9 108.75,604.1 109.00,605.7 109.25,602.9 109.50,604.6 109.75,605.2 110.00,603.5 110.25,606.0 110.50,605.2 110.75,606.0 111.00,606.0 111.25,604.0 111.50,604.2 111.75,604.8 112.00,605.8 112.25,605.9 112.50,604.3 112.75,604.4 113.00,604.2 113.25,604.5 113.50,604.8 113.75,604.9 114.00,607.1 114.25,604.6 114.50,604.8 114.75,605.5 115.00,604.1 115.25,604.7 115.50,605.1 115.75,605.9 116.00,603.8 116.25,606.5 116.50,604.8 116.75,605.3 117.00,606.0 117.25,605.8 117.50,606.2 117.75,605.3 118.00,605.1 118.25,605.5 118.50,604.2 118.75,606.4 119.00,604.4 119.25,603.9 119.50,607.2 119.75,605.0 120.00,604.0 120.25,607.0 120.50,604.9 120.75,606.3 121.00,604.4 121.25,605.0 121.50,603.5 121.75,603.3 122.00,604.2 122.25,605.2 122.50,606.0 122.75,607.7 123.00,604.2 123.25,606.3 123.50,604.6 123.75,605.1 124.00,603.8 124.25,603.8 124.50,604.5 124.75,604.1 125.00,605.3 125.25,604.6 125.50,606.5 125.75,605.5 126.00,605.5 126.25,606.4 126.50,605.8 126.75,605.3 127.00,605.2 127.25,605.2 127.50,606.4 127.75,606.1 128.00,605.7 128.25,606.1 128.50,604.8 128.75,605.9 129.00,604.0 129.25,606.7 129.50,605.5 129.75,605.6 130.00,606.0 130.25,605.4 130.50,605.1 130.75,606.6 131.00,605.5 131.25,604.5 131.50,605.9 131.75,603.7 132.00,607.1 132.25,605.3 132.50,605.5 132.75,607.7 133.00,607.6 133.25,605.6 133.50,606.1 133.75,606.5 134.00,607.1 134.25,605.3 134.50,605.6 134.75,606.7 135.00,605.8 135.25,606.2 135.50,606.1 135.75,604.4 136.00,604.6 136.25,602.9 136.50,605.3 136.75,606.9 137.00,604.4 137.25,606.8 137.50,606.5 137.75,605.5 138.00,605.5 138.25,605.6 138.50,604.7 138.75,605.3 139.00,605.5 139.25,606.2 139.50,606.4 139.75,604.8 140.00,606.4 140.25,604.8 140.50,605.4 140.75,606.0 141.00,605.6 141.25,605.5 141.50,605.9 141.75,605.1 142.00,605.0 142.25,605.4 142.50,606.6 142.75,605.5 143.00,607.5 143.25,605.9 143.50,602.7 143.75,605.2 144.00,607.3 144.25,605.7 144.50,605.2 144.75,604.8 145.00,607.0 145.25,606.7 145.50,606.4 145.75,606.1 146.00,607.1 146.25,606.5 146.50,604.5 146.75,606.5 147.00,605.9 147.25,605.6 147.50,606.5 147.75,605.8 148.00,602.8 148.25,607.3 148.50,606.8 148.75,605.6 149.00,605.4 149.25,606.0 149.50,604.5 149.75,606.1 150.00,605.5 150.25,605.4 150.50,604.9 150.75,605.1 151.00,606.9 151.25,607.1 151.50,606.3 151.75,605.8 152.00,604.9 152.25,606.5 152.50,607.4 152.75,604.2 153.00,607.0 153.25,603.7 153.50,605.5 153.75,606.2 154.00,604.5 154.25,604.3 154.50,606.0 154.75,606.7 155.00,605.4 155.25,607.2 155.50,605.1 155.75,607.6 156.00,606.0 156.25,606.1 156.50,606.5 156.75,606.2 157.00,607.8 157.25,608.1 157.50,606.5 157.75,605.8 158.00,604.8 158.25,605.2 158.50,605.9 158.75,605.8 159.00,605.9 159.25,606.0 159.50,606.4 159.75,604.6 160.00,604.9 160.25,607.1 160.50,606.8 160.75,605.4 161.00,607.3 161.25,605.3 161.50,605.7 161.75,604.2 162.00,606.8 162.25,606.0 162.50,607.1 162.75,606.7 163.00,606.1 163.25,606.2 163.50,607.2 163.75,605.9 164.00,605.9 164.25,606.1 164.50,606.9 164.75,607.0 165.00,608.0 165.25,606.0 165.50,607.4 165.75,605.4 166.00,606.7 166.25,606.2 166.50,607.9 166.75,606.7 167.00,605.7 167.25,606.7 167.50,606.5 167.75,605.8 168.00,605.9 168.25,605.2 168.50,608.9 168.75,606.3 169.00,607.2 169.25,605.0 169.50,605.1 169.75,606.0 170.00,606.1 170.25,607.0 170.50,605.2 170.75,606.8 171.00,607.7 171.25,605.3 171.50,607.1 171.75,605.3 172.00,606.6 172.25,606.6 172.50,608.0 172.75,605.6 173.00,606.4 173.25,607.3 173.50,605.1 173.75,606.3 174.00,605.4 174.25,605.6 174.50,607.0 174.75,607.0 175.00,608.9 175.25,607.7 175.50,607.6 175.75,606.1 176.00,606.0 176.25,606.5 176.50,604.0 176.75,608.0 177.00,605.7 177.25,605.3 177.50,605.9 177.75,607.2 178.00,607.6 178.25,606.0 178.50,606.8 178.75,606.3 179.00,605.4 179.25,606.5 179.50,606.4 179.75,604.8 180.00,607.5 180.25,604.8 180.50,606.6 180.75,605.3 181.00,605.6 181.25,605.7 181.50,607.1 181.75,605.2 182.00,606.2 182.25,608.0 182.50,605.7 182.75,606.4 183.00,607.1 183.25,605.9 183.50,606.9 183.75,605.8 184.00,607.2 184.25,606.5 184.50,605.5 184.75,607.9 185.00,606.4 185.25,606.2 185.50,605.6 185.75,606.0 186.00,606.4 186.25,606.7 186.50,607.6 186.75,605.2 187.00,606.2 187.25,607.7 187.50,606.7 187.75,607.0 188.00,608.2 188.25,606.9 188.50,607.0 188.75,606.5 189.00,608.4 189.25,607.7 189.50,605.9 189.75,607.2 190.00,605.5 190.25,607.7 190.50,607.3 190.75,606.5 191.00,606.2 191.25,604.9 191.50,607.4 191.75,606.5 192.00,606.4 192.25,607.4 192.50,606.0 192.75,606.1 193.00,606.0 193.25,605.3 193.50,609.1 193.75,606.5 194.00,606.4 194.25,607.6 194.50,603.6 194.75,606.7 195.00,606.8 195.25,605.8 195.50,607.2 195.75,604.7 196.00,606.8 196.25,607.6 196.50,604.5 196.75,605.3 197.00,606.6 197.25,606.7 197.50,606.1 197.75,607.1 198.00,607.0 198.25,605.4 198.50,606.6 198.75,605.4 199.00,604.6 199.25,604.3 199.50,607.7 199.75,606.6 200.00,608.7 200.25,605.3 200.50,606.4 200.75,607.1 201.00,606.6 201.25,607.2 201.50,606.9 201.75,606.1 202.00,604.4 202.25,605.8 202.50,608.5 202.75,607.6 203.00,608.2 203.25,606.2 203.50,606.6 203.75,606.0 204.00,607.2 204.25,606.9 204.50,607.3 204.75,608.6 205.00,606.0 205.25,607.6 205.50,605.5 205.75,608.0 206.00,606.5 206.25,606.8 206.50,607.1 206.75,608.6 207.00,606.9 207.25,606.4 207.50,605.8 207.75,607.2 208.00,606.1 208.25,606.5 208.50,606.9 208.75,607.6 209.00,606.3 209.25,607.7 209.50,608.8 209.75,605.5 210.00,608.4 210.25,609.2 210.50,606.4 210.75,607.6 211.00,605.7 211.25,607.4 211.50,606.7 211.75,607.4 212.00,606.1 212.25,606.2 212.50,606.6 212.75,606.4 213.00,606.5 213.25,606.9 213.50,606.0 213.75,606.9 214.00,607.6 214.25,604.8 214.50,607.3 214.75,606.4 215.00,606.0 215.25,605.8 215.50,606.3 215.75,606.4 216.00,607.5 216.25,605.9 216.50,608.2 216.75,606.3 217.00,607.8 217.25,608.2 217.50,605.9 217.75,608.2 218.00,609.4 218.25,606.8 218.50,607.8 218.75,607.1 219.00,607.3 219.25,607.1 219.50,606.8 219.75,608.0 220.00,608.2 220.25,607.3 220.50,608.8 220.75,608.4 221.00,608.0 221.25,606.6 221.50,609.3 221.75,608.7 222.00,605.2 222.25,606.3 222.50,606.9 222.75,608.3 223.00,608.6 223.25,607.1 223.50,607.7 223.75,608.1 224.00,606.2 224.25,608.0 224.50,607.1 224.75,607.6 225.00,607.4 225.25,606.3 225.50,606.5 225.75,607.5 226.00,607.6 226.25,607.2 226.50,608.5 226.75,607.1 227.00,606.3 227.25,607.2 227.50,607.3 227.75,607.4 228.00,608.7 228.25,608.0 228.50,608.6 228.75,608.2 229.00,607.4 229.25,608.6 229.50,607.3 229.75,607.8 230.00,606.6 230.25,607.7 230.50,607.2 230.75,607.9 231.00,609.4 231.25,609.9 231.50,608.6 231.75,607.6 232.00,608.4 232.25,607.8 232.50,607.0 232.75,607.5 233.00,607.4 233.25,607.0 233.50,609.0 233.75,607.1 234.00,607.1 234.25,608.3 234.50,606.9 234.75,606.5 235.00,606.8 235.25,608.1 235.50,608.0 235.75,607.9 236.00,607.2 236.25,606.7 236.50,608.6 236.75,606.2 237.00,607.4 237.25,606.3 237.50,607.3 237.75,607.5 238.00,608.9 238.25,604.8 238.50,609.0 238.75,606.8 239.00,608.0 239.25,608.5 239.50,606.9 239.75,607.6 240.00,608.2 240.25,607.6 240.50,607.0 240.75,607.9 241.00,607.8 241.25,606.2 241.50,609.1 241.75,607.9 242.00,605.3 242.25,606.9 242.50,609.4 242.75,609.3 243.00,608.0 243.25,606.0 243.50,607.5 243.75,608.8 244.00,608.1 244.25,607.4 244.50,607.0 244.75,608.5 245.00,607.5 245.25,608.0 245.50,608.2 245.75,609.4 246.00,607.9 246.25,608.0 246.50,605.9 246.75,608.8 247.00,608.6 247.25,607.7 247.50,605.5 247.75,607.2 248.00,607.8 248.25,609.8 248.50,608.3 248.75,608.5 249.00,608.5 249.25,609.0 249.50,606.6 249.75,606.8 250.00,606.5 250.25,607.4 250.50,607.3 250.75,607.8 251.00,606.7 251.25,607.8 251.50,606.8 251.75,609.8 252.00,607.1 252.25,610.2 252.50,609.3 252.75,606.4 253.00,608.6 253.25,608.2 253.50,606.1 253.75,608.2 254.00,607.5 254.25,607.9 254.50,606.7 254.75,607.5 255.00,608.0 255.25,607.4 255.50,607.0 255.75,607.4 256.00,606.6 256.25,607.9 256.50,605.0 256.75,609.0 257.00,607.6 257.25,608.0 257.50,608.3 257.75,606.2 258.00,609.7 258.25,606.3 258.50,607.9 258.75,607.7 259.00,608.7 259.25,607.4 259.50,606.0 259.75,607.7 260.00,604.9 260.25,607.1 260.50,606.8 260.75,608.8 261.00,607.0 261.25,606.8 261.50,606.4 261.75,606.3 262.00,606.6 262.25,607.7 262.50,605.8 262.75,606.8 263.00,605.6 263.25,606.8 263.50,607.1 263.75,605.7 264.00,606.3 264.25,607.0 264.50,607.6 264.75,607.7 265.00,606.6 265.25,605.7 265.50,605.1 265.75,607.4 266.00,608.0 266.25,606.9 266.50,608.0 266.75,606.0 267.00,606.0 267.25,607.9 267.50,605.3 267.75,606.9 268.00,606.6 268.25,606.3 268.50,607.8 268.75,605.2 269.00,605.6 269.25,603.8 269.50,604.8 269.75,605.3 270.00,605.3 270.25,605.4 270.50,605.9 270.75,604.8 271.00,603.5 271.25,605.5 271.50,605.6 271.75,604.0 272.00,604.3 272.25,606.7 272.50,605.8 272.75,605.8 273.00,605.3 273.25,604.6 273.50,603.9 273.75,604.8 274.00,603.9 274.25,603.5 274.50,603.8 274.75,603.5 275.00,604.3 275.25,602.3 275.50,605.5 275.75,601.8 276.00,602.2 276.25,603.3 276.50,601.3 276.75,601.3 277.00,601.5 277.25,598.3 277.50,600.3 277.75,599.5 278.00,599.8 278.25,600.1 278.50,599.7 278.75,600.0 279.00,599.4 279.25,598.4 279.50,596.7 279.75,597.0 280.00,594.3 280.25,594.2 280.50,594.6 280.75,593.0 281.00,589.7 281.25,589.1 281.50,589.1 281.75,587.2 282.00,585.8 282.25,581.4 282.50,579.7 282.75,578.4 283.00,575.4 283.25,573.8 283.50,571.3 283.75,569.1 284.00,566.4 284.25,564.9 284.50,563.4 284.75,561.7 285.00,560.0 285.25,562.1 285.50,561.9 285.75,563.4 286.00,564.9 286.25,565.5 286.50,569.6 286.75,571.0 287.00,572.9 287.25,577.4 287.50,578.3 287.75,580.9 288.00,583.4 288.25,585.9 288.50,584.4 288.75,586.8 289.00,589.5 289.25,589.4 289.50,588.1 289.75,592.2 290.00,593.2 290.25,594.5 290.50,594.7 290.75,594.7 291.00,595.9 291.25,596.1 291.50,596.1 291.75,597.3 292.00,597.8 292.25,596.8 292.50,599.0 292.75,599.1 293.00,599.3 293.25,596.2 293.50,599.1 293.75,599.1 294.00,598.4 294.25,600.0 294.50,598.2 294.75,600.9 295.00,600.2 295.25,599.4 295.50,601.3 295.75,600.5 296.00,600.4 296.25,598.9 296.50,600.7 296.75,601.5 297.00,601.3 297.25,599.0 297.50,601.6 297.75,601.8 298.00,601.0 298.25,599.8 298.50,598.7 298.75,599.3 299.00,599.5 299.25,600.3 299.50,600.5 299.75,599.2 300.00,598.3 300.25,599.4 300.50,598.5 300.75,601.0 301.00,598.4 301.25,600.0 301.50,600.3 301.75,598.4 302.00,600.2 302.25,599.0 302.50,598.3 302.75,598.1 303.00,599.0 303.25,599.8 303.50,596.8 303.75,599.1 304.00,598.2 304.25,597.5 304.50,598.0 304.75,597.9 305.00,597.8 305.25,598.4 305.50,596.6 305.75,599.2 306.00,598.0 306.25,596.4 306.50,595.0 306.75,596.6 307.00,596.1 307.25,597.0 307.50,596.7 307.75,597.6 308.00,595.5 308.25,596.1 308.50,594.8 308.75,594.6 309.00,596.1 309.25,594.3 309.50,594.1 309.75,593.6 310.00,593.9 310.25,593.9 310.50,592.9 310.75,591.7 311.00,592.7 311.25,591.3 311.50,591.4 311.75,591.6 312.00,591.3 312.25,588.6 312.50,591.9 312.75,590.7 313.00,591.3 313.25,591.4 313.50,587.8 313.75,587.8 314.00,588.0 314.25,588.2 314.50,586.4 314.75,586.1 315.00,586.9 315.25,584.6 315.50,585.0 315.75,585.3 316.00,583.5 316.25,583.8 316.50,582.4 316.75,580.5 317.00,580.8 317.25,580.5 317.50,579.7 317.75,579.3 318.00,579.0 318.25,578.1 318.50,577.3 318.75,576.0 319.00,575.4 319.25,574.5 319.50,573.5 319.75,574.4 320.00,570.7 320.25,571.7 320.50,569.2 320.75,569.2 321.00,569.5 321.25,567.7 321.50,568.1 321.75,565.2 322.00,564.8 322.25,563.6 322.50,563.1 322.75,561.9 323.00,560.9 323.25,560.3 323.50,560.2 323.75,558.5 324.00,557.6 324.25,556.5 324.50,555.4 324.75,554.1 325.00,553.8 325.25,554.2 325.50,552.3 325.75,554.0 326.00,553.1 326.25,552.7 326.50,553.1 326.75,554.4 327.00,554.6 327.25,555.1 327.50,557.0 327.75,558.3 328.00,556.3 328.25,559.0 328.50,558.6 328.75,559.2 329.00,561.0 329.25,563.3 329.50,563.3 329.75,564.2 330.00,566.8 330.25,567.1 330.50,567.6 330.75,570.1 331.00,569.8 331.25,569.7 331.50,570.1 331.75,571.4 332.00,572.5 332.25,573.8 332.50,574.2 332.75,574.0 333.00,573.3 333.25,575.5 333.50,575.0 333.75,574.2 334.00,574.2 334.25,575.5 334.50,575.6 334.75,575.9 335.00,574.0 335.25,576.5 335.50,573.0 335.75,574.2 336.00,575.0 336.25,574.2 336.50,571.9 336.75,572.6 337.00,572.4 337.25,571.1 337.50,568.7 337.75,569.9 338.00,566.1 338.25,566.2 338.50,563.9 338.75,563.0 339.00,561.5 339.25,560.5 339.50,557.2 339.75,556.4 340.00,555.1 340.25,551.8 340.50,549.7 340.75,547.0 341.00,543.4 341.25,540.7 341.50,537.9 341.75,534.9 342.00,532.5 342.25,528.6 342.50,523.3 342.75,519.3 343.00,514.8 343.25,509.7 343.50,507.8 343.75,502.9 344.00,496.8 344.25,493.6 344.50,490.6 344.75,485.1 345.00,480.9 345.25,476.7 345.50,472.5 345.75,469.0 346.00,466.4 346.25,464.6 346.50,462.7 346.75,462.2 347.00,462.3 347.25,461.9 347.50,463.0 347.75,463.8 348.00,465.4 348.25,470.2 348.50,472.6 348.75,476.5 349.00,479.5 349.25,482.9 349.50,489.2 349.75,491.5 350.00,497.4 350.25,501.8 350.50,506.9 350.75,511.8 351.00,516.2 351.25,518.5 351.50,524.9 351.75,526.8 352.00,532.6 352.25,535.5 352.50,538.5 352.75,542.3 353.00,544.9 353.25,548.9 353.50,552.5 353.75,555.2 354.00,557.1 354.25,560.4 354.50,562.1 354.75,565.6 355.00,566.3 355.25,567.2 355.50,569.2 355.75,570.4 356.00,572.4 356.25,573.9 356.50,576.0 356.75,577.3 357.00,577.9 357.25,579.3 357.50,579.3 357.75,580.4 358.00,579.6 358.25,582.0 358.50,583.0 358.75,586.6 359.00,583.7 359.25,585.7 359.50,585.9 359.75,585.4 360.00,587.6 360.25,587.9 360.50,587.1 360.75,586.8 361.00,589.3 361.25,588.5 361.50,590.9 361.75,590.4 362.00,591.5 362.25,591.1 362.50,593.2 362.75,592.7 363.00,593.8 363.25,592.8 363.50,592.1 363.75,592.0 364.00,593.1 364.25,594.1 364.50,593.5 364.75,596.7 365.00,594.6 365.25,595.3 365.50,595.2 365.75,594.1 366.00,596.5 366.25,596.4 366.50,596.8 366.75,595.2 367.00,596.3 367.25,596.5 367.50,597.8 367.75,595.5 368.00,597.7 368.25,598.4 368.50,597.0 368.75,596.7 369.00,599.0 369.25,598.1 369.50,599.1 369.75,598.9 370.00,599.3 370.25,598.2 370.50,596.5 370.75,599.2 371.00,598.1 371.25,599.5 371.50,598.5 371.75,600.8 372.00,599.0 372.25,600.2 372.50,600.6 372.75,599.5 373.00,600.1 373.25,599.8 373.50,599.0 373.75,601.5 374.00,599.2 374.25,598.7 374.50,599.8 374.75,600.6 375.00,600.6 375.25,600.3 375.50,600.3 375.75,598.7 376.00,601.5 376.25,602.7 376.50,600.3 376.75,599.4 377.00,602.0 377.25,601.1 377.50,597.4 377.75,600.7 378.00,600.1 378.25,600.4 378.50,603.7 378.75,602.7 379.00,601.7 379.25,601.9 379.50,603.6 379.75,601.0 380.00,602.9 380.25,601.6 380.50,603.1 380.75,602.6 381.00,601.7 381.25,603.5 381.50,603.1 381.75,604.5 382.00,602.3 382.25,602.9 382.50,602.1 382.75,604.1 383.00,602.2 383.25,603.0 383.50,604.4 383.75,603.6 384.00,603.5 384.25,603.5 384.50,603.6 384.75,604.0 385.00,603.1 385.25,601.4 385.50,604.8 385.75,602.5 386.00,605.5 386.25,604.0 386.50,606.9 386.75,605.0 387.00,604.2 387.25,604.8 387.50,602.5 387.75,604.1 388.00,603.7 388.25,604.1 388.50,602.0 388.75,601.9 389.00,604.9 389.25,604.3 389.50,603.8 389.75,604.2 390.00,603.7 390.25,603.9 390.50,605.2 390.75,604.3 391.00,605.3 391.25,603.9 391.50,602.8 391.75,604.0 392.00,604.6 392.25,603.6 392.50,604.4 392.75,604.3 393.00,605.8 393.25,605.8 393.50,606.1 393.75,604.2 394.00,605.4 394.25,606.4 394.50,605.3 394.75,605.1 395.00,604.4 395.25,606.1 395.50,605.5 395.75,606.3 396.00,605.2 396.25,607.5 396.50,605.4 396.75,604.2 397.00,605.7 397.25,606.0 397.50,606.9 397.75,605.1 398.00,605.1 398.25,605.4 398.50,605.3 398.75,603.6 399.00,606.5 399.25,607.1 399.50,605.1 399.75,604.9 400.00,605.8 400.25,605.1 400.50,606.8 400.75,605.3 401.00,606.6 401.25,604.8 401.50,604.6 401.75,604.5 402.00,604.7 402.25,606.6 402.50,607.0 402.75,606.3 403.00,606.4 403.25,604.0 403.50,607.4 403.75,605.0 404.00,607.6 404.25,608.8 404.50,606.4 404.75,607.0 405.00,607.0 405.25,605.0 405.50,605.2 405.75,605.7 406.00,606.6 406.25,607.3 406.50,606.6 406.75,607.6 407.00,606.0 407.25,605.1 407.50,606.6 407.75,606.5 408.00,605.1 408.25,607.6 408.50,605.6 408.75,605.9 409.00,606.9 409.25,605.6 409.50,607.3 409.75,607.1 410.00,607.2 410.25,606.7 410.50,606.2 410.75,606.0 411.00,607.1 411.25,608.2 411.50,607.6 411.75,607.2 412.00,607.8 412.25,608.2 412.50,605.6 412.75,606.8 413.00,608.1 413.25,606.2 413.50,606.4 413.75,607.6 414.00,606.7 414.25,608.2 414.50,606.6 414.75,607.6 415.00,609.5 415.25,608.2 415.50,605.6 415.75,606.0 416.00,606.0 416.25,607.0 416.50,605.6 416.75,607.6 417.00,608.8 417.25,608.7 417.50,606.3 417.75,606.8 418.00,606.8 418.25,606.3 418.50,608.8 418.75,606.4 419.00,606.0 419.25,607.5 419.50,607.5 419.75,608.7 420.00,608.7 420.25,607.0 420.50,605.0 420.75,607.8 421.00,608.0 421.25,609.0 421.50,605.6 421.75,606.0 422.00,608.8 422.25,608.8 422.50,608.5 422.75,607.2 423.00,608.5 423.25,606.6 423.50,605.9 423.75,607.1 424.00,607.3 424.25,608.0 424.50,608.3 424.75,605.4 425.00,607.5 425.25,607.7 425.50,605.9 425.75,606.9 426.00,607.3 426.25,607.7 426.50,606.3 426.75,606.6 427.00,606.1 427.25,607.6 427.50,606.9 427.75,606.6 428.00,607.9 428.25,607.0 428.50,606.0 428.75,608.4 429.00,608.2 429.25,607.7 429.50,606.2 429.75,608.3 430.00,606.6 430.25,605.3 430.50,607.1 430.75,609.1 431.00,606.8 431.25,607.8 431.50,608.6 431.75,607.4 432.00,606.9 432.25,607.2 432.50,607.8 432.75,606.7 433.00,607.6 433.25,607.8 433.50,606.8 433.75,608.0 434.00,607.8 434.25,606.9 434.50,607.0 434.75,607.3 435.00,607.1 435.25,607.0 435.50,606.2 435.75,607.3 436.00,608.0 436.25,607.9 436.50,606.4 436.75,607.8 437.00,607.8 437.25,606.3 437.50,607.7 437.75,607.0 438.00,606.8 438.25,607.4 438.50,607.0 438.75,605.0 439.00,607.4 439.25,606.1 439.50,607.1 439.75,607.9 440.00,607.0 440.25,606.7 440.50,607.3 440.75,607.7 441.00,606.3 441.25,606.5 441.50,607.7 441.75,608.8 442.00,607.2 442.25,608.0 442.50,606.4 442.75,607.2 443.00,607.2 443.25,605.9 443.50,607.1 443.75,606.9 444.00,604.6 444.25,607.0 444.50,607.4 444.75,607.3 445.00,607.4 445.25,606.0 445.50,606.4 445.75,606.9 446.00,606.2 446.25,606.6 446.50,608.3 446.75,606.2 447.00,606.7 447.25,608.9 447.50,606.9 447.75,606.0 448.00,607.3 448.25,607.2 448.50,607.2 448.75,605.4 449.00,607.3 449.25,607.4 449.50,609.1 449.75,607.7 450.00,606.6 450.25,607.4 450.50,607.7 450.75,606.9 451.00,607.0 451.25,608.4 451.50,607.5 451.75,607.6 452.00,606.1 452.25,607.5 452.50,605.2 452.75,608.3 453.00,606.6 453.25,607.7 453.50,608.4 453.75,606.0 454.00,608.2 454.25,607.3 454.50,608.2 454.75,606.7 455.00,606.3 455.25,608.3 455.50,607.4 455.75,607.1 456.00,605.9 456.25,608.3 456.50,606.7 456.75,606.8 457.00,606.3 457.25,607.0 457.50,607.6 457.75,606.9 458.00,606.9 458.25,606.4 458.50,608.4 458.75,608.5 459.00,606.6 459.25,606.1 459.50,607.2 459.75,605.3 460.00,607.1 460.25,607.2 460.50,607.0 460.75,608.4 461.00,608.7 461.25,607.3 461.50,606.5 461.75,607.9 462.00,608.0 462.25,605.7 462.50,606.1 462.75,606.6 463.00,605.2 463.25,605.7 463.50,608.4 463.75,605.6 464.00,607.6 464.25,606.0 464.50,607.7 464.75,607.1 465.00,607.6 465.25,605.4 465.50,607.0 465.75,606.2 466.00,607.5 466.25,607.4 466.50,606.9 466.75,606.6 467.00,606.7 467.25,606.9 467.50,606.2 467.75,606.2 468.00,606.0 468.25,605.6 468.50,607.7 468.75,605.3 469.00,607.9 469.25,607.3 469.50,604.9 469.75,604.8 470.00,606.6 470.25,605.5 470.50,606.7 470.75,607.5 471.00,606.9 471.25,606.3 471.50,606.4 471.75,608.0 472.00,606.2 472.25,608.2 472.50,608.5 472.75,606.2 473.00,606.8 473.25,608.2 473.50,605.8 473.75,606.9 474.00,607.5 474.25,605.5 474.50,606.8 474.75,606.6 475.00,605.9 475.25,608.0 475.50,606.3 475.75,608.7 476.00,607.1 476.25,605.7 476.50,606.7 476.75,605.6 477.00,607.2 477.25,607.0 477.50,605.2 477.75,605.9 478.00,606.8 478.25,606.4 478.50,605.4 478.75,607.4 479.00,607.6 479.25,604.8 479.50,607.7 479.75,604.3 480.00,606.1 480.25,605.6 480.50,605.7 480.75,606.4 481.00,605.0 481.25,606.1 481.50,607.8 481.75,606.6 482.00,607.6 482.25,606.9 482.50,604.5 482.75,607.8 483.00,606.9 483.25,606.7 483.50,605.7 483.75,605.5 484.00,605.0 484.25,605.8 484.50,606.1 484.75,605.8 485.00,605.8 485.25,604.0 485.50,605.2 485.75,605.1 486.00,606.1 486.25,605.4 486.50,605.4 486.75,605.9 487.00,605.3 487.25,605.5 487.50,606.8 487.75,605.5 488.00,604.8 488.25,606.2 488.50,606.4 488.75,606.2 489.00,604.3 489.25,606.4 489.50,605.5 489.75,605.6 490.00,605.5 490.25,605.8 490.50,605.8 490.75,606.8 491.00,605.5 491.25,605.2 491.50,605.8 491.75,605.0 492.00,606.2 492.25,605.2 492.50,605.7 492.75,604.4 493.00,605.8 493.25,605.4 493.50,603.9 493.75,604.2 494.00,604.6 494.25,603.2 494.50,603.3 494.75,604.7 495.00,604.6 495.25,605.2 495.50,602.6 495.75,603.3 496.00,601.6 496.25,605.0 496.50,601.9 496.75,602.8 497.00,604.6 497.25,604.0 497.50,601.6 497.75,604.3 498.00,602.3 498.25,600.7 498.50,601.7 498.75,601.7 499.00,601.5 499.25,598.6 499.50,602.0 499.75,598.5 500.00,599.4 500.25,600.7 500.50,599.4 500.75,598.7 501.00,597.8 501.25,598.6 501.50,599.0 501.75,596.9 502.00,597.4 502.25,596.4 502.50,596.0 502.75,594.2 503.00,596.1 503.25,596.5 503.50,595.2 503.75,596.1 504.00,595.1 504.25,595.9 504.50,594.8 504.75,594.3 505.00,594.1 505.25,594.6 505.50,594.9 505.75,593.9 506.00,594.6 506.25,593.7 506.50,593.8 506.75,595.9 507.00,595.8 507.25,596.6 507.50,596.1 507.75,596.5 508.00,598.3 508.25,596.2 508.50,597.5 508.75,599.0 509.00,599.8 509.25,598.8 509.50,598.5 509.75,598.0 510.00,599.1 510.25,599.7 510.50,599.9 510.75,600.7 511.00,601.0 511.25,600.4 511.50,600.2 511.75,601.1 512.00,602.0 512.25,603.4 512.50,600.6 512.75,603.3 513.00,602.3 513.25,603.8 513.50,604.7 513.75,603.6 514.00,602.2 514.25,603.1 514.50,604.0 514.75,603.5 515.00,603.9 515.25,603.3 515.50,604.0 515.75,603.7 516.00,605.2 516.25,604.8 516.50,605.3 516.75,603.1 517.00,604.3 517.25,604.1 517.50,604.5 517.75,604.1 518.00,604.3 518.25,606.6 518.50,604.9 518.75,604.0 519.00,605.0 519.25,607.4 519.50,606.0 519.75,604.5 520.00,605.2 520.25,605.4 520.50,605.5 520.75,603.7 521.00,604.6 521.25,605.4 521.50,603.9 521.75,605.4 522.00,605.7 522.25,606.4 522.50,606.7 522.75,605.5 523.00,605.9 523.25,606.4 523.50,606.7 523.75,605.8 524.00,605.1 524.25,606.4 524.50,606.6 524.75,606.0 525.00,606.4 525.25,607.4 525.50,605.4 525.75,605.2 526.00,604.9 526.25,606.2 526.50,606.8 526.75,605.5 527.00,607.7 527.25,605.4 527.50,606.2 527.75,605.9 528.00,607.3 528.25,605.4 528.50,607.6 528.75,605.9 529.00,604.8 529.25,605.5 529.50,605.9 529.75,607.7 530.00,605.6 530.25,606.1 530.50,608.1 530.75,606.3 531.00,605.5 531.25,605.4 531.50,604.6 531.75,606.5 532.00,607.3 532.25,605.8 532.50,605.2 532.75,606.4 533.00,606.2 533.25,606.0 533.50,606.6 533.75,606.2 534.00,605.8 534.25,607.1 534.50,604.4 534.75,605.1 535.00,605.9 535.25,604.9 535.50,607.7 535.75,604.1 536.00,606.9 536.25,606.8 536.50,606.6 536.75,606.6 537.00,605.7 537.25,605.6 537.50,607.6 537.75,606.1 538.00,604.9 538.25,605.1 538.50,604.8 538.75,606.5 539.00,607.4 539.25,606.0 539.50,606.4 539.75,605.8 540.00,607.2 540.25,607.2 540.50,607.2 540.75,608.1 541.00,605.2 541.25,607.1 541.50,604.9 541.75,607.1 542.00,607.2 542.25,607.1 542.50,607.2 542.75,606.3 543.00,605.8 543.25,607.2 543.50,605.8 543.75,607.1 544.00,605.6 544.25,606.8 544.50,606.7 544.75,605.7 545.00,606.2 545.25,607.4 545.50,606.5 545.75,607.0 546.00,606.0 546.25,606.6 546.50,605.1 546.75,605.8 547.00,607.7 547.25,607.0 547.50,606.5 547.75,606.7 548.00,605.3 548.25,606.9 548.50,605.4 548.75,605.8 549.00,607.2 549.25,605.8 549.50,606.1 549.75,606.5 550.00,606.6 550.25,607.8 550.50,604.9 550.75,606.2 551.00,607.1 551.25,606.1 551.50,606.2 551.75,605.8 552.00,606.3 552.25,607.2 552.50,607.7 552.75,606.9 553.00,607.9 553.25,606.7 553.50,605.0 553.75,607.3 554.00,604.7 554.25,606.5 554.50,606.6 554.75,605.5 555.00,606.4 555.25,606.1 555.50,606.7 555.75,606.3 556.00,607.2 556.25,606.2 556.50,607.2 556.75,606.6 557.00,606.8 557.25,606.7 557.50,606.2 557.75,607.7 558.00,607.2 558.25,604.5 558.50,605.5 558.75,608.2 559.00,606.4 559.25,609.3 559.50,607.1 559.75,607.1 560.00,606.2 560.25,606.4 560.50,606.8 560.75,607.5 561.00,606.8 561.25,606.6 561.50,605.7 561.75,606.2 562.00,606.3 562.25,606.5 562.50,606.0 562.75,605.6 563.00,606.4 563.25,604.3 563.50,605.2 563.75,605.9 564.00,607.0 564.25,606.0 564.50,605.6 564.75,607.3 565.00,606.5 565.25,607.9 565.50,606.4 565.75,605.9 566.00,606.3 566.25,608.3 566.50,608.0 566.75,606.7 567.00,607.6 567.25,605.3 567.50,607.8 567.75,606.9 568.00,606.5 568.25,606.6 568.50,606.8 568.75,606.2 569.00,606.2 569.25,605.4 569.50,608.0 569.75,605.7 570.00,606.4 570.25,607.5 570.50,607.7 570.75,607.9 571.00,606.0 571.25,606.1 571.50,606.5 571.75,604.8 572.00,607.3 572.25,605.0 572.50,606.4 572.75,607.3 573.00,607.3 573.25,606.1 573.50,607.3 573.75,607.5 574.00,604.9 574.25,606.2 574.50,607.1 574.75,606.9 575.00,606.3 575.25,606.4 575.50,608.7 575.75,606.2 576.00,607.5 576.25,605.4 576.50,607.0 576.75,607.5 577.00,606.1 577.25,605.9 577.50,608.3 577.75,606.4 578.00,607.5 578.25,605.2 578.50,608.2 578.75,604.7 579.00,605.7 579.25,606.0 579.50,606.6 579.75,606.8 580.00,608.1 580.25,608.6 580.50,608.4 580.75,607.4 581.00,606.9 581.25,604.7 581.50,606.6 581.75,606.1 582.00,607.3 582.25,605.7 582.50,605.9 582.75,606.0 583.00,607.3 583.25,606.8 583.50,605.7 583.75,605.1 584.00,606.1 584.25,606.1 584.50,606.2 584.75,606.7 585.00,607.3 585.25,607.4 585.50,606.0 585.75,605.9 586.00,608.1 586.25,606.4 586.50,607.3 586.75,606.8 587.00,607.0 587.25,608.2 587.50,606.4 587.75,607.7 588.00,607.2 588.25,606.5 588.50,606.2 588.75,606.2 589.00,607.7 589.25,607.6 589.50,605.8 589.75,607.0 590.00,604.9 590.25,606.7 590.50,608.6 590.75,605.5 591.00,606.9 591.25,606.0 591.50,606.7 591.75,605.6 592.00,606.8 592.25,604.4 592.50,606.3 592.75,606.3 593.00,606.5 593.25,608.4 593.50,605.4 593.75,605.9 594.00,605.2 594.25,607.0 594.50,606.5 594.75,605.4 595.00,607.3 595.25,606.7 595.50,607.8 595.75,607.1 596.00,606.5 596.25,605.6 596.50,604.3 596.75,605.8 597.00,607.4 597.25,606.1 597.50,605.5 597.75,606.5 598.00,606.9 598.25,608.9 598.50,605.3 598.75,605.9 599.00,605.1 599.25,605.5 599.50,607.0 599.75,606.0 600.00,604.7 600.25,607.3 600.50,607.7 600.75,606.7 601.00,605.0 601.25,604.9 601.50,607.1 601.75,604.9 602.00,605.3 602.25,604.4 602.50,607.5 602.75,605.1 603.00,605.5 603.25,604.9 603.50,604.9 603.75,604.4 604.00,606.5 604.25,604.8 604.50,606.8 604.75,604.1 605.00,605.7 605.25,606.1 605.50,604.1 605.75,605.3 606.00,604.5 606.25,603.9 606.50,604.5 606.75,603.1 607.00,604.5 607.25,603.2 607.50,605.2 607.75,606.0 608.00,605.8 608.25,603.7 608.50,604.1 608.75,606.0 609.00,605.3 609.25,604.6 609.50,601.9 609.75,603.4 610.00,605.7 610.25,604.0 610.50,603.0 610.75,603.3 611.00,605.4 611.25,604.2 611.50,601.6 611.75,601.6 612.00,602.5 612.25,603.5 612.50,601.3 612.75,601.3 613.00,599.2 613.25,600.8 613.50,601.7 613.75,601.4 614.00,599.1 614.25,600.9 614.50,599.1 614.75,598.1 615.00,599.5 615.25,597.1 615.50,597.7 615.75,596.9 616.00,597.0 616.25,596.8 616.50,595.6 616.75,594.6 617.00,594.2 617.25,591.8 617.50,593.1 617.75,594.3 618.00,591.9 618.25,591.7 618.50,589.7 618.75,588.6 619.00,587.9 619.25,587.0 619.50,585.7 619.75,583.1 620.00,582.6 620.25,579.9 620.50,580.6 620.75,578.3 621.00,576.6 621.25,574.2 621.50,574.2 621.75,573.2 622.00,571.4 622.25,570.5 622.50,567.8 622.75,568.1 623.00,566.4 623.25,563.5 623.50,565.3 623.75,564.0 624.00,564.6 624.25,564.3 624.50,564.5 624.75,566.7 625.00,566.2 625.25,567.8 625.50,569.3 625.75,569.7 626.00,570.3 626.25,572.9 626.50,574.2 626.75,575.0 627.00,577.4 627.25,579.8 627.50,581.0 627.75,583.0 628.00,584.2 628.25,584.5 628.50,585.6 628.75,585.8 629.00,589.0 629.25,588.5 629.50,590.6 629.75,592.5 630.00,592.0 630.25,591.4 630.50,592.6 630.75,594.0 631.00,596.3 631.25,595.4 631.50,596.2 631.75,595.9 632.00,597.7 632.25,598.0 632.50,599.1 632.75,597.9 633.00,599.8 633.25,598.2 633.50,599.3 633.75,599.7 634.00,600.4 634.25,601.2 634.50,598.9 634.75,601.3 635.00,601.2 635.25,600.6 635.50,601.8 635.75,602.7 636.00,602.0 636.25,602.1 636.50,603.4 636.75,602.2 637.00,604.1 637.25,603.6 637.50,603.8 637.75,604.1 638.00,604.8 638.25,603.0 638.50,605.0 638.75,603.1 639.00,604.4 639.25,604.7 639.50,604.4 639.75,603.2 640.00,603.2 640.25,603.4 640.50,604.5 640.75,604.8 641.00,605.2 641.25,603.3 641.50,605.1 641.75,605.9 642.00,605.1 642.25,605.0 642.50,605.9 642.75,606.7 643.00,606.6 643.25,606.7 643.50,604.0 643.75,606.7 644.00,605.1 644.25,606.2 644.50,604.9 644.75,605.9 645.00,605.0 645.25,605.3 645.50,607.5 645.75,604.5 646.00,606.6 646.25,605.8 646.50,604.7 646.75,607.1 647.00,605.8 647.25,605.3 647.50,606.2 647.75,605.1 648.00,607.6 648.25,604.5 648.50,605.5 648.75,604.0 649.00,606.2 649.25,606.8 649.50,607.0 649.75,607.6 650.00,606.1 650.25,605.7 650.50,607.0 650.75,605.6 651.00,606.5 651.25,605.7 651.50,605.5 651.75,606.2 652.00,607.4 652.25,607.2 652.50,606.4 652.75,603.7 653.00,606.3 653.25,606.7 653.50,606.9 653.75,605.7 654.00,607.4 654.25,606.7 654.50,604.5 654.75,607.2 655.00,608.0 655.25,606.7 655.50,605.7 655.75,608.3 656.00,607.5 656.25,604.7 656.50,607.5 656.75,606.9 657.00,606.8 657.25,604.8 657.50,604.9 657.75,606.7 658.00,608.4 658.25,606.7 658.50,606.6 658.75,605.9 659.00,606.2 659.25,607.6 659.50,605.8 659.75,608.4 660.00,607.0 660.25,606.9 660.50,606.4 660.75,605.8 661.00,606.3 661.25,605.1 661.50,606.6 661.75,604.6 662.00,608.7 662.25,606.5 662.50,605.0 662.75,606.8 663.00,606.6 663.25,605.9 663.50,606.7 663.75,605.7 664.00,606.4 664.25,606.3 664.50,607.0 664.75,606.0 665.00,606.8 665.25,603.7 665.50,607.6 665.75,606.7 666.00,607.1 666.25,606.3 666.50,607.4 666.75,606.5 667.00,606.8 667.25,606.6 667.50,606.0 667.75,605.7 668.00,607.1 668.25,607.2 668.50,606.5 668.75,607.8 669.00,606.7 669.25,607.1 669.50,607.7 669.75,607.3 670.00,606.4 670.25,605.6 670.50,605.9 670.75,605.6 671.00,607.4 671.25,603.1 671.50,608.6 671.75,605.8 672.00,607.7 672.25,607.0 672.50,607.2 672.75,605.4 673.00,607.7 673.25,606.6 673.50,607.3 673.75,605.7 674.00,606.6 674.25,606.0 674.50,607.0 674.75,607.4 675.00,606.5 675.25,607.1 675.50,607.2 675.75,606.6 676.00,606.4 676.25,604.8 676.50,607.7 676.75,606.9 677.00,606.4 677.25,606.9 677.50,606.2 677.75,606.4 678.00,607.2 678.25,605.2 678.50,606.4 678.75,606.9 679.00,605.1 679.25,605.6 679.50,607.9 679.75,608.9 680.00,607.0 680.25,607.4 680.50,605.9 680.75,608.1 681.00,606.7 681.25,606.8 681.50,607.1 681.75,606.2 682.00,606.0 682.25,606.7 682.50,605.7 682.75,606.1 683.00,604.2 683.25,605.7 683.50,607.2 683.75,607.8 684.00,607.3 684.25,605.9 684.50,606.8 684.75,605.8 685.00,605.6 685.25,607.7 685.50,606.3 685.75,606.4 686.00,606.9 686.25,607.6 686.50,606.8 686.75,606.5 687.00,607.0 687.25,606.6 687.50,606.4 687.75,604.5 688.00,605.9 688.25,606.6 688.50,605.7 688.75,608.6 689.00,609.0 689.25,608.4 689.50,605.9 689.75,607.3 690.00,607.2 690.25,607.1 690.50,605.2 690.75,607.7 691.00,608.5 691.25,607.6 691.50,608.9 691.75,606.5 692.00,607.5 692.25,608.1 692.50,605.9 692.75,606.7 693.00,606.1 693.25,607.7 693.50,605.7 693.75,607.1 694.00,606.3 694.25,607.7 694.50,606.3 694.75,606.7 695.00,607.1 695.25,606.1 695.50,606.4 695.75,606.6 696.00,606.3 696.25,607.1 696.50,606.0 696.75,606.9 697.00,606.5 697.25,606.1 697.50,605.7 697.75,604.9 698.00,606.0 698.25,607.2 698.50,606.3 698.75,608.1 699.00,605.7 699.25,606.3 699.50,605.1 699.75,607.7 700.00,605.3 700.25,607.0 700.50,606.9 700.75,609.1 701.00,607.9 701.25,607.4 701.50,606.7 701.75,608.4 702.00,606.2 702.25,605.4 702.50,607.4 702.75,606.5 703.00,605.9 703.25,606.9 703.50,607.0 703.75,605.0 704.00,607.5 704.25,608.4 704.50,606.1 704.75,605.0 705.00,606.7 705.25,606.2 705.50,607.1 705.75,607.2 706.00,606.1 706.25,607.7 706.50,604.2 706.75,605.4 707.00,606.2 707.25,606.3 707.50,605.7 707.75,606.2 708.00,604.4 708.25,603.3 708.50,606.2 708.75,606.6 709.00,605.2 709.25,603.9 709.50,604.2 709.75,605.3 710.00,604.7 710.25,605.6 710.50,605.8 710.75,605.1 711.00,603.5 711.25,604.5 711.50,603.7 711.75,603.2 712.00,602.9 712.25,602.3 712.50,601.1 712.75,602.2 713.00,600.7 713.25,601.1 713.50,601.6 713.75,601.2 714.00,598.3 714.25,599.1 714.50,598.3 714.75,599.3 715.00,597.9 715.25,599.2 715.50,597.5 715.75,598.0 716.00,596.2 716.25,596.1 716.50,596.2 716.75,596.5 717.00,593.8 717.25,595.5 717.50,593.7 717.75,594.9 718.00,592.8 718.25,593.8 718.50,595.1 718.75,595.1 719.00,592.6 719.25,594.9 719.50,592.7 719.75,593.0 720.00,593.3 720.25,592.9 720.50,593.0 720.75,592.8 721.00,593.4 721.25,592.9 721.50,592.3 721.75,591.8 722.00,591.9 722.25,592.9 722.50,593.8 722.75,593.6 723.00,593.2 723.25,594.1 723.50,593.4 723.75,594.3 724.00,594.9 724.25,594.4 724.50,596.3 724.75,596.4 725.00,595.4 725.25,596.6 725.50,596.5 725.75,597.0 726.00,597.4 726.25,598.7 726.50,598.1 726.75,598.5 727.00,599.5 727.25,599.8 727.50,601.0 727.75,598.9 728.00,600.7 728.25,598.7 728.50,600.8 728.75,599.9 729.00,600.2 729.25,601.6 729.50,601.0 729.75,602.1 730.00,600.0 730.25,604.2 730.50,600.6 730.75,602.8 731.00,605.3 731.25,602.5 731.50,605.7 731.75,605.3 732.00,604.4 732.25,604.3 732.50,604.5 732.75,605.2 733.00,606.1 733.25,606.5 733.50,603.3 733.75,606.3 734.00,606.2 734.25,604.5 734.50,606.6 734.75,606.8 735.00,606.8 735.25,605.9 735.50,606.8 735.75,607.3 736.00,605.5 736.25,605.7 736.50,605.7 736.75,607.4 737.00,606.3 737.25,605.6 737.50,605.4 737.75,605.2 738.00,606.6 738.25,607.3 738.50,607.7 738.75,605.5 739.00,605.5 739.25,605.5 739.50,605.6 739.75,605.0 740.00,608.0 740.25,606.9 740.50,606.0 740.75,604.0 741.00,607.8 741.25,607.2 741.50,606.6 741.75,607.2 742.00,605.8 742.25,607.1 742.50,605.9 742.75,606.9 743.00,606.3 743.25,605.1 743.50,605.4 743.75,607.5 744.00,607.4 744.25,606.2 744.50,605.7 744.75,605.9 745.00,606.7 745.25,605.0 745.50,607.3 745.75,605.5 746.00,605.2 746.25,606.3 746.50,608.1 746.75,605.6 747.00,605.9 747.25,605.1 747.50,606.4 747.75,606.4 748.00,606.1 748.25,605.7 748.50,606.4 748.75,606.8 749.00,605.6 749.25,605.7 749.50,605.3 749.75,605.3 750.00,607.0 750.25,604.8 750.50,605.9 750.75,606.7 751.00,605.1 751.25,606.1 751.50,606.2 751.75,604.0 752.00,606.2 752.25,604.2 752.50,605.3 752.75,603.6 753.00,603.4 753.25,604.6 753.50,606.3 753.75,607.2 754.00,607.2 754.25,605.8 754.50,605.5 754.75,605.0 755.00,604.8 755.25,603.7 755.50,603.5 755.75,604.2 756.00,604.1 756.25,602.9 756.50,602.3 756.75,602.6 757.00,606.4 757.25,602.4 757.50,604.3 757.75,604.0 758.00,603.7 758.25,602.0 758.50,604.4 758.75,602.6 759.00,601.7 759.25,601.4 759.50,601.9 759.75,604.0 760.00,600.6 760.25,601.1 760.50,601.7 760.75,602.1 761.00,600.5 761.25,600.5 761.50,600.9 761.75,602.0 762.00,601.2 762.25,601.1 762.50,601.5 762.75,601.4 763.00,602.2 763.25,600.6 763.50,601.3 763.75,600.7 764.00,602.0 764.25,602.1 764.50,601.1 764.75,602.5 765.00,601.2 765.25,602.8 765.50,601.1 765.75,601.1 766.00,600.1 766.25,600.6 766.50,601.3 766.75,599.7 767.00,601.7 767.25,602.6 767.50,602.4 767.75,602.1 768.00,602.6 768.25,601.4 768.50,601.5 768.75,602.8 769.00,601.9 769.25,603.0 769.50,601.6 769.75,602.7 770.00,603.3 770.25,602.0 770.50,603.7 770.75,603.5 771.00,599.6 771.25,604.5 771.50,600.3 771.75,604.2 772.00,600.9 772.25,599.6 772.50,600.2 772.75,601.9 773.00,600.3 773.25,600.6 773.50,602.2 773.75,599.8 774.00,601.1 774.25,601.6 774.50,598.4 774.75,598.8 775.00,599.9 775.25,599.3 775.50,599.3 775.75,596.8 776.00,597.5 776.25,598.3 776.50,598.0 776.75,598.2 777.00,596.1 777.25,595.3 777.50,594.5 777.75,593.9 778.00,592.2 778.25,595.1 778.50,592.3 778.75,591.3 779.00,590.6 779.25,590.8 779.50,589.5 779.75,587.8 780.00,588.5 780.25,586.8 780.50,585.3 780.75,584.4 781.00,584.4 781.25,582.8 781.50,580.9 781.75,580.7 782.00,576.8 782.25,578.1 782.50,575.5 782.75,574.6 783.00,573.8 783.25,574.5 783.50,571.8 783.75,570.8 784.00,570.6 784.25,567.7 784.50,568.6 784.75,568.9 785.00,567.2 785.25,568.3 785.50,567.2 785.75,566.7 786.00,569.0 786.25,568.7 786.50,569.8 786.75,570.0 787.00,569.7 787.25,572.4 787.50,572.8 787.75,573.8 788.00,574.1 788.25,574.5 788.50,577.8 788.75,578.2 789.00,578.8 789.25,579.1 789.50,581.8 789.75,580.8 790.00,581.8 790.25,585.2 790.50,584.7 790.75,585.8 791.00,586.3 791.25,588.3 791.50,587.3 791.75,588.0 792.00,587.2 792.25,588.5 792.50,587.5 792.75,588.9 793.00,589.5 793.25,590.4 793.50,591.1 793.75,589.3 794.00,589.0 794.25,590.2 794.50,589.1 794.75,591.3 795.00,590.7 795.25,588.4 795.50,589.2 795.75,589.8 796.00,587.4 796.25,587.3 796.50,587.2 796.75,588.0 797.00,586.6 797.25,585.5 797.50,585.4 797.75,584.7 798.00,584.4 798.25,584.3 798.50,583.7 798.75,583.9 799.00,583.2 799.25,583.0 799.50,583.2 799.75,582.3 800.00,583.7 800.25,586.2 800.50,585.2 800.75,586.4 801.00,587.4 801.25,587.0 801.50,587.9 801.75,589.5 802.00,589.0 802.25,591.5 802.50,592.1 802.75,592.5 803.00,593.3 803.25,594.4 803.50,594.5 803.75,592.8 804.00,596.2 804.25,595.4 804.50,596.4 804.75,596.9 805.00,597.4 805.25,596.7 805.50,596.9 805.75,599.0 806.00,599.5 806.25,600.2 806.50,598.9 806.75,600.2 807.00,601.5 807.25,600.7 807.50,600.7 807.75,603.5 808.00,600.2 808.25,601.2 808.50,601.1 808.75,601.9 809.00,605.6 809.25,601.7 809.50,602.6 809.75,602.5 810.00,602.5 810.25,604.2 810.50,603.0 810.75,604.7 811.00,605.1 811.25,603.4 811.50,605.4 811.75,602.9 812.00,604.5 812.25,605.3 812.50,603.4 812.75,604.4 813.00,605.0 813.25,605.2 813.50,605.1 813.75,606.8 814.00,604.7 814.25,606.1 814.50,607.1 814.75,604.5 815.00,604.7 815.25,604.2 815.50,605.9 815.75,606.7 816.00,603.6 816.25,604.5 816.50,604.8 816.75,607.7 817.00,605.2 817.25,606.0 817.50,604.4 817.75,606.5 818.00,604.7 818.25,605.7 818.50,604.8 818.75,605.7 819.00,605.7 819.25,606.1 819.50,606.1 819.75,607.7 820.00,605.3 820.25,607.3 820.50,606.4 820.75,605.9 821.00,606.4 821.25,606.4 821.50,607.0 821.75,607.0 822.00,606.8 822.25,606.5 822.50,604.7 822.75,607.1 823.00,607.4 823.25,606.7 823.50,606.6 823.75,605.5 824.00,606.7 824.25,607.3 824.50,605.1 824.75,606.0 825.00,605.9 825.25,607.7 825.50,606.0 825.75,604.7 826.00,606.7 826.25,607.8 826.50,606.4 826.75,606.1 827.00,606.8 827.25,608.2 827.50,606.3 827.75,606.3 828.00,607.0 828.25,605.9 828.50,605.0 828.75,606.8 829.00,606.3 829.25,607.0 829.50,606.8 829.75,607.2 830.00,605.6 830.25,607.0 830.50,605.8 830.75,607.1 831.00,606.3 831.25,608.4 831.50,605.9 831.75,604.5 832.00,606.9 832.25,606.3 832.50,605.9 832.75,607.0 833.00,608.4 833.25,606.7 833.50,606.1 833.75,608.2 834.00,608.0 834.25,606.9 834.50,606.3 834.75,607.6 835.00,606.2 835.25,606.2 835.50,606.1 835.75,607.4 836.00,608.4 836.25,606.9 836.50,608.6 836.75,605.0 837.00,606.9 837.25,605.2 837.50,607.8 837.75,608.2 838.00,605.2 838.25,606.2 838.50,607.0 838.75,605.4 839.00,606.0 839.25,605.9 839.50,607.0 839.75,606.2 840.00,605.8 840.25,606.1 840.50,606.8 840.75,607.0 841.00,606.7 841.25,608.1 841.50,606.5 841.75,607.0 842.00,607.5 842.25,606.6 842.50,608.2 842.75,607.7 843.00,607.7 843.25,606.1 843.50,606.8 843.75,607.5 844.00,608.0 844.25,606.3 844.50,606.5 844.75,605.7 845.00,605.5 845.25,608.1 845.50,607.0 845.75,607.5 846.00,608.1 846.25,607.0 846.50,607.1 846.75,606.0 847.00,606.5 847.25,607.5 847.50,608.4 847.75,608.1 848.00,606.4 848.25,606.3 848.50,607.8 848.75,607.6 849.00,607.6 849.25,607.4 849.50,608.3 849.75,607.4 850.00,608.5 850.25,607.7 850.50,607.2 850.75,606.1 851.00,607.5 851.25,608.0 851.50,607.3 851.75,606.2 852.00,605.4 852.25,606.9 852.50,608.9 852.75,606.1 853.00,606.7 853.25,607.3 853.50,608.1 853.75,606.2 854.00,607.2 854.25,607.5 854.50,606.0 854.75,607.6 855.00,606.2 855.25,607.3 855.50,607.8 855.75,607.3 856.00,606.0 856.25,607.8 856.50,607.9 856.75,607.3 857.00,608.0 857.25,606.7 857.50,606.4 857.75,607.0 858.00,607.6 858.25,608.0 858.50,606.5 858.75,607.4 859.00,607.3 859.25,606.7 859.50,605.2 859.75,605.5 860.00,608.1 860.25,605.7 860.50,605.4 860.75,605.8 861.00,606.8 861.25,608.4 861.50,607.5 861.75,606.7 862.00,606.8 862.25,607.6 862.50,607.2 862.75,605.4 863.00,608.3 863.25,608.0 863.50,606.1 863.75,606.9 864.00,607.6 864.25,607.4 864.50,606.8 864.75,607.2 865.00,608.9 865.25,606.9 865.50,608.1 865.75,607.4 866.00,606.1 866.25,607.8 866.50,607.5 866.75,608.3 867.00,608.7 867.25,608.2 867.50,607.5 867.75,607.7 868.00,608.0 868.25,606.4 868.50,606.2 868.75,607.9 869.00,606.1 869.25,606.9 869.50,608.9 869.75,608.0 870.00,608.4 870.25,607.1 870.50,608.3 870.75,606.3 871.00,606.4 871.25,607.0 871.50,606.5 871.75,608.4 872.00,607.0 872.25,606.0 872.50,608.0 872.75,607.8 873.00,608.2 873.25,606.0 873.50,606.3 873.75,604.9 874.00,607.4 874.25,607.0 874.50,606.5 874.75,608.4 875.00,606.3 875.25,606.6 875.50,606.2 875.75,606.0 876.00,607.0 876.25,606.8 876.50,606.6 876.75,605.9 877.00,605.7 877.25,606.4 877.50,606.9 877.75,606.1 878.00,606.5 878.25,606.6 878.50,606.0 878.75,605.5 879.00,606.8 879.25,608.4 879.50,607.4 879.75,606.8 880.00,606.2 880.25,606.3 880.50,607.9 880.75,605.8 881.00,608.6 881.25,606.9 881.50,607.2 881.75,606.6 882.00,607.8 882.25,607.8 882.50,606.2 882.75,608.7 883.00,607.1 883.25,605.4 883.50,607.4 883.75,607.2 884.00,607.0 884.25,607.7 884.50,607.9 884.75,605.7 885.00,606.6 885.25,606.7 885.50,606.9 885.75,605.1 886.00,607.0 886.25,606.8 886.50,608.6 886.75,605.9 887.00,606.3 887.25,607.2 887.50,606.7 887.75,607.6 888.00,607.9 888.25,605.8 888.50,606.8 888.75,607.3 889.00,605.9 889.25,608.8 889.50,606.9 889.75,606.8 890.00,605.1 890.25,605.9 890.50,604.6 890.75,607.2 891.00,605.7 891.25,606.6 891.50,606.8 891.75,606.6 892.00,606.0 892.25,607.1 892.50,605.3 892.75,604.5 893.00,604.9 893.25,607.0 893.50,607.7 893.75,605.6 894.00,605.7 894.25,606.6 894.50,604.9 894.75,605.7 895.00,604.7 895.25,606.2 895.50,603.2 895.75,604.6 896.00,604.3 896.25,605.9 896.50,606.4 896.75,605.9 897.00,607.9 897.25,605.9 897.50,604.9 897.75,605.4 898.00,606.5 898.25,606.2 898.50,607.9 898.75,605.9 899.00,604.8 899.25,604.6 899.50,606.4 899.75,602.9 900.00,606.0 900.25,606.4 900.50,605.1 900.75,605.8 901.00,606.8 901.25,606.9 901.50,606.8 901.75,606.4 902.00,605.2 902.25,604.2 902.50,603.3 902.75,607.0 903.00,606.3 903.25,604.0 903.50,606.3 903.75,604.8 904.00,604.6 904.25,603.9 904.50,607.1 904.75,603.7 905.00,603.9 905.25,605.7 905.50,605.8 905.75,605.5 906.00,603.9 906.25,604.7 906.50,604.0 906.75,604.4 907.00,606.6 907.25,605.1 907.50,605.5 907.75,603.9 908.00,604.2 908.25,605.1 908.50,605.9 908.75,604.5 909.00,606.1 909.25,607.0 909.50,602.9 909.75,604.6 910.00,605.2 910.25,604.3 910.50,606.2 910.75,604.6 911.00,604.9 911.25,602.9 911.50,605.5 911.75,604.2 912.00,604.9 912.25,604.2 912.50,603.8 912.75,604.3 913.00,603.2 913.25,604.2 913.50,605.5 913.75,605.4 914.00,603.5 914.25,605.3 914.50,604.1 914.75,603.9 915.00,605.1 915.25,605.2 915.50,603.9 915.75,605.5 916.00,604.5 916.25,606.7 916.50,603.1 916.75,604.4 917.00,604.4 917.25,603.8 917.50,603.4 917.75,605.9 918.00,605.0 918.25,603.4 918.50,604.2 918.75,604.4 919.00,605.2 919.25,603.9 919.50,606.4 919.75,604.9 920.00,606.4 920.25,605.5 920.50,604.8 920.75,604.9 921.00,605.5 921.25,605.3 921.50,605.4 921.75,606.0 922.00,606.4 922.25,604.3 922.50,603.7 922.75,604.4 923.00,606.6 923.25,605.2 923.50,604.8 923.75,605.8 924.00,606.2 924.25,604.4 924.50,604.6 924.75,605.5 925.00,605.5 925.25,604.9 925.50,607.9 925.75,606.9 926.00,605.6 926.25,606.4 926.50,604.6 926.75,606.8 927.00,605.7 927.25,605.2 927.50,604.6 927.75,606.8 928.00,606.1 928.25,605.4 928.50,607.0 928.75,605.8 929.00,606.4 929.25,605.7 929.50,606.6 929.75,605.0 930.00,605.8 930.25,606.3 930.50,605.4 930.75,605.7 931.00,607.0 931.25,605.8 931.50,607.4 931.75,606.8 932.00,606.4 932.25,604.9 932.50,607.9 932.75,607.9 933.00,606.8 933.25,606.7 933.50,606.6 933.75,606.2 934.00,606.3 934.25,607.0 934.50,605.1 934.75,606.6 935.00,607.1 935.25,604.9 935.50,606.0 935.75,605.2 936.00,605.3 936.25,607.3 936.50,605.6 936.75,609.4 937.00,606.6 937.25,606.0 937.50,606.5 937.75,606.8 938.00,607.1 938.25,607.1 938.50,607.2 938.75,607.9 939.00,608.1 939.25,607.0 939.50,607.3 939.75,606.2 940.00,606.4 940.25,606.6 940.50,608.3 940.75,606.3 941.00,607.2 941.25,607.1 941.50,607.8 941.75,606.5 942.00,606.7 942.25,608.2 942.50,607.4 942.75,606.6 943.00,608.3 943.25,607.3 943.50,606.7 943.75,608.1 944.00,608.9 944.25,606.8 944.50,606.2 944.75,604.9 945.00,609.0 945.25,606.7 945.50,607.0 945.75,606.3 946.00,607.1 946.25,606.2 946.50,608.8 946.75,608.0 947.00,606.8 947.25,606.1 947.50,607.9 947.75,606.5 948.00,608.6 948.25,607.6 948.50,607.3 948.75,606.2 949.00,607.6 949.25,606.1 949.50,608.6 949.75,605.5 950.00,607.1 950.25,609.8 950.50,606.9 950.75,608.2 951.00,608.5 951.25,607.8 951.50,607.3 951.75,608.5 952.00,608.5 952.25,606.9 952.50,609.1 952.75,608.8 953.00,606.5 953.25,608.1 953.50,608.1 953.75,607.7 954.00,607.0 954.25,606.4 954.50,608.1 954.75,606.0 955.00,607.0 955.25,605.7 955.50,606.9 955.75,607.8 956.00,606.2 956.25,608.4 956.50,608.6 956.75,608.1 957.00,608.3 957.25,609.1 957.50,608.4 957.75,606.0 958.00,607.5 958.25,606.9 958.50,607.7 958.75,606.0 959.00,607.8 959.25,607.4 959.50,608.2 959.75,606.8 960.00,607.5 960.25,605.6 960.50,607.6 960.75,607.7 961.00,606.4 961.25,607.7 961.50,606.4 961.75,608.2 962.00,606.9 962.25,607.3 962.50,609.4 962.75,608.3 963.00,609.2 963.25,608.8 963.50,607.7 963.75,609.3 964.00,608.0 964.25,607.8 964.50,607.4 964.75,606.6 965.00,608.3 965.25,607.6 965.50,608.3 965.75,607.7 966.00,608.4 966.25,607.3 966.50,608.1 966.75,608.9 967.00,609.1 967.25,607.9 967.50,607.0 967.75,609.4 968.00,609.1 968.25,607.3 968.50,609.2 968.75,608.5 969.00,607.1 969.25,608.1 969.50,606.8 969.75,607.6 970.00,607.6 970.25,607.9 970.50,609.1 970.75,606.6 971.00,605.0 971.25,608.7 971.50,607.7 971.75,608.9 972.00,608.8 972.25,609.6 972.50,606.1 972.75,609.5 973.00,608.0 973.25,607.5 973.50,609.6 973.75,609.2 974.00,606.7" fill="none" stroke="#7f60a7" stroke-width="3.0" stroke-linejoin="round"/><polyline points="102.00,741.0 102.25,740.3 102.50,741.8 102.75,742.7 103.00,743.6 103.25,742.3 103.50,741.4 103.75,741.1 104.00,743.1 104.25,744.3 104.50,742.5 104.75,740.5 105.00,740.9 105.25,744.3 105.50,742.4 105.75,739.8 106.00,742.0 106.25,740.6 106.50,741.3 106.75,741.5 107.00,741.2 107.25,742.9 107.50,742.1 107.75,741.4 108.00,742.7 108.25,743.3 108.50,740.0 108.75,741.9 109.00,740.9 109.25,742.0 109.50,740.5 109.75,742.2 110.00,742.2 110.25,741.8 110.50,740.8 110.75,741.7 111.00,740.8 111.25,740.4 111.50,742.5 111.75,740.7 112.00,743.8 112.25,743.2 112.50,739.6 112.75,742.6 113.00,740.8 113.25,742.3 113.50,742.3 113.75,739.6 114.00,742.0 114.25,741.9 114.50,743.6 114.75,740.7 115.00,743.3 115.25,740.8 115.50,741.9 115.75,741.2 116.00,744.3 116.25,743.1 116.50,745.6 116.75,743.2 117.00,743.5 117.25,743.5 117.50,741.5 117.75,742.2 118.00,744.2 118.25,741.8 118.50,742.6 118.75,742.3 119.00,743.2 119.25,741.9 119.50,742.2 119.75,742.7 120.00,742.5 120.25,741.2 120.50,743.6 120.75,740.6 121.00,740.8 121.25,740.7 121.50,743.7 121.75,741.9 122.00,741.1 122.25,740.9 122.50,743.0 122.75,741.0 123.00,740.7 123.25,743.2 123.50,740.8 123.75,742.0 124.00,742.4 124.25,741.8 124.50,742.4 124.75,744.2 125.00,741.7 125.25,740.7 125.50,740.0 125.75,742.2 126.00,742.0 126.25,742.8 126.50,741.8 126.75,741.8 127.00,741.5 127.25,741.8 127.50,742.7 127.75,742.0 128.00,742.6 128.25,745.0 128.50,743.1 128.75,740.4 129.00,744.8 129.25,743.0 129.50,741.2 129.75,743.7 130.00,742.5 130.25,741.7 130.50,741.7 130.75,741.2 131.00,742.6 131.25,744.0 131.50,742.1 131.75,743.1 132.00,745.1 132.25,740.9 132.50,742.9 132.75,742.1 133.00,741.1 133.25,741.2 133.50,742.5 133.75,743.1 134.00,741.8 134.25,742.6 134.50,743.5 134.75,743.0 135.00,743.8 135.25,743.2 135.50,743.2 135.75,745.1 136.00,743.4 136.25,742.8 136.50,743.6 136.75,741.4 137.00,742.2 137.25,743.7 137.50,743.5 137.75,744.7 138.00,742.6 138.25,740.7 138.50,745.3 138.75,744.1 139.00,741.2 139.25,744.5 139.50,742.7 139.75,740.2 140.00,742.1 140.25,742.0 140.50,744.8 140.75,741.6 141.00,742.3 141.25,742.3 141.50,742.2 141.75,741.4 142.00,743.0 142.25,744.1 142.50,743.5 142.75,741.4 143.00,741.1 143.25,742.9 143.50,741.7 143.75,741.9 144.00,740.4 144.25,745.3 144.50,743.9 144.75,741.4 145.00,743.9 145.25,744.5 145.50,739.5 145.75,742.0 146.00,742.2 146.25,743.6 146.50,742.6 146.75,742.4 147.00,742.7 147.25,745.3 147.50,745.7 147.75,742.1 148.00,741.5 148.25,746.4 148.50,741.4 148.75,742.0 149.00,742.8 149.25,743.4 149.50,744.2 149.75,743.3 150.00,741.6 150.25,743.5 150.50,743.1 150.75,745.3 151.00,742.8 151.25,741.0 151.50,741.4 151.75,744.8 152.00,742.1 152.25,740.0 152.50,742.0 152.75,742.8 153.00,744.4 153.25,741.5 153.50,743.7 153.75,743.9 154.00,741.9 154.25,742.6 154.50,745.2 154.75,745.2 155.00,744.0 155.25,743.3 155.50,744.4 155.75,742.7 156.00,742.7 156.25,741.7 156.50,742.9 156.75,742.8 157.00,746.6 157.25,742.6 157.50,744.6 157.75,744.7 158.00,742.6 158.25,744.5 158.50,740.0 158.75,743.0 159.00,744.1 159.25,739.7 159.50,741.4 159.75,744.3 160.00,742.6 160.25,741.4 160.50,742.4 160.75,742.2 161.00,743.9 161.25,743.6 161.50,742.6 161.75,742.0 162.00,742.9 162.25,744.7 162.50,743.4 162.75,743.8 163.00,742.8 163.25,741.2 163.50,742.0 163.75,743.8 164.00,743.1 164.25,741.8 164.50,740.8 164.75,743.1 165.00,742.5 165.25,742.5 165.50,742.5 165.75,743.4 166.00,743.4 166.25,744.3 166.50,744.3 166.75,744.8 167.00,744.1 167.25,742.6 167.50,742.9 167.75,743.7 168.00,742.6 168.25,743.8 168.50,744.6 168.75,742.0 169.00,740.7 169.25,744.6 169.50,743.1 169.75,744.0 170.00,741.3 170.25,745.4 170.50,744.1 170.75,742.9 171.00,742.6 171.25,743.2 171.50,742.8 171.75,742.7 172.00,741.6 172.25,744.8 172.50,743.0 172.75,743.2 173.00,743.2 173.25,739.9 173.50,743.8 173.75,742.7 174.00,742.7 174.25,743.2 174.50,741.8 174.75,744.2 175.00,742.2 175.25,741.9 175.50,742.0 175.75,743.3 176.00,744.1 176.25,742.3 176.50,741.1 176.75,744.6 177.00,741.7 177.25,744.7 177.50,743.1 177.75,742.2 178.00,742.3 178.25,743.8 178.50,744.4 178.75,742.9 179.00,744.4 179.25,746.0 179.50,742.9 179.75,741.6 180.00,741.7 180.25,741.3 180.50,742.3 180.75,742.2 181.00,741.4 181.25,743.9 181.50,739.7 181.75,741.4 182.00,745.9 182.25,744.6 182.50,743.9 182.75,743.9 183.00,745.6 183.25,744.0 183.50,743.4 183.75,741.6 184.00,743.2 184.25,742.3 184.50,742.3 184.75,742.3 185.00,743.2 185.25,742.9 185.50,744.5 185.75,741.5 186.00,743.1 186.25,745.8 186.50,743.4 186.75,745.0 187.00,744.9 187.25,745.1 187.50,744.4 187.75,741.5 188.00,743.0 188.25,742.9 188.50,741.3 188.75,742.8 189.00,741.7 189.25,741.2 189.50,743.7 189.75,743.4 190.00,742.5 190.25,742.2 190.50,742.7 190.75,742.9 191.00,742.9 191.25,743.4 191.50,742.9 191.75,744.0 192.00,744.2 192.25,744.0 192.50,742.6 192.75,742.7 193.00,744.1 193.25,743.2 193.50,743.5 193.75,740.2 194.00,739.9 194.25,744.0 194.50,744.0 194.75,745.4 195.00,744.5 195.25,743.9 195.50,743.6 195.75,741.6 196.00,744.8 196.25,742.8 196.50,744.3 196.75,743.9 197.00,744.0 197.25,744.8 197.50,742.9 197.75,743.1 198.00,742.5 198.25,743.1 198.50,745.9 198.75,743.1 199.00,745.2 199.25,744.8 199.50,744.6 199.75,744.7 200.00,742.3 200.25,744.2 200.50,745.8 200.75,742.7 201.00,743.6 201.25,742.8 201.50,744.1 201.75,742.3 202.00,745.9 202.25,743.2 202.50,741.6 202.75,746.1 203.00,745.0 203.25,744.4 203.50,744.5 203.75,743.3 204.00,743.5 204.25,744.7 204.50,745.0 204.75,745.0 205.00,744.1 205.25,743.2 205.50,743.5 205.75,745.3 206.00,745.7 206.25,743.4 206.50,743.2 206.75,745.5 207.00,744.8 207.25,744.8 207.50,742.1 207.75,743.3 208.00,743.2 208.25,744.1 208.50,741.6 208.75,745.6 209.00,744.3 209.25,744.5 209.50,742.3 209.75,743.9 210.00,745.7 210.25,741.8 210.50,744.3 210.75,744.8 211.00,743.0 211.25,745.0 211.50,743.5 211.75,745.6 212.00,744.6 212.25,744.2 212.50,746.6 212.75,745.1 213.00,745.7 213.25,742.4 213.50,743.1 213.75,745.1 214.00,745.2 214.25,743.9 214.50,745.0 214.75,742.6 215.00,744.3 215.25,742.5 215.50,744.5 215.75,743.4 216.00,743.2 216.25,744.1 216.50,746.5 216.75,742.7 217.00,743.2 217.25,745.5 217.50,743.5 217.75,746.4 218.00,744.4 218.25,744.2 218.50,744.5 218.75,746.4 219.00,745.0 219.25,744.8 219.50,744.4 219.75,742.0 220.00,742.9 220.25,746.1 220.50,745.2 220.75,744.8 221.00,745.0 221.25,743.4 221.50,744.6 221.75,742.9 222.00,744.7 222.25,743.2 222.50,743.9 222.75,744.8 223.00,743.7 223.25,745.0 223.50,744.8 223.75,744.6 224.00,745.9 224.25,742.2 224.50,742.0 224.75,745.0 225.00,745.4 225.25,746.9 225.50,745.2 225.75,745.3 226.00,743.0 226.25,745.2 226.50,745.1 226.75,742.8 227.00,743.0 227.25,744.1 227.50,744.6 227.75,740.3 228.00,744.3 228.25,744.5 228.50,744.0 228.75,744.6 229.00,744.9 229.25,742.9 229.50,744.8 229.75,743.9 230.00,743.0 230.25,744.5 230.50,746.3 230.75,742.3 231.00,742.0 231.25,742.1 231.50,746.9 231.75,743.9 232.00,744.2 232.25,743.2 232.50,743.0 232.75,741.6 233.00,744.5 233.25,744.6 233.50,741.6 233.75,742.9 234.00,743.3 234.25,744.3 234.50,744.6 234.75,745.8 235.00,746.2 235.25,745.8 235.50,746.1 235.75,742.8 236.00,743.6 236.25,745.9 236.50,744.7 236.75,744.4 237.00,741.7 237.25,741.8 237.50,745.3 237.75,744.8 238.00,744.0 238.25,743.8 238.50,742.0 238.75,744.9 239.00,745.7 239.25,746.6 239.50,744.4 239.75,744.1 240.00,742.9 240.25,746.0 240.50,746.7 240.75,743.5 241.00,744.8 241.25,744.5 241.50,743.6 241.75,741.0 242.00,743.9 242.25,745.2 242.50,742.4 242.75,743.3 243.00,740.0 243.25,746.1 243.50,745.1 243.75,744.4 244.00,744.0 244.25,743.5 244.50,744.3 244.75,744.0 245.00,744.1 245.25,744.3 245.50,744.6 245.75,746.5 246.00,742.4 246.25,744.7 246.50,743.5 246.75,742.9 247.00,741.2 247.25,745.2 247.50,743.1 247.75,743.4 248.00,745.0 248.25,742.9 248.50,744.4 248.75,744.3 249.00,745.4 249.25,745.7 249.50,743.2 249.75,745.6 250.00,744.2 250.25,744.5 250.50,744.1 250.75,745.4 251.00,742.7 251.25,744.7 251.50,745.9 251.75,744.0 252.00,747.1 252.25,743.4 252.50,744.6 252.75,743.7 253.00,743.5 253.25,742.8 253.50,743.6 253.75,744.3 254.00,743.2 254.25,745.5 254.50,746.4 254.75,742.3 255.00,745.4 255.25,744.6 255.50,744.6 255.75,747.6 256.00,745.9 256.25,744.7 256.50,744.5 256.75,741.4 257.00,745.3 257.25,743.3 257.50,744.5 257.75,744.4 258.00,745.5 258.25,747.0 258.50,745.6 258.75,745.9 259.00,743.9 259.25,744.8 259.50,745.2 259.75,742.3 260.00,746.9 260.25,743.2 260.50,742.4 260.75,746.3 261.00,746.9 261.25,743.1 261.50,743.2 261.75,748.2 262.00,744.2 262.25,741.3 262.50,743.2 262.75,746.6 263.00,744.8 263.25,744.9 263.50,745.5 263.75,744.8 264.00,743.4 264.25,741.7 264.50,744.4 264.75,742.3 265.00,743.6 265.25,746.0 265.50,744.4 265.75,743.7 266.00,743.7 266.25,744.5 266.50,744.8 266.75,741.7 267.00,743.7 267.25,745.7 267.50,744.4 267.75,742.3 268.00,742.4 268.25,740.5 268.50,742.2 268.75,745.4 269.00,743.1 269.25,742.0 269.50,742.3 269.75,742.9 270.00,742.9 270.25,742.5 270.50,741.9 270.75,743.7 271.00,744.9 271.25,742.0 271.50,742.0 271.75,744.2 272.00,740.7 272.25,741.8 272.50,742.0 272.75,742.6 273.00,742.0 273.25,741.1 273.50,742.6 273.75,740.6 274.00,739.7 274.25,739.3 274.50,742.9 274.75,739.5 275.00,742.3 275.25,742.5 275.50,742.6 275.75,741.2 276.00,740.6 276.25,741.3 276.50,740.3 276.75,739.2 277.00,742.4 277.25,739.4 277.50,742.8 277.75,740.9 278.00,739.5 278.25,740.4 278.50,741.2 278.75,737.6 279.00,737.9 279.25,737.4 279.50,738.6 279.75,738.6 280.00,737.6 280.25,736.1 280.50,735.8 280.75,737.4 281.00,736.6 281.25,734.5 281.50,731.7 281.75,733.1 282.00,731.5 282.25,730.2 282.50,730.6 282.75,727.9 283.00,723.9 283.25,722.1 283.50,722.9 283.75,719.4 284.00,718.0 284.25,714.5 284.50,711.3 284.75,710.6 285.00,710.0 285.25,706.8 285.50,703.7 285.75,703.5 286.00,702.8 286.25,703.5 286.50,705.0 286.75,707.1 287.00,706.6 287.25,707.6 287.50,710.2 287.75,712.2 288.00,713.9 288.25,716.6 288.50,718.6 288.75,719.2 289.00,723.2 289.25,723.8 289.50,724.7 289.75,728.0 290.00,728.1 290.25,732.0 290.50,731.5 290.75,731.9 291.00,731.7 291.25,732.8 291.50,735.1 291.75,733.6 292.00,735.9 292.25,732.6 292.50,735.9 292.75,737.0 293.00,736.6 293.25,736.4 293.50,737.9 293.75,735.6 294.00,735.5 294.25,737.0 294.50,738.5 294.75,737.6 295.00,736.8 295.25,737.5 295.50,737.7 295.75,735.5 296.00,733.5 296.25,735.8 296.50,735.2 296.75,736.4 297.00,735.5 297.25,735.9 297.50,737.6 297.75,737.1 298.00,736.9 298.25,739.0 298.50,736.2 298.75,736.2 299.00,738.3 299.25,735.1 299.50,734.4 299.75,738.1 300.00,736.7 300.25,737.0 300.50,736.9 300.75,737.2 301.00,735.3 301.25,735.7 301.50,734.2 301.75,735.7 302.00,735.7 302.25,734.7 302.50,736.0 302.75,738.7 303.00,733.3 303.25,735.7 303.50,735.7 303.75,735.7 304.00,733.1 304.25,735.5 304.50,734.6 304.75,733.5 305.00,733.0 305.25,733.5 305.50,734.2 305.75,733.9 306.00,735.5 306.25,732.0 306.50,733.0 306.75,731.4 307.00,732.7 307.25,731.6 307.50,730.5 307.75,729.3 308.00,729.8 308.25,730.8 308.50,732.1 308.75,730.9 309.00,728.2 309.25,728.8 309.50,729.1 309.75,728.6 310.00,728.5 310.25,729.1 310.50,728.1 310.75,726.7 311.00,724.8 311.25,726.4 311.50,724.5 311.75,726.0 312.00,726.2 312.25,723.9 312.50,725.0 312.75,724.4 313.00,726.8 313.25,724.7 313.50,721.5 313.75,723.9 314.00,723.6 314.25,722.5 314.50,721.9 314.75,722.7 315.00,722.4 315.25,721.8 315.50,719.7 315.75,720.2 316.00,718.3 316.25,717.9 316.50,718.7 316.75,717.7 317.00,718.0 317.25,721.1 317.50,718.2 317.75,716.1 318.00,714.2 318.25,715.2 318.50,714.0 318.75,712.6 319.00,715.4 319.25,713.4 319.50,713.9 319.75,716.3 320.00,712.3 320.25,711.4 320.50,710.9 320.75,709.4 321.00,707.9 321.25,707.8 321.50,708.4 321.75,705.9 322.00,703.7 322.25,702.9 322.50,702.2 322.75,702.3 323.00,701.9 323.25,700.9 323.50,700.7 323.75,698.2 324.00,698.4 324.25,696.9 324.50,696.5 324.75,693.0 325.00,695.6 325.25,692.0 325.50,691.9 325.75,693.5 326.00,691.9 326.25,694.1 326.50,692.3 326.75,691.1 327.00,692.5 327.25,692.2 327.50,694.7 327.75,695.4 328.00,695.0 328.25,694.5 328.50,695.9 328.75,697.8 329.00,696.7 329.25,697.7 329.50,700.5 329.75,701.3 330.00,701.3 330.25,702.2 330.50,701.3 330.75,705.8 331.00,705.3 331.25,704.7 331.50,705.9 331.75,707.0 332.00,710.7 332.25,710.2 332.50,708.5 332.75,712.7 333.00,712.6 333.25,710.3 333.50,708.8 333.75,713.3 334.00,711.7 334.25,712.3 334.50,712.0 334.75,714.1 335.00,714.3 335.25,713.4 335.50,712.1 335.75,712.3 336.00,712.4 336.25,709.5 336.50,712.3 336.75,710.0 337.00,710.2 337.25,709.4 337.50,709.6 337.75,709.1 338.00,709.6 338.25,705.8 338.50,704.3 338.75,704.4 339.00,702.5 339.25,703.1 339.50,700.0 339.75,699.7 340.00,699.2 340.25,697.8 340.50,695.4 340.75,695.0 341.00,693.1 341.25,688.0 341.50,688.1 341.75,685.8 342.00,683.0 342.25,680.2 342.50,678.3 342.75,675.8 343.00,672.8 343.25,670.7 343.50,667.0 343.75,662.0 344.00,658.2 344.25,655.8 344.50,650.4 344.75,647.0 345.00,643.1 345.25,639.2 345.50,634.4 345.75,630.9 346.00,625.1 346.25,622.0 346.50,617.2 346.75,614.5 347.00,611.6 347.25,608.5 347.50,605.5 347.75,607.5 348.00,606.8 348.25,607.2 348.50,607.8 348.75,610.1 349.00,613.3 349.25,616.0 349.50,620.5 349.75,623.5 350.00,626.8 350.25,632.3 350.50,635.5 350.75,640.6 351.00,643.1 351.25,648.6 351.50,653.5 351.75,656.3 352.00,660.6 352.25,664.8 352.50,667.8 352.75,672.7 353.00,673.8 353.25,676.7 353.50,679.5 353.75,680.2 354.00,683.1 354.25,687.6 354.50,688.9 354.75,692.8 355.00,693.2 355.25,695.0 355.50,698.0 355.75,698.9 356.00,701.9 356.25,700.5 356.50,703.5 356.75,705.2 357.00,706.3 357.25,708.2 357.50,709.3 357.75,709.3 358.00,709.6 358.25,712.4 358.50,712.4 358.75,714.4 359.00,715.7 359.25,715.2 359.50,714.8 359.75,716.3 360.00,718.3 360.25,717.9 360.50,720.3 360.75,719.6 361.00,720.4 361.25,720.1 361.50,721.3 361.75,723.4 362.00,722.2 362.25,722.7 362.50,722.7 362.75,725.1 363.00,722.8 363.25,724.3 363.50,726.7 363.75,727.8 364.00,726.2 364.25,728.1 364.50,724.8 364.75,728.6 365.00,728.4 365.25,726.9 365.50,726.5 365.75,728.5 366.00,729.8 366.25,730.2 366.50,730.2 366.75,731.3 367.00,731.6 367.25,729.2 367.50,730.7 367.75,730.9 368.00,733.1 368.25,731.4 368.50,733.5 368.75,732.6 369.00,735.7 369.25,732.9 369.50,733.2 369.75,733.2 370.00,733.8 370.25,736.9 370.50,733.3 370.75,733.1 371.00,734.1 371.25,735.4 371.50,733.4 371.75,735.9 372.00,736.0 372.25,735.0 372.50,735.0 372.75,734.5 373.00,735.3 373.25,734.8 373.50,737.5 373.75,738.2 374.00,735.8 374.25,736.3 374.50,734.0 374.75,735.9 375.00,737.1 375.25,737.2 375.50,737.1 375.75,738.1 376.00,737.2 376.25,736.7 376.50,739.4 376.75,734.9 377.00,736.0 377.25,736.6 377.50,736.7 377.75,736.8 378.00,737.6 378.25,737.0 378.50,738.0 378.75,738.9 379.00,738.2 379.25,738.4 379.50,737.1 379.75,736.9 380.00,738.1 380.25,739.8 380.50,739.1 380.75,740.1 381.00,740.0 381.25,740.3 381.50,737.8 381.75,740.5 382.00,740.0 382.25,741.8 382.50,739.9 382.75,739.6 383.00,739.0 383.25,739.5 383.50,737.1 383.75,739.0 384.00,739.4 384.25,740.8 384.50,738.6 384.75,739.7 385.00,742.0 385.25,738.9 385.50,740.8 385.75,739.0 386.00,739.6 386.25,740.4 386.50,741.0 386.75,739.2 387.00,738.6 387.25,742.0 387.50,740.2 387.75,741.1 388.00,741.3 388.25,741.1 388.50,739.8 388.75,740.0 389.00,738.2 389.25,740.5 389.50,739.6 389.75,740.3 390.00,742.8 390.25,741.3 390.50,740.5 390.75,738.6 391.00,741.4 391.25,742.5 391.50,739.4 391.75,741.1 392.00,739.9 392.25,740.4 392.50,740.1 392.75,738.5 393.00,740.0 393.25,738.5 393.50,742.5 393.75,742.1 394.00,740.8 394.25,741.1 394.50,740.9 394.75,741.1 395.00,741.1 395.25,740.5 395.50,740.6 395.75,739.1 396.00,739.6 396.25,740.1 396.50,741.2 396.75,740.5 397.00,743.5 397.25,740.7 397.50,740.5 397.75,741.6 398.00,742.4 398.25,743.5 398.50,742.4 398.75,740.3 399.00,740.9 399.25,742.5 399.50,741.5 399.75,742.2 400.00,741.1 400.25,743.3 400.50,743.1 400.75,742.7 401.00,741.5 401.25,739.2 401.50,739.5 401.75,741.7 402.00,742.2 402.25,737.6 402.50,740.8 402.75,742.9 403.00,742.7 403.25,740.8 403.50,742.3 403.75,741.5 404.00,741.2 404.25,743.0 404.50,743.0 404.75,740.9 405.00,740.3 405.25,739.9 405.50,739.7 405.75,743.4 406.00,744.1 406.25,741.9 406.50,743.1 406.75,740.8 407.00,741.6 407.25,742.9 407.50,742.2 407.75,741.7 408.00,739.6 408.25,739.9 408.50,741.3 408.75,741.1 409.00,741.7 409.25,741.0 409.50,741.6 409.75,742.0 410.00,742.6 410.25,742.0 410.50,741.2 410.75,741.6 411.00,743.1 411.25,741.7 411.50,740.7 411.75,740.7 412.00,742.4 412.25,742.7 412.50,743.6 412.75,741.6 413.00,743.8 413.25,741.6 413.50,741.8 413.75,741.3 414.00,742.8 414.25,743.5 414.50,742.1 414.75,741.5 415.00,740.1 415.25,742.3 415.50,741.7 415.75,741.9 416.00,741.4 416.25,741.0 416.50,741.6 416.75,742.8 417.00,743.5 417.25,742.2 417.50,742.7 417.75,742.0 418.00,742.1 418.25,740.5 418.50,743.4 418.75,743.1 419.00,744.2 419.25,741.5 419.50,742.5 419.75,741.1 420.00,742.6 420.25,742.2 420.50,743.2 420.75,742.2 421.00,743.2 421.25,741.7 421.50,743.2 421.75,742.0 422.00,741.8 422.25,742.5 422.50,742.9 422.75,740.6 423.00,740.5 423.25,742.7 423.50,742.4 423.75,739.8 424.00,740.3 424.25,741.5 424.50,742.9 424.75,742.8 425.00,743.8 425.25,744.1 425.50,745.6 425.75,740.7 426.00,742.5 426.25,743.9 426.50,740.9 426.75,740.7 427.00,742.8 427.25,744.0 427.50,744.2 427.75,740.3 428.00,741.0 428.25,742.5 428.50,741.9 428.75,743.1 429.00,742.8 429.25,745.0 429.50,742.6 429.75,742.9 430.00,742.8 430.25,744.1 430.50,741.2 430.75,743.2 431.00,741.7 431.25,740.9 431.50,744.3 431.75,743.4 432.00,744.6 432.25,743.1 432.50,743.6 432.75,742.9 433.00,743.5 433.25,742.2 433.50,745.0 433.75,741.6 434.00,745.0 434.25,742.6 434.50,744.0 434.75,743.0 435.00,743.4 435.25,744.8 435.50,743.0 435.75,741.6 436.00,743.2 436.25,743.7 436.50,739.7 436.75,744.2 437.00,744.3 437.25,740.6 437.50,742.7 437.75,744.0 438.00,741.4 438.25,742.4 438.50,742.5 438.75,743.7 439.00,744.4 439.25,742.9 439.50,743.0 439.75,744.2 440.00,743.7 440.25,742.8 440.50,744.7 440.75,741.1 441.00,743.2 441.25,742.4 441.50,742.3 441.75,743.3 442.00,743.1 442.25,746.3 442.50,743.9 442.75,743.5 443.00,745.2 443.25,744.4 443.50,740.6 443.75,743.2 444.00,744.0 444.25,742.2 444.50,743.4 444.75,742.4 445.00,743.6 445.25,740.9 445.50,740.5 445.75,742.3 446.00,743.4 446.25,744.8 446.50,742.7 446.75,742.1 447.00,744.3 447.25,743.1 447.50,745.5 447.75,743.0 448.00,740.5 448.25,742.0 448.50,741.8 448.75,741.3 449.00,742.1 449.25,742.2 449.50,742.7 449.75,742.4 450.00,743.7 450.25,743.7 450.50,743.4 450.75,743.4 451.00,740.6 451.25,740.9 451.50,742.0 451.75,743.5 452.00,741.2 452.25,742.6 452.50,743.5 452.75,745.8 453.00,743.5 453.25,742.4 453.50,744.6 453.75,743.4 454.00,742.8 454.25,744.6 454.50,741.9 454.75,743.4 455.00,743.3 455.25,744.4 455.50,741.6 455.75,741.4 456.00,742.6 456.25,742.8 456.50,743.2 456.75,742.7 457.00,743.7 457.25,744.1 457.50,743.5 457.75,741.8 458.00,744.7 458.25,741.1 458.50,742.9 458.75,744.4 459.00,742.4 459.25,744.9 459.50,745.7 459.75,745.3 460.00,743.8 460.25,744.5 460.50,742.5 460.75,743.7 461.00,743.8 461.25,743.3 461.50,743.4 461.75,742.9 462.00,740.6 462.25,743.7 462.50,743.6 462.75,745.9 463.00,744.2 463.25,743.3 463.50,744.4 463.75,744.0 464.00,743.2 464.25,742.7 464.50,741.2 464.75,743.4 465.00,745.4 465.25,740.7 465.50,741.9 465.75,744.2 466.00,743.5 466.25,743.8 466.50,740.7 466.75,742.4 467.00,743.9 467.25,744.0 467.50,743.6 467.75,742.0 468.00,743.9 468.25,741.6 468.50,742.0 468.75,741.7 469.00,745.1 469.25,742.7 469.50,743.3 469.75,740.3 470.00,744.7 470.25,743.8 470.50,741.0 470.75,741.1 471.00,745.4 471.25,741.9 471.50,745.7 471.75,742.6 472.00,739.9 472.25,744.7 472.50,743.9 472.75,744.1 473.00,742.5 473.25,742.9 473.50,744.5 473.75,742.1 474.00,740.5 474.25,744.4 474.50,742.3 474.75,744.9 475.00,742.5 475.25,742.6 475.50,742.8 475.75,740.0 476.00,744.7 476.25,742.3 476.50,742.9 476.75,745.1 477.00,743.3 477.25,744.3 477.50,743.5 477.75,744.1 478.00,743.5 478.25,744.6 478.50,742.8 478.75,743.7 479.00,742.1 479.25,744.6 479.50,740.1 479.75,743.3 480.00,743.5 480.25,743.5 480.50,743.0 480.75,744.8 481.00,745.8 481.25,742.2 481.50,740.4 481.75,741.5 482.00,741.8 482.25,742.7 482.50,742.8 482.75,744.3 483.00,742.3 483.25,742.8 483.50,743.0 483.75,741.6 484.00,742.4 484.25,746.5 484.50,742.6 484.75,741.5 485.00,739.8 485.25,744.1 485.50,742.3 485.75,741.8 486.00,745.9 486.25,744.5 486.50,740.3 486.75,742.1 487.00,743.9 487.25,743.6 487.50,741.0 487.75,744.8 488.00,744.9 488.25,740.9 488.50,740.0 488.75,740.5 489.00,743.2 489.25,743.7 489.50,742.4 489.75,741.4 490.00,742.0 490.25,742.8 490.50,740.4 490.75,739.7 491.00,741.8 491.25,743.5 491.50,742.0 491.75,742.0 492.00,740.8 492.25,742.8 492.50,739.3 492.75,741.4 493.00,740.6 493.25,741.1 493.50,740.0 493.75,742.1 494.00,740.9 494.25,740.1 494.50,741.5 494.75,740.6 495.00,739.9 495.25,739.7 495.50,741.4 495.75,738.9 496.00,739.8 496.25,739.5 496.50,740.2 496.75,739.3 497.00,742.2 497.25,736.9 497.50,739.8 497.75,738.8 498.00,740.1 498.25,736.3 498.50,739.8 498.75,736.1 499.00,738.6 499.25,738.1 499.50,737.2 499.75,735.9 500.00,735.5 500.25,736.4 500.50,735.0 500.75,733.1 501.00,733.0 501.25,736.0 501.50,735.7 501.75,735.0 502.00,734.0 502.25,734.1 502.50,733.9 502.75,733.2 503.00,731.5 503.25,731.2 503.50,730.3 503.75,731.6 504.00,729.9 504.25,730.6 504.50,732.2 504.75,729.8 505.00,731.3 505.25,731.9 505.50,727.5 505.75,727.8 506.00,730.2 506.25,728.6 506.50,730.2 506.75,730.5 507.00,729.1 507.25,730.9 507.50,732.2 507.75,731.4 508.00,729.4 508.25,730.5 508.50,730.3 508.75,733.3 509.00,731.4 509.25,731.1 509.50,732.4 509.75,733.4 510.00,732.6 510.25,733.6 510.50,733.8 510.75,735.1 511.00,735.7 511.25,735.2 511.50,734.6 511.75,736.0 512.00,734.6 512.25,737.5 512.50,736.8 512.75,737.0 513.00,733.8 513.25,740.2 513.50,739.3 513.75,739.3 514.00,738.0 514.25,738.9 514.50,741.9 514.75,737.5 515.00,739.5 515.25,739.4 515.50,739.0 515.75,739.3 516.00,737.7 516.25,739.9 516.50,737.4 516.75,741.6 517.00,740.3 517.25,738.1 517.50,736.5 517.75,739.4 518.00,739.9 518.25,737.9 518.50,741.4 518.75,739.5 519.00,738.5 519.25,737.2 519.50,738.8 519.75,738.6 520.00,739.6 520.25,740.1 520.50,738.6 520.75,739.1 521.00,740.2 521.25,739.0 521.50,737.8 521.75,738.8 522.00,737.2 522.25,738.4 522.50,737.7 522.75,736.1 523.00,738.2 523.25,737.4 523.50,738.2 523.75,735.4 524.00,738.5 524.25,738.5 524.50,736.5 524.75,736.8 525.00,736.9 525.25,736.8 525.50,737.9 525.75,735.9 526.00,735.4 526.25,736.6 526.50,739.4 526.75,736.5 527.00,735.7 527.25,735.9 527.50,737.4 527.75,738.9 528.00,736.5 528.25,737.8 528.50,738.0 528.75,738.5 529.00,738.2 529.25,739.5 529.50,739.2 529.75,737.7 530.00,741.9 530.25,737.1 530.50,737.4 530.75,740.6 531.00,739.7 531.25,739.3 531.50,740.1 531.75,741.0 532.00,739.7 532.25,739.6 532.50,739.2 532.75,739.6 533.00,739.9 533.25,742.6 533.50,741.7 533.75,742.2 534.00,740.8 534.25,743.1 534.50,739.8 534.75,742.6 535.00,743.1 535.25,741.5 535.50,741.0 535.75,743.2 536.00,741.6 536.25,741.5 536.50,742.7 536.75,741.3 537.00,742.7 537.25,745.7 537.50,742.4 537.75,744.3 538.00,741.7 538.25,743.3 538.50,742.9 538.75,743.1 539.00,744.3 539.25,746.2 539.50,743.2 539.75,745.2 540.00,743.9 540.25,744.4 540.50,742.9 540.75,742.6 541.00,743.2 541.25,742.5 541.50,743.5 541.75,742.1 542.00,743.6 542.25,743.8 542.50,746.0 542.75,745.9 543.00,744.3 543.25,742.9 543.50,744.5 543.75,744.7 544.00,743.4 544.25,742.5 544.50,741.2 544.75,743.6 545.00,746.3 545.25,743.4 545.50,744.2 545.75,744.2 546.00,744.3 546.25,744.7 546.50,741.0 546.75,743.5 547.00,744.2 547.25,743.6 547.50,745.3 547.75,743.2 548.00,745.0 548.25,746.1 548.50,743.4 548.75,743.8 549.00,743.3 549.25,744.8 549.50,740.9 549.75,741.8 550.00,743.4 550.25,744.9 550.50,744.6 550.75,742.7 551.00,745.9 551.25,743.9 551.50,742.9 551.75,744.5 552.00,745.5 552.25,743.7 552.50,741.7 552.75,743.0 553.00,743.9 553.25,745.1 553.50,742.4 553.75,744.1 554.00,742.2 554.25,743.9 554.50,742.0 554.75,743.2 555.00,741.7 555.25,742.5 555.50,741.7 555.75,741.2 556.00,745.5 556.25,745.4 556.50,744.5 556.75,743.3 557.00,745.8 557.25,743.4 557.50,744.4 557.75,745.4 558.00,744.1 558.25,745.8 558.50,743.6 558.75,743.6 559.00,744.0 559.25,742.3 559.50,742.4 559.75,744.9 560.00,741.5 560.25,745.4 560.50,744.2 560.75,745.4 561.00,744.9 561.25,744.7 561.50,746.2 561.75,743.7 562.00,743.7 562.25,745.4 562.50,743.0 562.75,745.4 563.00,744.8 563.25,743.2 563.50,742.1 563.75,741.1 564.00,746.4 564.25,741.8 564.50,742.2 564.75,745.0 565.00,744.5 565.25,744.1 565.50,743.9 565.75,743.3 566.00,742.6 566.25,742.8 566.50,744.6 566.75,745.3 567.00,745.4 567.25,743.8 567.50,740.8 567.75,744.5 568.00,743.6 568.25,740.2 568.50,745.7 568.75,744.1 569.00,743.7 569.25,744.1 569.50,744.0 569.75,744.1 570.00,744.0 570.25,743.8 570.50,744.6 570.75,744.3 571.00,747.1 571.25,744.0 571.50,743.1 571.75,743.0 572.00,744.3 572.25,744.0 572.50,744.2 572.75,743.6 573.00,743.6 573.25,744.8 573.50,745.7 573.75,744.3 574.00,743.7 574.25,742.3 574.50,742.2 574.75,743.9 575.00,743.5 575.25,743.7 575.50,742.3 575.75,743.6 576.00,741.2 576.25,742.2 576.50,742.7 576.75,744.6 577.00,742.9 577.25,742.5 577.50,744.1 577.75,743.6 578.00,745.0 578.25,744.2 578.50,744.0 578.75,743.4 579.00,744.6 579.25,742.7 579.50,741.6 579.75,744.9 580.00,743.0 580.25,743.7 580.50,744.5 580.75,745.0 581.00,739.7 581.25,742.2 581.50,745.3 581.75,741.3 582.00,744.3 582.25,743.1 582.50,742.4 582.75,743.4 583.00,741.3 583.25,744.2 583.50,745.2 583.75,741.7 584.00,742.7 584.25,745.2 584.50,744.1 584.75,743.2 585.00,745.5 585.25,741.3 585.50,743.2 585.75,743.7 586.00,743.1 586.25,744.6 586.50,741.3 586.75,743.6 587.00,742.5 587.25,745.2 587.50,744.9 587.75,742.5 588.00,742.0 588.25,743.5 588.50,742.3 588.75,742.7 589.00,744.1 589.25,742.9 589.50,745.9 589.75,743.6 590.00,742.8 590.25,742.0 590.50,742.8 590.75,744.9 591.00,744.2 591.25,745.4 591.50,745.2 591.75,744.2 592.00,742.5 592.25,743.2 592.50,743.5 592.75,741.2 593.00,743.8 593.25,742.0 593.50,743.2 593.75,742.7 594.00,744.1 594.25,746.9 594.50,741.7 594.75,743.3 595.00,746.1 595.25,742.0 595.50,743.0 595.75,743.1 596.00,743.7 596.25,741.1 596.50,743.6 596.75,744.0 597.00,746.6 597.25,743.1 597.50,742.4 597.75,743.4 598.00,739.6 598.25,743.6 598.50,745.2 598.75,743.1 599.00,743.1 599.25,742.8 599.50,743.3 599.75,741.4 600.00,745.1 600.25,742.4 600.50,742.4 600.75,745.2 601.00,743.0 601.25,742.4 601.50,745.2 601.75,743.2 602.00,744.2 602.25,742.1 602.50,740.5 602.75,743.1 603.00,744.7 603.25,742.1 603.50,743.2 603.75,743.7 604.00,743.0 604.25,742.8 604.50,743.7 604.75,742.9 605.00,741.8 605.25,743.9 605.50,743.6 605.75,743.0 606.00,743.4 606.25,738.8 606.50,742.7 606.75,742.3 607.00,739.6 607.25,745.0 607.50,742.6 607.75,741.5 608.00,741.5 608.25,742.4 608.50,741.9 608.75,739.7 609.00,741.3 609.25,742.3 609.50,742.5 609.75,742.8 610.00,740.1 610.25,740.6 610.50,741.9 610.75,740.5 611.00,741.5 611.25,740.0 611.50,741.8 611.75,741.0 612.00,741.5 612.25,740.7 612.50,739.4 612.75,738.7 613.00,740.2 613.25,739.2 613.50,737.8 613.75,738.9 614.00,740.4 614.25,740.8 614.50,739.9 614.75,740.4 615.00,737.8 615.25,737.8 615.50,736.4 615.75,736.2 616.00,738.9 616.25,736.9 616.50,736.7 616.75,738.8 617.00,737.3 617.25,733.1 617.50,734.8 617.75,731.9 618.00,733.4 618.25,728.9 618.50,729.3 618.75,728.4 619.00,731.1 619.25,725.4 619.50,728.0 619.75,726.8 620.00,724.5 620.25,724.2 620.50,725.1 620.75,721.0 621.00,719.0 621.25,719.6 621.50,717.6 621.75,713.9 622.00,714.2 622.25,713.0 622.50,710.0 622.75,708.9 623.00,708.1 623.25,706.3 623.50,707.3 623.75,706.2 624.00,702.5 624.25,704.0 624.50,704.2 624.75,702.2 625.00,703.4 625.25,704.2 625.50,702.2 625.75,704.3 626.00,702.6 626.25,706.9 626.50,706.2 626.75,706.4 627.00,707.0 627.25,708.5 627.50,713.2 627.75,712.0 628.00,713.7 628.25,715.2 628.50,715.2 628.75,719.3 629.00,716.6 629.25,722.1 629.50,721.3 629.75,723.5 630.00,725.0 630.25,726.8 630.50,725.2 630.75,728.6 631.00,728.7 631.25,729.5 631.50,730.2 631.75,732.8 632.00,732.8 632.25,734.5 632.50,734.8 632.75,731.6 633.00,734.7 633.25,736.7 633.50,734.7 633.75,734.1 634.00,733.7 634.25,739.8 634.50,736.3 634.75,738.1 635.00,736.8 635.25,739.0 635.50,741.0 635.75,737.1 636.00,739.1 636.25,738.4 636.50,737.1 636.75,738.6 637.00,740.0 637.25,741.8 637.50,742.0 637.75,740.4 638.00,738.3 638.25,741.6 638.50,740.8 638.75,740.9 639.00,739.4 639.25,740.8 639.50,743.8 639.75,743.3 640.00,743.0 640.25,742.3 640.50,740.9 640.75,741.5 641.00,741.8 641.25,742.2 641.50,741.2 641.75,740.6 642.00,743.3 642.25,741.3 642.50,743.0 642.75,741.7 643.00,742.9 643.25,742.7 643.50,743.1 643.75,743.0 644.00,740.8 644.25,740.3 644.50,742.1 644.75,744.5 645.00,741.1 645.25,741.0 645.50,745.4 645.75,740.2 646.00,741.6 646.25,741.9 646.50,741.5 646.75,741.6 647.00,744.0 647.25,742.8 647.50,742.8 647.75,740.3 648.00,743.7 648.25,742.8 648.50,742.8 648.75,743.8 649.00,743.1 649.25,742.6 649.50,743.3 649.75,741.7 650.00,741.5 650.25,740.9 650.50,744.1 650.75,741.9 651.00,743.0 651.25,744.3 651.50,745.3 651.75,742.3 652.00,743.1 652.25,743.0 652.50,741.1 652.75,742.2 653.00,746.7 653.25,742.8 653.50,745.3 653.75,743.9 654.00,745.3 654.25,744.7 654.50,743.2 654.75,741.2 655.00,744.9 655.25,743.9 655.50,743.6 655.75,744.2 656.00,741.9 656.25,743.2 656.50,743.0 656.75,741.0 657.00,741.4 657.25,742.8 657.50,740.0 657.75,744.0 658.00,744.1 658.25,742.9 658.50,743.4 658.75,740.5 659.00,743.3 659.25,744.1 659.50,743.7 659.75,744.3 660.00,743.0 660.25,745.8 660.50,743.7 660.75,744.2 661.00,744.6 661.25,742.0 661.50,741.5 661.75,744.2 662.00,741.4 662.25,742.3 662.50,744.4 662.75,741.6 663.00,741.8 663.25,741.4 663.50,741.7 663.75,745.7 664.00,743.9 664.25,744.4 664.50,740.5 664.75,739.8 665.00,741.5 665.25,744.6 665.50,744.7 665.75,740.4 666.00,740.7 666.25,744.0 666.50,743.5 666.75,743.7 667.00,744.0 667.25,741.7 667.50,743.3 667.75,742.7 668.00,744.8 668.25,742.7 668.50,740.5 668.75,744.9 669.00,745.6 669.25,744.5 669.50,742.7 669.75,741.8 670.00,744.5 670.25,742.4 670.50,743.8 670.75,744.2 671.00,742.9 671.25,740.4 671.50,743.8 671.75,741.7 672.00,741.0 672.25,743.1 672.50,743.3 672.75,743.0 673.00,744.0 673.25,740.5 673.50,743.9 673.75,745.3 674.00,743.0 674.25,742.4 674.50,742.9 674.75,744.8 675.00,742.9 675.25,742.0 675.50,740.8 675.75,745.0 676.00,745.1 676.25,743.1 676.50,746.0 676.75,742.6 677.00,744.1 677.25,741.3 677.50,741.7 677.75,743.1 678.00,743.8 678.25,744.0 678.50,741.9 678.75,742.4 679.00,743.0 679.25,742.7 679.50,742.8 679.75,744.2 680.00,744.7 680.25,740.6 680.50,744.9 680.75,743.4 681.00,743.6 681.25,743.6 681.50,744.4 681.75,744.1 682.00,741.0 682.25,744.3 682.50,741.6 682.75,743.6 683.00,743.4 683.25,741.0 683.50,743.1 683.75,742.7 684.00,742.2 684.25,745.9 684.50,743.3 684.75,742.6 685.00,745.5 685.25,743.0 685.50,742.9 685.75,740.3 686.00,743.9 686.25,744.4 686.50,745.7 686.75,741.7 687.00,744.5 687.25,745.0 687.50,744.1 687.75,743.1 688.00,740.8 688.25,743.3 688.50,742.3 688.75,740.7 689.00,743.9 689.25,742.9 689.50,742.7 689.75,745.7 690.00,742.3 690.25,740.2 690.50,740.0 690.75,743.7 691.00,742.7 691.25,742.0 691.50,740.1 691.75,741.9 692.00,741.4 692.25,742.8 692.50,741.8 692.75,741.8 693.00,742.9 693.25,741.9 693.50,743.4 693.75,738.3 694.00,741.2 694.25,744.6 694.50,743.2 694.75,741.4 695.00,742.6 695.25,742.1 695.50,742.4 695.75,744.8 696.00,742.3 696.25,743.1 696.50,741.7 696.75,741.8 697.00,740.7 697.25,741.9 697.50,742.3 697.75,742.4 698.00,742.9 698.25,742.9 698.50,743.7 698.75,742.5 699.00,744.6 699.25,743.6 699.50,744.6 699.75,742.7 700.00,744.4 700.25,742.9 700.50,740.5 700.75,742.7 701.00,742.5 701.25,740.7 701.50,741.3 701.75,741.8 702.00,745.8 702.25,743.1 702.50,745.1 702.75,743.9 703.00,744.1 703.25,743.7 703.50,740.5 703.75,744.3 704.00,741.2 704.25,743.1 704.50,742.4 704.75,744.7 705.00,744.1 705.25,744.9 705.50,743.0 705.75,742.4 706.00,743.3 706.25,745.5 706.50,742.9 706.75,742.2 707.00,740.5 707.25,741.1 707.50,741.9 707.75,742.8 708.00,742.7 708.25,741.6 708.50,741.9 708.75,743.7 709.00,744.0 709.25,743.0 709.50,743.3 709.75,742.8 710.00,743.5 710.25,739.2 710.50,740.1 710.75,740.9 711.00,740.9 711.25,742.0 711.50,737.6 711.75,740.0 712.00,740.0 712.25,738.5 712.50,739.0 712.75,740.2 713.00,739.2 713.25,738.2 713.50,738.3 713.75,737.6 714.00,738.7 714.25,737.0 714.50,738.1 714.75,735.8 715.00,736.1 715.25,734.3 715.50,735.2 715.75,736.2 716.00,733.4 716.25,733.9 716.50,734.1 716.75,733.1 717.00,734.3 717.25,731.2 717.50,733.5 717.75,733.8 718.00,733.8 718.25,731.3 718.50,730.0 718.75,728.7 719.00,731.3 719.25,731.2 719.50,730.2 719.75,730.1 720.00,730.3 720.25,728.8 720.50,727.2 720.75,727.2 721.00,727.9 721.25,727.7 721.50,726.8 721.75,728.3 722.00,727.5 722.25,729.8 722.50,729.0 722.75,730.2 723.00,727.7 723.25,728.2 723.50,727.8 723.75,730.4 724.00,734.3 724.25,730.9 724.50,730.4 724.75,731.5 725.00,731.6 725.25,733.2 725.50,732.3 725.75,731.5 726.00,730.6 726.25,733.9 726.50,735.1 726.75,734.4 727.00,733.4 727.25,734.3 727.50,734.9 727.75,736.4 728.00,735.9 728.25,737.9 728.50,736.4 728.75,736.1 729.00,739.7 729.25,736.3 729.50,736.9 729.75,741.0 730.00,738.8 730.25,741.1 730.50,735.7 730.75,740.9 731.00,739.4 731.25,739.8 731.50,740.5 731.75,736.4 732.00,739.0 732.25,741.0 732.50,744.9 732.75,739.7 733.00,744.0 733.25,741.8 733.50,742.5 733.75,739.9 734.00,742.1 734.25,740.2 734.50,739.9 734.75,743.3 735.00,740.7 735.25,741.0 735.50,742.7 735.75,740.7 736.00,740.2 736.25,742.3 736.50,742.4 736.75,744.1 737.00,740.5 737.25,743.1 737.50,743.1 737.75,741.6 738.00,742.0 738.25,742.2 738.50,740.8 738.75,740.5 739.00,743.2 739.25,740.8 739.50,741.0 739.75,743.4 740.00,741.6 740.25,741.8 740.50,740.4 740.75,740.7 741.00,740.5 741.25,740.5 741.50,744.0 741.75,741.0 742.00,739.2 742.25,740.8 742.50,743.3 742.75,740.8 743.00,742.3 743.25,741.1 743.50,740.0 743.75,741.6 744.00,740.9 744.25,742.6 744.50,743.3 744.75,742.2 745.00,745.9 745.25,740.9 745.50,744.1 745.75,742.9 746.00,744.2 746.25,743.0 746.50,739.2 746.75,741.9 747.00,743.7 747.25,742.3 747.50,740.5 747.75,741.5 748.00,742.7 748.25,743.9 748.50,741.4 748.75,742.3 749.00,740.9 749.25,740.5 749.50,741.4 749.75,743.9 750.00,743.1 750.25,741.7 750.50,742.0 750.75,742.7 751.00,741.8 751.25,741.3 751.50,741.5 751.75,742.7 752.00,741.3 752.25,742.8 752.50,739.2 752.75,740.6 753.00,741.0 753.25,742.3 753.50,740.2 753.75,740.6 754.00,741.7 754.25,741.1 754.50,740.2 754.75,740.6 755.00,739.7 755.25,742.0 755.50,741.4 755.75,741.8 756.00,743.6 756.25,742.2 756.50,741.1 756.75,740.2 757.00,743.2 757.25,740.4 757.50,739.7 757.75,741.6 758.00,740.4 758.25,739.4 758.50,740.2 758.75,742.1 759.00,739.6 759.25,739.9 759.50,738.1 759.75,738.5 760.00,740.3 760.25,738.9 760.50,739.1 760.75,740.3 761.00,738.3 761.25,740.8 761.50,737.8 761.75,737.6 762.00,737.5 762.25,736.5 762.50,739.2 762.75,738.5 763.00,740.2 763.25,737.4 763.50,739.4 763.75,740.1 764.00,738.1 764.25,738.1 764.50,735.1 764.75,741.0 765.00,738.2 765.25,739.3 765.50,737.8 765.75,739.0 766.00,737.0 766.25,739.6 766.50,738.7 766.75,738.2 767.00,739.3 767.25,736.3 767.50,739.0 767.75,738.2 768.00,740.7 768.25,739.9 768.50,738.6 768.75,738.5 769.00,742.8 769.25,737.6 769.50,741.4 769.75,740.1 770.00,739.9 770.25,736.3 770.50,739.9 770.75,738.1 771.00,737.6 771.25,739.5 771.50,737.7 771.75,739.3 772.00,737.2 772.25,739.1 772.50,738.8 772.75,737.0 773.00,736.7 773.25,736.9 773.50,736.9 773.75,736.6 774.00,739.6 774.25,737.5 774.50,736.2 774.75,736.0 775.00,735.1 775.25,736.2 775.50,735.4 775.75,734.2 776.00,733.8 776.25,733.7 776.50,732.4 776.75,733.4 777.00,731.6 777.25,732.9 777.50,731.2 777.75,731.7 778.00,729.6 778.25,727.3 778.50,727.3 778.75,727.8 779.00,727.8 779.25,727.0 779.50,726.3 779.75,725.6 780.00,724.2 780.25,723.3 780.50,721.5 780.75,721.4 781.00,719.6 781.25,718.5 781.50,717.8 781.75,719.2 782.00,713.6 782.25,713.7 782.50,712.8 782.75,712.6 783.00,711.1 783.25,712.0 783.50,707.3 783.75,710.4 784.00,706.1 784.25,706.0 784.50,706.9 784.75,705.8 785.00,705.4 785.25,705.3 785.50,705.5 785.75,706.2 786.00,705.8 786.25,704.2 786.50,705.2 786.75,708.1 787.00,709.3 787.25,708.9 787.50,709.8 787.75,709.8 788.00,712.7 788.25,710.6 788.50,711.8 788.75,712.2 789.00,715.9 789.25,714.4 789.50,716.6 789.75,715.3 790.00,716.0 790.25,719.8 790.50,720.3 790.75,721.3 791.00,721.2 791.25,721.3 791.50,721.8 791.75,721.5 792.00,722.9 792.25,725.5 792.50,724.1 792.75,723.0 793.00,724.6 793.25,723.9 793.50,723.9 793.75,725.3 794.00,724.6 794.25,724.0 794.50,727.5 794.75,727.7 795.00,725.6 795.25,727.1 795.50,724.5 795.75,724.8 796.00,726.3 796.25,724.7 796.50,725.1 796.75,720.4 797.00,723.9 797.25,722.7 797.50,722.9 797.75,720.9 798.00,721.6 798.25,723.1 798.50,723.0 798.75,723.2 799.00,723.3 799.25,723.6 799.50,722.9 799.75,722.4 800.00,722.2 800.25,722.8 800.50,722.5 800.75,722.9 801.00,724.5 801.25,722.4 801.50,724.2 801.75,725.3 802.00,727.6 802.25,728.9 802.50,728.6 802.75,728.8 803.00,728.8 803.25,731.5 803.50,731.6 803.75,730.4 804.00,731.8 804.25,732.9 804.50,734.1 804.75,733.0 805.00,735.9 805.25,735.9 805.50,734.3 805.75,735.0 806.00,734.5 806.25,734.9 806.50,736.9 806.75,738.6 807.00,739.0 807.25,737.7 807.50,737.2 807.75,737.1 808.00,738.8 808.25,737.9 808.50,739.6 808.75,738.7 809.00,739.5 809.25,738.6 809.50,742.1 809.75,741.1 810.00,739.8 810.25,738.7 810.50,740.7 810.75,741.1 811.00,738.7 811.25,740.4 811.50,743.1 811.75,740.7 812.00,740.1 812.25,741.4 812.50,743.2 812.75,740.2 813.00,740.3 813.25,740.6 813.50,741.1 813.75,742.6 814.00,741.6 814.25,738.2 814.50,741.8 814.75,741.8 815.00,742.2 815.25,741.7 815.50,741.2 815.75,742.1 816.00,740.6 816.25,739.3 816.50,741.1 816.75,740.1 817.00,743.9 817.25,741.5 817.50,743.8 817.75,739.9 818.00,740.1 818.25,742.3 818.50,739.5 818.75,740.9 819.00,739.2 819.25,742.4 819.50,739.5 819.75,741.7 820.00,739.5 820.25,742.5 820.50,743.3 820.75,742.1 821.00,740.6 821.25,742.5 821.50,743.3 821.75,743.0 822.00,743.7 822.25,744.6 822.50,742.4 822.75,741.7 823.00,741.2 823.25,742.1 823.50,741.8 823.75,741.4 824.00,742.6 824.25,744.8 824.50,741.1 824.75,741.5 825.00,741.7 825.25,740.8 825.50,743.6 825.75,742.0 826.00,743.0 826.25,740.1 826.50,743.0 826.75,742.1 827.00,740.3 827.25,743.4 827.50,743.5 827.75,742.6 828.00,742.9 828.25,741.0 828.50,743.7 828.75,742.0 829.00,743.0 829.25,743.1 829.50,743.0 829.75,741.4 830.00,742.7 830.25,742.6 830.50,744.0 830.75,741.4 831.00,743.7 831.25,743.0 831.50,742.5 831.75,745.0 832.00,743.5 832.25,741.7 832.50,742.8 832.75,741.4 833.00,740.9 833.25,741.8 833.50,741.8 833.75,744.8 834.00,743.6 834.25,739.2 834.50,742.3 834.75,741.5 835.00,742.3 835.25,742.7 835.50,742.6 835.75,743.1 836.00,741.5 836.25,744.4 836.50,742.3 836.75,744.2 837.00,742.4 837.25,743.2 837.50,741.2 837.75,744.0 838.00,742.9 838.25,742.0 838.50,743.1 838.75,743.2 839.00,740.5 839.25,741.6 839.50,741.2 839.75,743.7 840.00,742.8 840.25,741.7 840.50,741.6 840.75,742.5 841.00,739.5 841.25,742.4 841.50,744.7 841.75,740.7 842.00,741.0 842.25,741.1 842.50,743.2 842.75,741.6 843.00,745.1 843.25,742.3 843.50,741.9 843.75,741.1 844.00,743.5 844.25,744.1 844.50,742.9 844.75,744.4 845.00,744.3 845.25,743.1 845.50,742.7 845.75,741.9 846.00,743.0 846.25,742.2 846.50,744.7 846.75,743.7 847.00,742.4 847.25,742.1 847.50,743.2 847.75,744.1 848.00,743.1 848.25,744.1 848.50,742.1 848.75,743.0 849.00,743.6 849.25,743.0 849.50,743.2 849.75,744.1 850.00,742.7 850.25,744.1 850.50,742.0 850.75,743.4 851.00,742.2 851.25,742.2 851.50,743.6 851.75,744.5 852.00,742.6 852.25,742.9 852.50,744.6 852.75,741.7 853.00,744.0 853.25,741.3 853.50,740.3 853.75,743.3 854.00,742.4 854.25,742.2 854.50,739.6 854.75,743.3 855.00,742.2 855.25,741.3 855.50,742.7 855.75,741.2 856.00,741.8 856.25,741.7 856.50,744.1 856.75,742.7 857.00,744.6 857.25,741.7 857.50,741.2 857.75,745.2 858.00,741.0 858.25,744.5 858.50,741.4 858.75,743.8 859.00,741.8 859.25,744.9 859.50,745.5 859.75,744.3 860.00,743.3 860.25,742.4 860.50,743.9 860.75,745.7 861.00,742.3 861.25,741.4 861.50,745.3 861.75,742.6 862.00,743.9 862.25,743.2 862.50,743.3 862.75,742.5 863.00,742.7 863.25,740.7 863.50,742.2 863.75,741.8 864.00,744.5 864.25,742.5 864.50,743.1 864.75,740.7 865.00,743.0 865.25,745.0 865.50,743.2 865.75,744.1 866.00,742.5 866.25,742.1 866.50,744.2 866.75,742.4 867.00,741.5 867.25,742.8 867.50,742.4 867.75,744.4 868.00,743.9 868.25,741.0 868.50,743.7 868.75,741.2 869.00,743.2 869.25,743.7 869.50,742.3 869.75,742.3 870.00,744.0 870.25,742.6 870.50,741.5 870.75,745.2 871.00,744.2 871.25,743.6 871.50,743.5 871.75,744.4 872.00,743.1 872.25,744.1 872.50,743.5 872.75,742.1 873.00,744.5 873.25,743.3 873.50,741.9 873.75,742.4 874.00,739.8 874.25,740.8 874.50,741.1 874.75,744.0 875.00,743.9 875.25,744.6 875.50,743.6 875.75,745.3 876.00,742.4 876.25,742.0 876.50,741.8 876.75,743.3 877.00,742.1 877.25,741.8 877.50,742.3 877.75,743.2 878.00,741.2 878.25,743.0 878.50,742.9 878.75,745.2 879.00,743.2 879.25,741.2 879.50,743.3 879.75,743.2 880.00,741.3 880.25,738.9 880.50,744.0 880.75,742.7 881.00,742.0 881.25,742.7 881.50,744.7 881.75,745.3 882.00,742.3 882.25,745.0 882.50,742.9 882.75,743.0 883.00,742.8 883.25,742.9 883.50,742.8 883.75,742.1 884.00,743.0 884.25,741.6 884.50,743.7 884.75,742.1 885.00,743.6 885.25,742.8 885.50,740.6 885.75,744.6 886.00,743.4 886.25,742.9 886.50,742.5 886.75,745.4 887.00,742.7 887.25,744.3 887.50,743.3 887.75,741.2 888.00,744.0 888.25,740.9 888.50,743.6 888.75,743.5 889.00,743.3 889.25,742.0 889.50,744.9 889.75,745.4 890.00,741.8 890.25,742.5 890.50,745.2 890.75,742.4 891.00,744.3 891.25,741.7 891.50,742.1 891.75,743.3 892.00,743.6 892.25,741.0 892.50,741.6 892.75,743.7 893.00,744.7 893.25,743.7 893.50,743.5 893.75,743.6 894.00,741.4 894.25,743.5 894.50,744.2 894.75,743.8 895.00,741.4 895.25,741.7 895.50,744.5 895.75,741.1 896.00,741.6 896.25,745.2 896.50,741.8 896.75,742.0 897.00,743.9 897.25,744.1 897.50,742.8 897.75,741.1 898.00,742.3 898.25,743.2 898.50,741.8 898.75,741.7 899.00,744.7 899.25,743.8 899.50,744.1 899.75,744.2 900.00,741.7 900.25,743.7 900.50,744.6 900.75,744.0 901.00,741.5 901.25,740.9 901.50,742.0 901.75,743.8 902.00,742.8 902.25,743.4 902.50,741.3 902.75,744.2 903.00,742.1 903.25,744.6 903.50,743.0 903.75,739.0 904.00,742.8 904.25,741.9 904.50,741.9 904.75,742.8 905.00,744.5 905.25,744.2 905.50,744.9 905.75,743.1 906.00,740.5 906.25,742.3 906.50,741.8 906.75,742.1 907.00,746.7 907.25,744.1 907.50,741.8 907.75,744.7 908.00,742.7 908.25,741.2 908.50,744.7 908.75,742.4 909.00,743.2 909.25,746.2 909.50,741.7 909.75,744.5 910.00,742.7 910.25,741.6 910.50,742.7 910.75,743.3 911.00,743.3 911.25,741.0 911.50,744.2 911.75,741.9 912.00,743.5 912.25,743.4 912.50,742.3 912.75,743.9 913.00,742.1 913.25,741.8 913.50,741.2 913.75,740.6 914.00,742.1 914.25,740.1 914.50,742.6 914.75,742.4 915.00,745.3 915.25,741.5 915.50,744.6 915.75,743.6 916.00,743.5 916.25,742.2 916.50,742.0 916.75,742.7 917.00,743.0 917.25,743.9 917.50,742.4 917.75,745.2 918.00,745.4 918.25,739.8 918.50,743.3 918.75,742.9 919.00,741.8 919.25,739.5 919.50,740.8 919.75,742.8 920.00,744.0 920.25,743.7 920.50,743.8 920.75,742.8 921.00,744.5 921.25,743.8 921.50,744.6 921.75,742.9 922.00,742.2 922.25,741.1 922.50,745.2 922.75,742.3 923.00,741.7 923.25,740.2 923.50,743.9 923.75,741.3 924.00,743.2 924.25,743.5 924.50,745.1 924.75,742.2 925.00,740.5 925.25,744.3 925.50,743.5 925.75,742.3 926.00,743.1 926.25,745.7 926.50,743.2 926.75,742.3 927.00,743.0 927.25,743.9 927.50,743.6 927.75,743.6 928.00,743.6 928.25,741.6 928.50,744.0 928.75,744.6 929.00,744.1 929.25,743.1 929.50,743.1 929.75,743.4 930.00,743.2 930.25,740.9 930.50,743.0 930.75,744.9 931.00,742.7 931.25,742.5 931.50,744.0 931.75,743.3 932.00,742.2 932.25,743.4 932.50,745.5 932.75,745.7 933.00,743.4 933.25,743.0 933.50,744.8 933.75,743.8 934.00,744.0 934.25,743.1 934.50,741.5 934.75,741.3 935.00,743.1 935.25,741.7 935.50,744.3 935.75,744.5 936.00,745.2 936.25,743.4 936.50,745.9 936.75,745.0 937.00,743.8 937.25,744.3 937.50,742.5 937.75,739.0 938.00,744.7 938.25,743.9 938.50,745.5 938.75,743.9 939.00,743.0 939.25,742.6 939.50,742.4 939.75,743.5 940.00,740.8 940.25,741.7 940.50,744.4 940.75,740.5 941.00,741.1 941.25,742.4 941.50,742.7 941.75,743.3 942.00,744.4 942.25,743.6 942.50,744.0 942.75,742.5 943.00,743.3 943.25,742.3 943.50,743.1 943.75,744.0 944.00,743.9 944.25,740.7 944.50,741.7 944.75,745.9 945.00,740.5 945.25,743.3 945.50,741.7 945.75,743.0 946.00,742.5 946.25,743.3 946.50,741.8 946.75,744.7 947.00,746.2 947.25,739.9 947.50,742.1 947.75,741.2 948.00,743.4 948.25,745.2 948.50,745.1 948.75,745.0 949.00,743.6 949.25,742.5 949.50,744.8 949.75,742.4 950.00,742.2 950.25,743.4 950.50,741.6 950.75,743.0 951.00,742.0 951.25,743.4 951.50,744.6 951.75,742.5 952.00,743.9 952.25,744.6 952.50,742.2 952.75,743.2 953.00,742.8 953.25,745.7 953.50,742.6 953.75,743.4 954.00,741.4 954.25,742.0 954.50,744.1 954.75,742.9 955.00,744.3 955.25,743.4 955.50,746.8 955.75,743.0 956.00,744.6 956.25,742.3 956.50,742.7 956.75,741.2 957.00,746.9 957.25,740.5 957.50,743.5 957.75,742.7 958.00,744.4 958.25,742.6 958.50,745.9 958.75,744.9 959.00,744.0 959.25,744.0 959.50,744.8 959.75,743.9 960.00,745.5 960.25,744.6 960.50,743.3 960.75,744.0 961.00,743.7 961.25,745.0 961.50,743.1 961.75,743.5 962.00,741.7 962.25,744.3 962.50,743.7 962.75,742.5 963.00,745.7 963.25,743.5 963.50,741.9 963.75,745.0 964.00,743.2 964.25,739.2 964.50,743.9 964.75,743.4 965.00,743.5 965.25,743.1 965.50,742.3 965.75,743.6 966.00,741.1 966.25,743.2 966.50,744.6 966.75,744.8 967.00,742.8 967.25,746.0 967.50,743.8 967.75,742.8 968.00,743.6 968.25,742.5 968.50,744.6 968.75,742.2 969.00,742.5 969.25,741.9 969.50,742.3 969.75,743.0 970.00,745.9 970.25,743.8 970.50,745.0 970.75,743.5 971.00,744.7 971.25,742.0 971.50,741.9 971.75,746.0 972.00,743.9 972.25,741.3 972.50,744.3 972.75,743.2 973.00,743.1 973.25,744.6 973.50,741.8 973.75,745.1 974.00,743.8" fill="none" stroke="#06a8c5" stroke-width="3.0" stroke-linejoin="round"/><text x="210.5" y="112.5" text-anchor="middle" font-size="42" font-weight="bold">Mo<tspan font-size="27.5" dy="10.1">2</tspan><tspan dy="-10.1">C-A</tspan></text><text x="210.5" y="160.6" text-anchor="middle" font-size="42" font-weight="bold">fresh</text><text x="209" y="266.5" text-anchor="middle" font-size="42" font-weight="bold">Mo<tspan font-size="27.5" dy="10.1">2</tspan><tspan dy="-10.1">C-A</tspan></text><text x="209" y="314" text-anchor="middle" font-size="42" font-weight="bold">aged</text><text x="208.3" y="390.3" text-anchor="middle" font-size="42" font-weight="bold">Mo<tspan font-size="27.5" dy="10.1">2</tspan><tspan dy="-10.1">C-A</tspan></text><text x="208.3" y="437.5" text-anchor="middle" font-size="42" font-weight="bold">tested</text><text x="203.7" y="547.2" text-anchor="middle" font-size="42" font-weight="bold">Mo<tspan font-size="27.5" dy="10.1">2</tspan><tspan dy="-10.1">C-B</tspan></text><text x="203.7" y="595.6" text-anchor="middle" font-size="42" font-weight="bold">fresh</text><text x="209.4" y="678.75" text-anchor="middle" font-size="42" font-weight="bold">Mo<tspan font-size="27.5" dy="10.1">2</tspan><tspan dy="-10.1">C-B</tspan></text><text x="209.4" y="726.7" text-anchor="middle" font-size="42" font-weight="bold">aged</text><polygon points="298.3,272.2 326.5,272.2 312.4,300.4" fill="#000"/><polygon points="510.2,272.2 538.4,272.2 524.3,300.4" fill="#000"/><polygon points="664.9,272.4 693.1,272.4 679.0,300.6" fill="#000"/><polygon points="509.0,405.0 537.2,405.0 523.1,433.2" fill="#000"/><polygon points="511.8,698.0 540.0,698.0 525.9,726.2" fill="#000"/><polygon points="814.2,99.6 842.4,99.6 828.3,127.8" fill="#000"/><text x="849" y="127.5" font-size="42" font-weight="bold">:</text><text x="873.3" y="127.5" font-size="42" font-weight="bold">MoO<tspan font-size="27.5" dy="10">2</tspan></text><text transform="translate(68.8,410.5) rotate(-90)" x="0" y="0" text-anchor="middle" font-size="48" font-weight="bold">Intensity (a.u.)</text><text transform="translate(479.8,853.7) scale(1,1.06)" x="0" y="0" font-size="49" font-weight="bold">2</text><text x="507.9" y="853.7" font-size="50" font-weight="bold" font-style="italic">θ</text><text x="547.1" y="853.7" font-size="48" font-weight="bold">(°)</text></svg></body></html>
